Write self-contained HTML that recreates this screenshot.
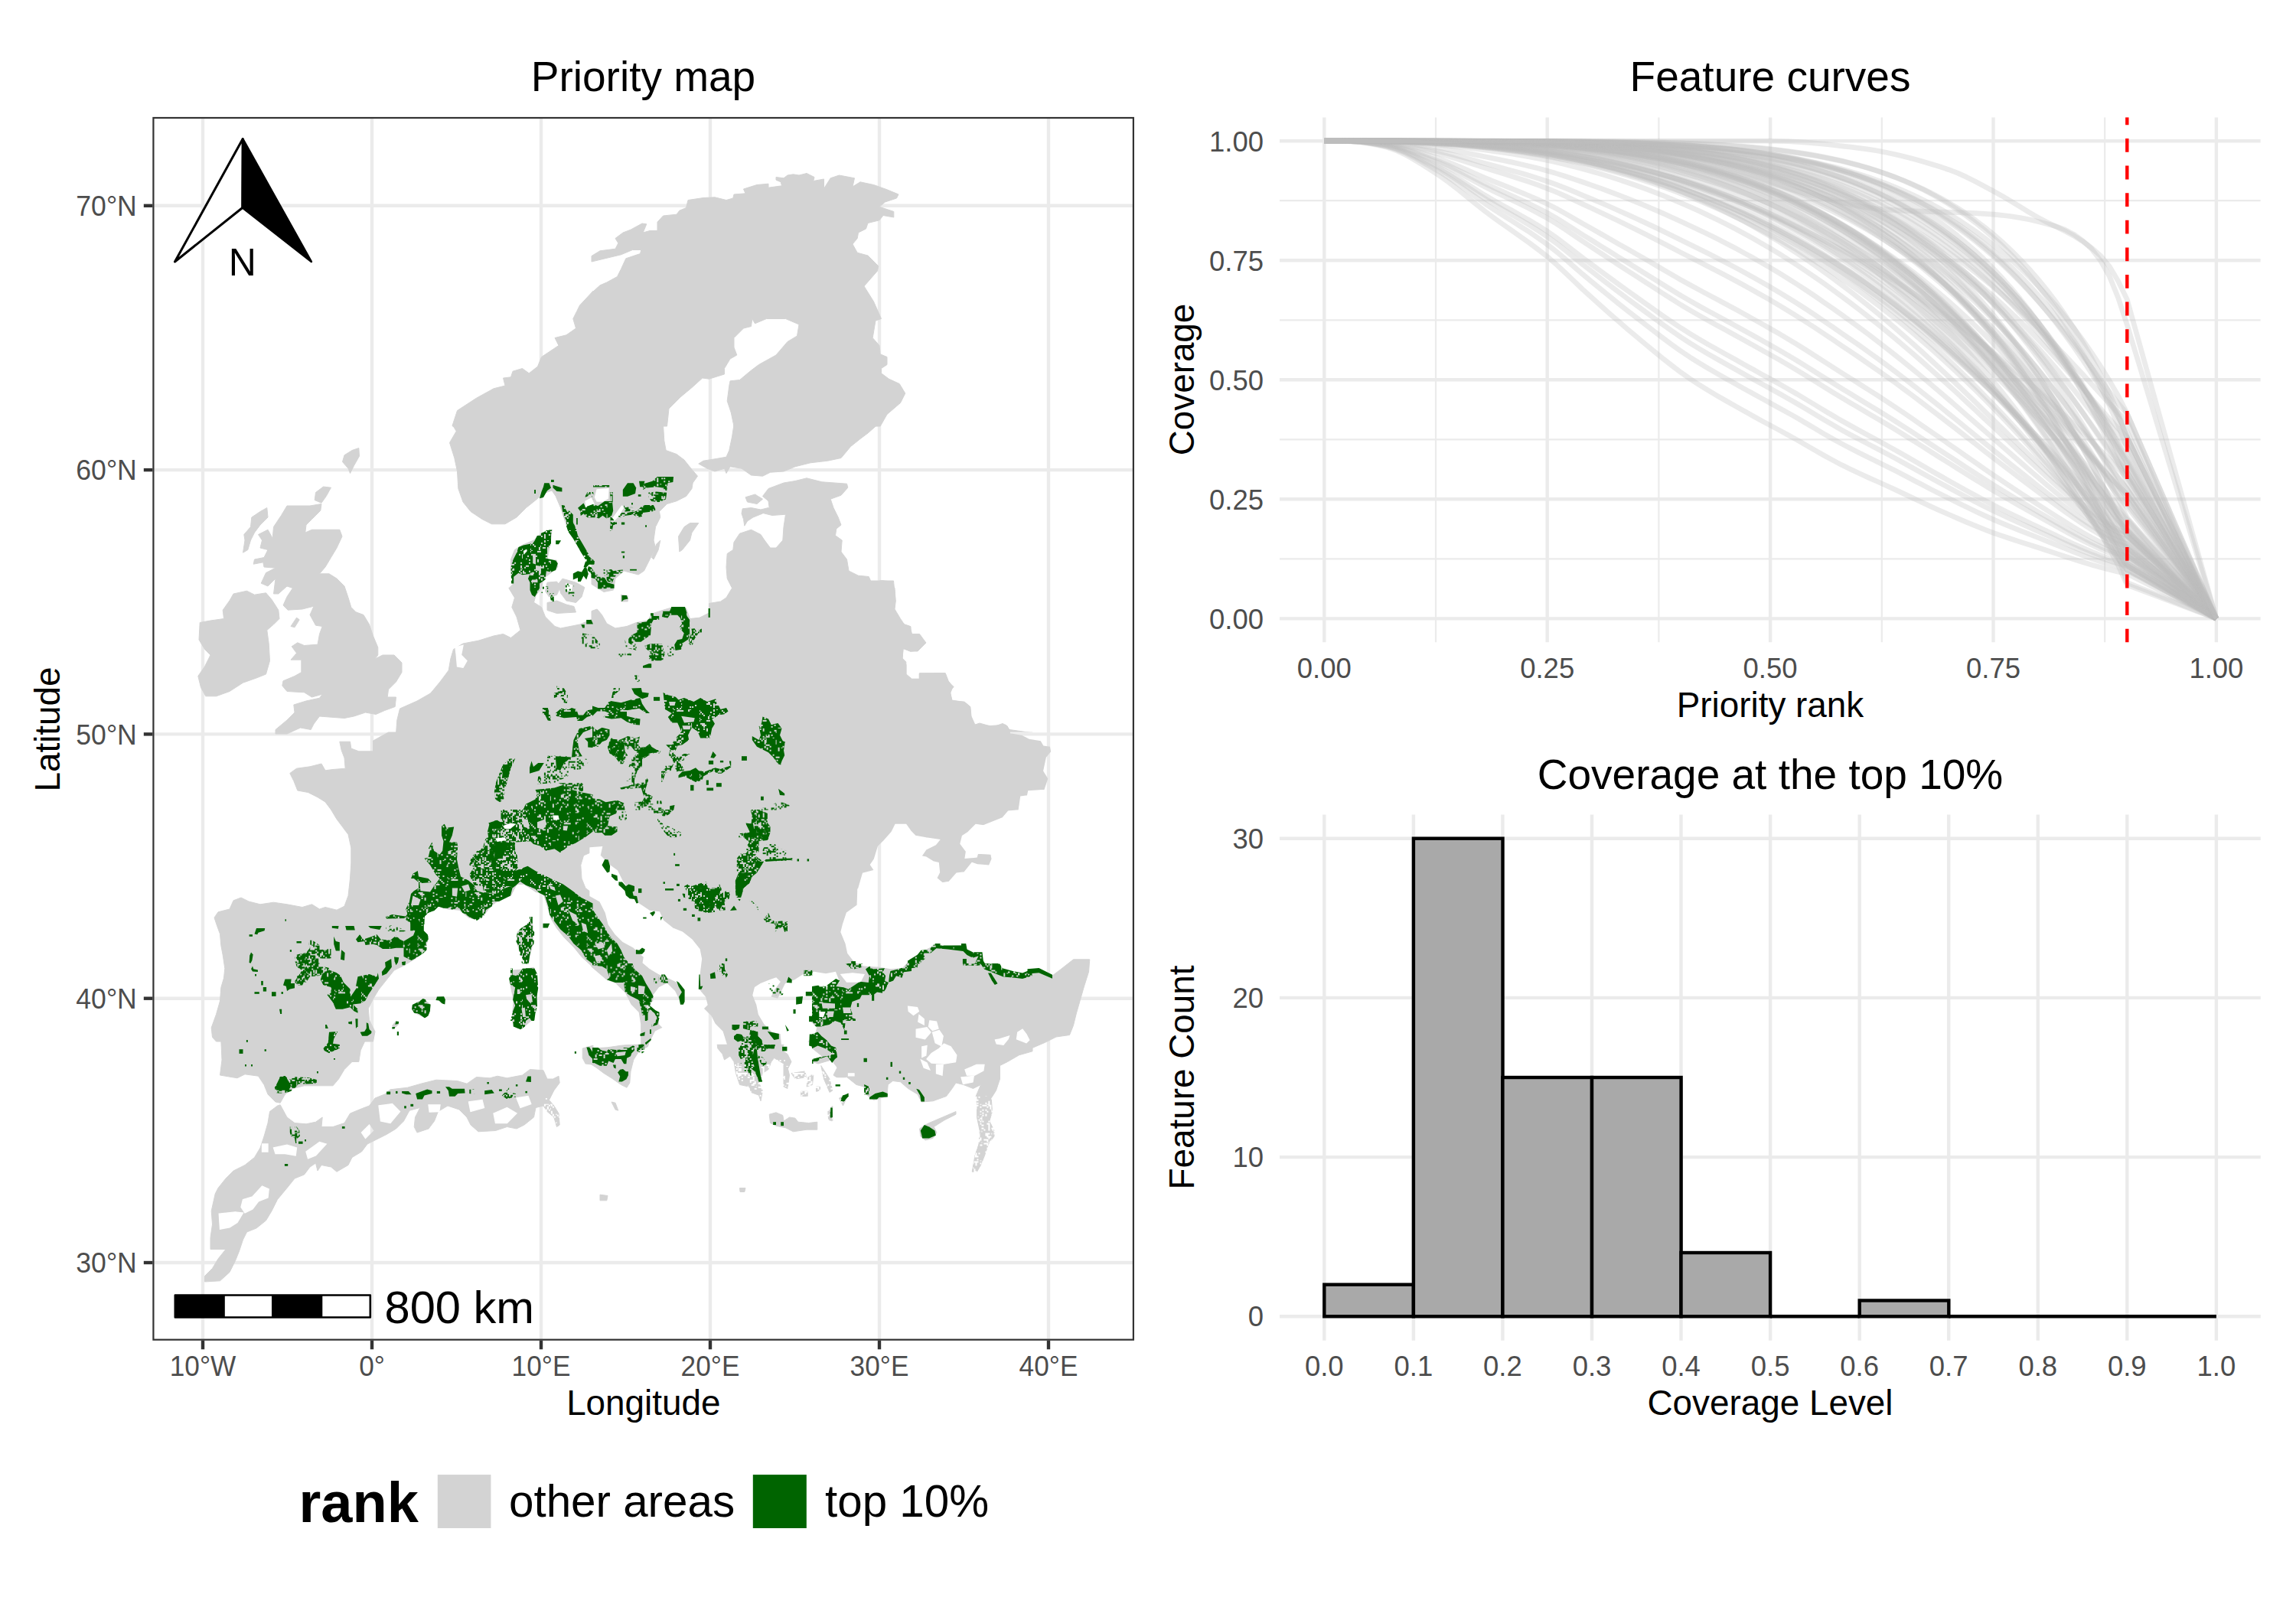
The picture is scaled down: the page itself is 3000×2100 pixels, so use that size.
<!DOCTYPE html>
<html><head><meta charset="utf-8"><title>Priority map</title>
<style>html,body{margin:0;padding:0;background:#fff}svg{display:block}</style></head>
<body>
<svg width="3000" height="2100" viewBox="0 0 3000 2100" font-family='"Liberation Sans", sans-serif'>
<rect width="3000" height="2100" fill="#fff"/>
<defs><clipPath id="mapclip"><rect x="199.3" y="152.9" width="1282.7" height="1598.8999999999999"/></clipPath>
<pattern id="sp" width="73.68" height="73.68" patternUnits="userSpaceOnUse" fill="#000" shape-rendering="crispEdges"><rect x="3.68" y="0.00" width="1.89" height="1.89"/><rect x="20.26" y="0.00" width="1.89" height="1.89"/><rect x="29.47" y="0.00" width="3.73" height="1.89"/><rect x="38.68" y="0.00" width="1.89" height="1.89"/><rect x="42.37" y="0.00" width="5.58" height="1.89"/><rect x="3.68" y="1.84" width="14.79" height="1.89"/><rect x="23.95" y="1.84" width="1.89" height="1.89"/><rect x="33.16" y="1.84" width="1.89" height="1.89"/><rect x="38.68" y="1.84" width="1.89" height="1.89"/><rect x="44.21" y="1.84" width="1.89" height="1.89"/><rect x="51.58" y="1.84" width="1.89" height="1.89"/><rect x="5.53" y="3.68" width="5.58" height="1.89"/><rect x="14.74" y="3.68" width="1.89" height="1.89"/><rect x="20.26" y="3.68" width="1.89" height="1.89"/><rect x="23.95" y="3.68" width="3.73" height="1.89"/><rect x="29.47" y="3.68" width="1.89" height="1.89"/><rect x="46.05" y="3.68" width="1.89" height="1.89"/><rect x="55.26" y="3.68" width="3.73" height="1.89"/><rect x="62.63" y="3.68" width="1.89" height="1.89"/><rect x="5.53" y="5.53" width="3.73" height="1.89"/><rect x="22.10" y="5.53" width="3.73" height="1.89"/><rect x="66.31" y="5.53" width="1.89" height="1.89"/><rect x="5.53" y="7.37" width="1.89" height="1.89"/><rect x="11.05" y="7.37" width="1.89" height="1.89"/><rect x="18.42" y="7.37" width="3.73" height="1.89"/><rect x="25.79" y="7.37" width="1.89" height="1.89"/><rect x="35.00" y="7.37" width="5.58" height="1.89"/><rect x="42.37" y="7.37" width="1.89" height="1.89"/><rect x="46.05" y="7.37" width="1.89" height="1.89"/><rect x="64.47" y="7.37" width="3.73" height="1.89"/><rect x="7.37" y="9.21" width="1.89" height="1.89"/><rect x="25.79" y="9.21" width="1.89" height="1.89"/><rect x="35.00" y="9.21" width="3.73" height="1.89"/><rect x="55.26" y="9.21" width="1.89" height="1.89"/><rect x="66.31" y="9.21" width="1.89" height="1.89"/><rect x="11.05" y="11.05" width="1.89" height="1.89"/><rect x="22.10" y="11.05" width="5.58" height="1.89"/><rect x="36.84" y="11.05" width="5.58" height="1.89"/><rect x="51.58" y="11.05" width="3.73" height="1.89"/><rect x="57.10" y="11.05" width="1.89" height="1.89"/><rect x="22.10" y="12.89" width="1.89" height="1.89"/><rect x="27.63" y="12.89" width="1.89" height="1.89"/><rect x="38.68" y="12.89" width="1.89" height="1.89"/><rect x="58.94" y="12.89" width="1.89" height="1.89"/><rect x="25.79" y="14.74" width="3.73" height="1.89"/><rect x="33.16" y="14.74" width="5.58" height="1.89"/><rect x="42.37" y="14.74" width="1.89" height="1.89"/><rect x="70.00" y="14.74" width="3.73" height="1.89"/><rect x="1.84" y="16.58" width="5.58" height="1.89"/><rect x="23.95" y="16.58" width="3.73" height="1.89"/><rect x="36.84" y="16.58" width="1.89" height="1.89"/><rect x="40.52" y="16.58" width="1.89" height="1.89"/><rect x="46.05" y="16.58" width="1.89" height="1.89"/><rect x="49.73" y="16.58" width="1.89" height="1.89"/><rect x="53.42" y="16.58" width="1.89" height="1.89"/><rect x="57.10" y="16.58" width="1.89" height="1.89"/><rect x="62.63" y="16.58" width="3.73" height="1.89"/><rect x="0.00" y="18.42" width="7.42" height="1.89"/><rect x="18.42" y="18.42" width="1.89" height="1.89"/><rect x="29.47" y="18.42" width="1.89" height="1.89"/><rect x="38.68" y="18.42" width="3.73" height="1.89"/><rect x="47.89" y="18.42" width="1.89" height="1.89"/><rect x="68.15" y="18.42" width="1.89" height="1.89"/><rect x="3.68" y="20.26" width="3.73" height="1.89"/><rect x="33.16" y="20.26" width="5.58" height="1.89"/><rect x="58.94" y="20.26" width="1.89" height="1.89"/><rect x="71.84" y="20.26" width="1.89" height="1.89"/><rect x="0.00" y="22.10" width="1.89" height="1.89"/><rect x="9.21" y="22.10" width="1.89" height="1.89"/><rect x="20.26" y="22.10" width="1.89" height="1.89"/><rect x="27.63" y="22.10" width="3.73" height="1.89"/><rect x="36.84" y="22.10" width="1.89" height="1.89"/><rect x="53.42" y="22.10" width="3.73" height="1.89"/><rect x="58.94" y="22.10" width="1.89" height="1.89"/><rect x="64.47" y="22.10" width="1.89" height="1.89"/><rect x="1.84" y="23.95" width="1.89" height="1.89"/><rect x="9.21" y="23.95" width="1.89" height="1.89"/><rect x="38.68" y="23.95" width="1.89" height="1.89"/><rect x="47.89" y="23.95" width="1.89" height="1.89"/><rect x="60.79" y="23.95" width="1.89" height="1.89"/><rect x="64.47" y="23.95" width="1.89" height="1.89"/><rect x="3.68" y="25.79" width="1.89" height="1.89"/><rect x="9.21" y="25.79" width="1.89" height="1.89"/><rect x="14.74" y="25.79" width="1.89" height="1.89"/><rect x="20.26" y="25.79" width="3.73" height="1.89"/><rect x="36.84" y="25.79" width="5.58" height="1.89"/><rect x="46.05" y="25.79" width="1.89" height="1.89"/><rect x="58.94" y="25.79" width="5.58" height="1.89"/><rect x="20.26" y="27.63" width="1.89" height="1.89"/><rect x="46.05" y="27.63" width="1.89" height="1.89"/><rect x="49.73" y="27.63" width="1.89" height="1.89"/><rect x="58.94" y="27.63" width="1.89" height="1.89"/><rect x="70.00" y="27.63" width="1.89" height="1.89"/><rect x="0.00" y="29.47" width="1.89" height="1.89"/><rect x="3.68" y="29.47" width="3.73" height="1.89"/><rect x="16.58" y="29.47" width="1.89" height="1.89"/><rect x="55.26" y="29.47" width="7.42" height="1.89"/><rect x="14.74" y="31.31" width="1.89" height="1.89"/><rect x="35.00" y="31.31" width="1.89" height="1.89"/><rect x="47.89" y="31.31" width="1.89" height="1.89"/><rect x="55.26" y="31.31" width="1.89" height="1.89"/><rect x="71.84" y="31.31" width="1.89" height="1.89"/><rect x="0.00" y="33.16" width="3.73" height="1.89"/><rect x="22.10" y="33.16" width="1.89" height="1.89"/><rect x="25.79" y="33.16" width="1.89" height="1.89"/><rect x="46.05" y="33.16" width="1.89" height="1.89"/><rect x="12.89" y="35.00" width="1.89" height="1.89"/><rect x="16.58" y="35.00" width="1.89" height="1.89"/><rect x="20.26" y="35.00" width="3.73" height="1.89"/><rect x="42.37" y="35.00" width="1.89" height="1.89"/><rect x="49.73" y="35.00" width="1.89" height="1.89"/><rect x="3.68" y="36.84" width="1.89" height="1.89"/><rect x="9.21" y="36.84" width="1.89" height="1.89"/><rect x="18.42" y="36.84" width="7.42" height="1.89"/><rect x="55.26" y="36.84" width="1.89" height="1.89"/><rect x="66.31" y="36.84" width="3.73" height="1.89"/><rect x="12.89" y="38.68" width="1.89" height="1.89"/><rect x="18.42" y="38.68" width="1.89" height="1.89"/><rect x="38.68" y="38.68" width="1.89" height="1.89"/><rect x="68.15" y="38.68" width="1.89" height="1.89"/><rect x="1.84" y="40.52" width="3.73" height="1.89"/><rect x="16.58" y="40.52" width="1.89" height="1.89"/><rect x="23.95" y="40.52" width="1.89" height="1.89"/><rect x="35.00" y="40.52" width="1.89" height="1.89"/><rect x="38.68" y="40.52" width="1.89" height="1.89"/><rect x="66.31" y="40.52" width="1.89" height="1.89"/><rect x="27.63" y="42.37" width="1.89" height="1.89"/><rect x="36.84" y="42.37" width="3.73" height="1.89"/><rect x="47.89" y="42.37" width="5.58" height="1.89"/><rect x="55.26" y="42.37" width="3.73" height="1.89"/><rect x="66.31" y="42.37" width="1.89" height="1.89"/><rect x="14.74" y="44.21" width="1.89" height="1.89"/><rect x="20.26" y="44.21" width="5.58" height="1.89"/><rect x="31.31" y="44.21" width="5.58" height="1.89"/><rect x="38.68" y="44.21" width="3.73" height="1.89"/><rect x="47.89" y="44.21" width="1.89" height="1.89"/><rect x="53.42" y="44.21" width="1.89" height="1.89"/><rect x="57.10" y="44.21" width="1.89" height="1.89"/><rect x="3.68" y="46.05" width="1.89" height="1.89"/><rect x="11.05" y="46.05" width="1.89" height="1.89"/><rect x="14.74" y="46.05" width="1.89" height="1.89"/><rect x="18.42" y="46.05" width="1.89" height="1.89"/><rect x="22.10" y="46.05" width="1.89" height="1.89"/><rect x="27.63" y="46.05" width="1.89" height="1.89"/><rect x="36.84" y="46.05" width="1.89" height="1.89"/><rect x="40.52" y="46.05" width="1.89" height="1.89"/><rect x="51.58" y="46.05" width="1.89" height="1.89"/><rect x="58.94" y="46.05" width="1.89" height="1.89"/><rect x="3.68" y="47.89" width="1.89" height="1.89"/><rect x="22.10" y="47.89" width="1.89" height="1.89"/><rect x="40.52" y="47.89" width="1.89" height="1.89"/><rect x="51.58" y="47.89" width="1.89" height="1.89"/><rect x="55.26" y="47.89" width="1.89" height="1.89"/><rect x="0.00" y="49.73" width="5.58" height="1.89"/><rect x="31.31" y="49.73" width="1.89" height="1.89"/><rect x="35.00" y="49.73" width="1.89" height="1.89"/><rect x="42.37" y="49.73" width="1.89" height="1.89"/><rect x="49.73" y="49.73" width="1.89" height="1.89"/><rect x="53.42" y="49.73" width="1.89" height="1.89"/><rect x="70.00" y="49.73" width="1.89" height="1.89"/><rect x="18.42" y="51.58" width="1.89" height="1.89"/><rect x="27.63" y="51.58" width="1.89" height="1.89"/><rect x="36.84" y="51.58" width="1.89" height="1.89"/><rect x="42.37" y="51.58" width="3.73" height="1.89"/><rect x="47.89" y="51.58" width="1.89" height="1.89"/><rect x="57.10" y="51.58" width="1.89" height="1.89"/><rect x="71.84" y="51.58" width="1.89" height="1.89"/><rect x="20.26" y="53.42" width="1.89" height="1.89"/><rect x="31.31" y="53.42" width="1.89" height="1.89"/><rect x="46.05" y="53.42" width="3.73" height="1.89"/><rect x="57.10" y="53.42" width="1.89" height="1.89"/><rect x="0.00" y="55.26" width="1.89" height="1.89"/><rect x="20.26" y="55.26" width="1.89" height="1.89"/><rect x="27.63" y="55.26" width="1.89" height="1.89"/><rect x="35.00" y="55.26" width="1.89" height="1.89"/><rect x="42.37" y="55.26" width="5.58" height="1.89"/><rect x="51.58" y="55.26" width="1.89" height="1.89"/><rect x="58.94" y="55.26" width="1.89" height="1.89"/><rect x="62.63" y="55.26" width="1.89" height="1.89"/><rect x="3.68" y="57.10" width="1.89" height="1.89"/><rect x="20.26" y="57.10" width="3.73" height="1.89"/><rect x="31.31" y="57.10" width="1.89" height="1.89"/><rect x="35.00" y="57.10" width="1.89" height="1.89"/><rect x="47.89" y="57.10" width="3.73" height="1.89"/><rect x="58.94" y="57.10" width="1.89" height="1.89"/><rect x="64.47" y="57.10" width="1.89" height="1.89"/><rect x="23.95" y="58.94" width="1.89" height="1.89"/><rect x="29.47" y="58.94" width="1.89" height="1.89"/><rect x="57.10" y="58.94" width="1.89" height="1.89"/><rect x="60.79" y="58.94" width="1.89" height="1.89"/><rect x="66.31" y="58.94" width="1.89" height="1.89"/><rect x="20.26" y="60.79" width="1.89" height="1.89"/><rect x="27.63" y="60.79" width="3.73" height="1.89"/><rect x="55.26" y="60.79" width="1.89" height="1.89"/><rect x="5.53" y="62.63" width="1.89" height="1.89"/><rect x="25.79" y="62.63" width="1.89" height="1.89"/><rect x="29.47" y="62.63" width="1.89" height="1.89"/><rect x="49.73" y="62.63" width="1.89" height="1.89"/><rect x="1.84" y="64.47" width="1.89" height="1.89"/><rect x="5.53" y="64.47" width="1.89" height="1.89"/><rect x="14.74" y="64.47" width="1.89" height="1.89"/><rect x="20.26" y="64.47" width="1.89" height="1.89"/><rect x="27.63" y="64.47" width="1.89" height="1.89"/><rect x="31.31" y="64.47" width="1.89" height="1.89"/><rect x="38.68" y="64.47" width="1.89" height="1.89"/><rect x="44.21" y="64.47" width="3.73" height="1.89"/><rect x="51.58" y="64.47" width="1.89" height="1.89"/><rect x="55.26" y="64.47" width="1.89" height="1.89"/><rect x="3.68" y="66.31" width="7.42" height="1.89"/><rect x="46.05" y="66.31" width="1.89" height="1.89"/><rect x="51.58" y="66.31" width="7.42" height="1.89"/><rect x="62.63" y="66.31" width="1.89" height="1.89"/><rect x="70.00" y="66.31" width="1.89" height="1.89"/><rect x="5.53" y="68.15" width="1.89" height="1.89"/><rect x="14.74" y="68.15" width="1.89" height="1.89"/><rect x="27.63" y="68.15" width="1.89" height="1.89"/><rect x="36.84" y="68.15" width="3.73" height="1.89"/><rect x="46.05" y="68.15" width="1.89" height="1.89"/><rect x="51.58" y="68.15" width="1.89" height="1.89"/><rect x="55.26" y="68.15" width="1.89" height="1.89"/><rect x="3.68" y="70.00" width="1.89" height="1.89"/><rect x="7.37" y="70.00" width="3.73" height="1.89"/><rect x="14.74" y="70.00" width="1.89" height="1.89"/><rect x="23.95" y="70.00" width="1.89" height="1.89"/><rect x="29.47" y="70.00" width="3.73" height="1.89"/><rect x="38.68" y="70.00" width="1.89" height="1.89"/><rect x="49.73" y="70.00" width="1.89" height="1.89"/><rect x="55.26" y="70.00" width="1.89" height="1.89"/><rect x="7.37" y="71.84" width="3.73" height="1.89"/><rect x="14.74" y="71.84" width="1.89" height="1.89"/><rect x="38.68" y="71.84" width="1.89" height="1.89"/><rect x="51.58" y="71.84" width="1.89" height="1.89"/></pattern>
<mask id="landmask" maskUnits="userSpaceOnUse" x="0" y="0" width="3000" height="2100">
<rect width="3000" height="2100" fill="#000"/>
<polygon points="591.2,555.8 597.5,536.5 622.5,520.2 645.0,507.8 660.0,504.0 657.5,494.0 667.5,492.8 670.0,485.2 682.5,481.5 691.2,487.8 702.5,479.0 707.5,466.5 715.0,461.5 730.0,451.5 725.0,441.5 740.0,437.8 752.5,429.0 748.8,416.5 753.8,406.5 757.5,399.0 775.0,380.2 775.0,557.0 591.2,557.0" fill="#fff" stroke="#fff" stroke-width="1"/>
<polygon points="773.0,557.0 773.0,382.8 784.0,372.8 792.8,369.0 806.5,361.5 811.5,351.5 817.8,337.8 836.5,331.5 837.8,326.5 826.5,326.5 811.5,332.8 773.0,342.0 773.0,334.5 784.0,327.8 804.0,325.2 807.8,317.8 804.0,311.5 814.0,304.0 824.0,300.2 839.0,292.0 844.8,292.8 840.2,304.0 849.0,301.5 859.0,301.5 859.0,290.2 866.5,282.0 884.0,280.2 887.8,275.2 896.5,271.5 899.0,261.5 919.0,258.5 934.0,257.8 949.0,261.5 957.8,259.0 959.0,254.0 974.0,252.8 971.5,247.0 989.0,241.5 1004.0,240.2 1004.0,245.2 1021.5,242.8 1020.2,237.8 1014.0,235.2 1014.0,231.5 1024.0,232.8 1029.0,229.0 1036.5,227.8 1044.0,229.0 1054.0,226.5 1064.0,231.5 1062.8,236.5 1076.5,234.0 1076.5,246.5 1085.2,232.8 1096.5,229.0 1116.5,232.8 1114.0,244.0 1124.0,237.8 1141.5,241.5 1159.0,247.8 1174.0,254.0 1171.5,259.0 1156.5,264.0 1149.0,270.2 1167.8,276.5 1167.8,284.0 1154.0,281.5 1149.0,287.8 1134.0,291.5 1131.5,299.0 1121.5,304.0 1120.2,311.5 1114.0,319.0 1120.2,330.2 1134.0,334.0 1147.8,347.8 1146.5,354.0 1129.0,374.0 1141.5,394.0 1151.5,416.5 1144.0,419.0 1140.2,441.5 1149.0,451.5 1150.2,462.8 1159.0,466.5 1159.0,476.5 1151.5,481.5 1151.5,487.8 1161.5,495.2 1175.2,501.5 1182.8,514.0 1176.5,526.5 1159.0,541.5 1150.2,557.0 959.0,557.0 955.2,539.0 950.2,524.0 952.8,504.0 954.0,497.8 966.5,496.5 981.5,484.0 991.5,476.5 1014.0,464.0 1029.0,446.5 1041.5,439.0 1044.0,424.0 1026.5,416.5 1001.5,416.5 986.5,422.8 982.8,416.5 981.5,426.5 971.5,429.0 959.0,441.5 959.0,454.0 962.8,464.0 954.0,469.0 946.5,481.5 946.5,489.0 926.5,495.2 917.8,494.0 904.0,506.5 889.0,519.0 874.0,534.0 871.5,557.0" fill="#fff" stroke="#fff" stroke-width="1"/>
<polygon points="468.8,585.5 469.5,596.0 462.5,608.5 457.5,618.5 455.0,612.2 447.5,603.5 450.0,594.8 460.0,588.5" fill="#fff" stroke="#fff" stroke-width="1"/>
<polygon points="422.5,636.0 432.5,637.2 426.2,648.5 420.0,657.2 411.2,653.5 412.5,643.5" fill="#fff" stroke="#fff" stroke-width="1"/>
<polygon points="348.8,663.5 350.0,676.0 340.0,686.0 332.5,696.0 327.5,706.0 323.8,718.5 317.5,722.2 320.0,706.0 318.8,698.5 327.5,688.5 328.8,676.0 340.0,668.5" fill="#fff" stroke="#fff" stroke-width="1"/>
<polygon points="375.0,661.0 405.0,661.0 420.0,658.5 418.8,667.2 407.5,678.5 400.0,686.0 398.8,696.0 407.5,692.2 443.8,692.2 447.0,701.0 440.0,716.0 432.5,728.5 425.0,741.0 417.5,749.8 430.0,749.8 440.0,756.0 450.0,766.0 455.0,781.0 458.8,793.5 465.0,799.8 475.0,803.5 482.5,816.0 487.5,831.0 493.8,846.0 493.8,856.0 490.0,861.0 500.0,856.0 515.0,856.0 525.0,866.0 525.0,878.5 517.5,891.0 507.5,901.0 506.2,911.0 517.5,911.0 516.2,923.5 502.5,928.5 491.2,933.5 477.5,931.0 462.5,936.0 450.0,938.5 432.5,937.2 417.5,936.0 410.0,946.0 406.2,953.5 392.5,951.0 375.0,959.0 360.0,959.0 360.0,953.5 375.0,941.0 385.0,931.0 383.8,921.0 400.0,916.0 417.5,912.2 421.2,907.2 407.5,911.0 397.5,904.8 375.0,903.5 368.8,896.0 370.0,889.8 385.0,883.5 393.8,878.5 393.8,862.2 380.0,862.2 387.5,853.5 381.2,844.8 388.8,839.8 397.5,843.5 415.0,842.2 417.5,828.5 421.2,818.5 412.5,817.2 405.0,803.5 410.0,792.2 395.0,796.0 376.2,797.2 370.0,791.0 375.0,779.8 382.5,768.5 375.0,766.0 363.8,776.0 357.5,776.0 360.0,756.0 350.0,766.0 341.2,762.2 347.5,748.5 360.0,742.2 345.0,741.0 343.8,734.8 331.2,737.2 332.5,731.0 345.0,728.5 350.0,718.5 340.0,716.0 342.5,706.0 337.5,698.5 350.0,692.2 356.2,703.5 357.5,688.5 367.5,673.5" fill="#fff" stroke="#fff" stroke-width="1"/>
<polygon points="380.0,818.5 387.5,807.2 391.2,809.8 385.0,819.8" fill="#fff" stroke="#fff" stroke-width="1"/>
<polygon points="322.5,772.2 332.5,777.2 347.5,774.8 355.0,783.5 363.8,797.2 365.0,808.5 357.5,816.0 348.8,823.5 351.2,841.0 352.5,863.5 347.5,881.0 335.0,886.0 317.5,892.2 300.0,903.5 282.5,909.8 268.8,909.8 262.5,898.5 258.8,883.5 267.5,871.0 275.0,856.0 267.5,848.5 260.0,836.0 261.2,813.5 275.0,811.0 292.5,808.5 291.2,797.2 300.0,784.8 305.0,776.0" fill="#fff" stroke="#fff" stroke-width="1"/>
<polygon points="591.2,555.0 596.2,563.5 587.5,578.5 593.8,598.5 597.5,616.0 598.8,638.5 605.0,656.0 615.0,668.5 630.0,678.5 642.5,684.8 660.0,684.8 675.0,676.0 687.5,663.5 700.0,653.5 710.0,644.8 721.2,641.0 726.2,648.5 732.5,663.5 740.0,686.0 750.0,703.5 762.5,721.0 775.0,737.2 775.0,555.0" fill="#fff" stroke="#fff" stroke-width="1"/>
<polygon points="721.2,692.2 718.8,711.0 715.0,731.0 727.5,732.2 728.8,741.0 720.0,748.5 710.0,756.0 707.5,768.5 700.0,778.5 697.5,787.2 690.0,773.5 685.0,776.0 672.5,781.0 665.0,768.5 670.0,763.5 667.5,746.0 667.5,731.0 672.5,718.5 682.5,712.2 697.5,706.0 705.0,698.5" fill="#fff" stroke="#fff" stroke-width="1"/>
<polygon points="665.0,768.5 672.5,781.0 668.8,793.5 675.0,806.0 680.0,823.5 667.5,833.5 657.5,828.5 645.0,831.0 625.0,837.2 605.0,841.0 592.5,848.5 588.8,861.0 586.2,876.0 575.0,891.0 562.5,906.0 545.0,916.0 522.5,926.0 518.8,941.0 517.5,959.0 775.0,959.0 775.0,808.5 757.5,816.0 732.5,821.0 725.0,818.5 712.5,806.0 707.5,793.5 697.5,787.2 690.0,773.5" fill="#fff" stroke="#fff" stroke-width="1"/>
<polygon points="866.5,555.0 867.8,576.0 870.2,588.5 884.0,593.5 894.0,601.0 904.0,613.5 911.5,622.2 905.2,631.0 904.0,638.5 896.5,648.5 884.0,654.8 871.5,658.5 861.5,668.5 862.8,676.0 856.5,688.5 854.0,706.0 856.5,716.0 849.0,731.0 841.5,746.0 834.0,751.0 815.2,746.0 804.0,756.0 801.5,771.0 789.0,773.5 773.0,763.5 773.0,555.0" fill="#fff" stroke="#fff" stroke-width="1"/>
<polygon points="862.8,706.0 860.2,718.5 854.0,731.0 851.5,728.5 857.8,711.0" fill="#fff" stroke="#fff" stroke-width="1"/>
<polygon points="912.8,683.5 904.0,696.0 901.5,706.0 891.5,718.5 887.8,721.0 886.5,701.0 894.0,688.5 901.5,683.5" fill="#fff" stroke="#fff" stroke-width="1"/>
<polygon points="811.5,777.2 820.2,778.5 820.2,786.0 811.5,786.0" fill="#fff" stroke="#fff" stroke-width="1"/>
<polygon points="959.0,555.0 956.5,571.0 952.8,588.5 949.0,597.2 934.0,599.8 919.0,602.2 912.8,606.0 924.0,612.2 934.0,616.0 946.5,612.2 949.0,618.5 954.0,609.8 969.0,612.2 981.5,621.0 996.5,622.2 1006.5,617.2 1024.0,616.0 1039.0,609.8 1059.0,604.8 1081.5,602.2 1099.0,598.5 1111.5,583.5 1124.0,573.5 1134.0,566.0 1146.5,555.0" fill="#fff" stroke="#fff" stroke-width="1"/>
<polygon points="1004.0,638.5 1024.0,631.0 1039.0,628.5 1054.0,624.8 1074.0,629.8 1106.5,632.2 1107.8,637.2 1099.0,647.2 1085.2,652.2 1089.0,663.5 1095.2,676.0 1099.0,686.0 1092.8,691.0 1091.5,699.8 1100.2,706.0 1099.0,721.0 1106.5,731.0 1109.0,746.0 1121.5,752.2 1135.2,753.5 1139.0,762.2 1151.5,758.5 1162.8,759.8 1169.0,768.5 1170.2,786.0 1169.0,796.0 1176.5,808.5 1181.5,816.0 1189.0,818.5 1191.5,828.5 1201.5,828.5 1209.0,841.0 1199.0,851.0 1189.0,851.0 1180.2,847.2 1179.0,861.0 1184.0,868.5 1184.0,881.0 1191.5,887.2 1201.5,887.2 1201.5,879.8 1235.2,879.8 1239.0,889.8 1245.2,897.2 1241.5,906.0 1244.0,916.0 1260.2,917.2 1267.8,923.5 1269.0,936.0 1274.0,947.2 1294.0,948.5 1314.0,947.2 1319.0,953.5 1349.0,957.8 1349.0,959.0 773.0,959.0 773.0,798.5 780.2,796.0 786.5,803.5 792.8,814.8 804.0,821.0 819.0,818.5 831.5,813.5 846.5,811.0 851.5,802.2 866.5,797.2 879.0,793.5 896.5,794.8 901.5,808.5 914.0,807.2 926.5,801.0 926.5,788.5 941.5,786.0 949.0,781.0 956.5,768.5 950.2,756.0 949.0,741.0 950.2,723.5 957.8,718.5 959.0,708.5 966.5,697.2 981.5,692.2 994.0,698.5 999.0,706.0 1006.5,716.0 1014.0,716.0 1022.8,706.0 1024.0,688.5 1026.5,672.2 1009.0,673.5 994.0,669.8 1005.2,663.5 1004.0,654.8 996.5,648.5" fill="#fff" stroke="#fff" stroke-width="1"/>
<polygon points="974.0,649.8 986.5,646.0 996.5,652.2 989.0,658.5 976.5,656.0" fill="#fff" stroke="#fff" stroke-width="1"/>
<polygon points="970.2,664.8 981.5,663.5 994.0,666.0 1004.0,663.5 996.5,671.0 984.0,676.0 976.5,681.0 972.8,687.2 971.5,678.5 969.0,671.0" fill="#fff" stroke="#fff" stroke-width="1"/>
<polygon points="507.5,957.0 487.5,968.0 487.5,981.8 468.8,981.8 458.8,978.0 457.5,969.2 443.8,969.2 446.2,980.5 450.0,990.5 451.2,1004.2 435.0,1005.5 425.0,1006.8 420.0,998.0 405.0,1001.8 387.5,1004.2 378.8,1010.5 383.8,1020.5 388.8,1033.0 402.5,1035.5 415.0,1041.8 425.0,1048.0 432.5,1058.0 440.0,1070.5 447.5,1080.5 455.0,1090.5 458.8,1108.0 458.8,1128.0 457.5,1148.0 455.0,1170.5 450.0,1184.2 440.0,1189.2 425.0,1185.5 417.5,1188.0 407.5,1181.8 395.0,1185.5 375.0,1181.8 357.5,1179.2 340.0,1181.8 325.0,1178.0 315.0,1173.0 305.0,1176.8 300.0,1188.0 285.0,1191.8 280.0,1199.2 283.8,1210.5 287.5,1220.5 288.8,1235.5 291.2,1248.0 293.8,1265.5 292.5,1278.0 288.8,1290.5 287.5,1308.0 282.5,1325.5 276.2,1343.0 277.5,1355.5 282.5,1361.0 487.5,1361.0 490.0,1348.0 482.5,1333.0 481.2,1318.0 487.5,1305.5 495.0,1293.0 505.0,1280.5 515.0,1268.0 527.5,1261.8 542.5,1253.0 555.0,1240.5 558.8,1225.5 552.5,1215.5 552.5,1198.0 560.0,1191.8 572.5,1184.2 585.0,1188.0 600.0,1189.2 612.5,1199.2 622.5,1201.8 632.5,1195.5 642.5,1183.0 657.5,1173.0 667.5,1170.5 675.0,1155.5 685.0,1155.5 700.0,1165.5 710.0,1168.0 715.0,1183.0 720.0,1200.5 727.5,1213.0 737.5,1225.5 750.0,1238.0 760.0,1250.5 775.0,1264.2 775.0,1168.0 765.0,1160.5 760.0,1148.0 758.8,1130.5 762.5,1118.0 775.0,1112.5 775.0,957.0" fill="#fff" stroke="#fff" stroke-width="1"/>
<polygon points="693.8,1198.0 696.2,1210.5 696.2,1233.0 691.2,1253.0 686.2,1258.0 680.0,1245.5 675.0,1230.5 676.2,1218.0 685.0,1210.5 691.2,1205.5" fill="#fff" stroke="#fff" stroke-width="1"/>
<polygon points="685.0,1266.8 697.5,1264.2 701.2,1278.0 701.2,1308.0 697.5,1330.5 685.0,1341.8 675.0,1343.0 668.8,1333.0 671.2,1308.0 666.2,1283.0 670.0,1268.0" fill="#fff" stroke="#fff" stroke-width="1"/>
<polygon points="553.8,1305.5 562.5,1313.0 560.0,1325.5 551.2,1328.0 541.2,1323.0 538.8,1315.5 545.0,1310.5" fill="#fff" stroke="#fff" stroke-width="1"/>
<polygon points="570.0,1303.0 580.0,1302.5 581.2,1311.8 575.0,1309.2" fill="#fff" stroke="#fff" stroke-width="1"/>
<polygon points="517.5,1334.2 521.2,1338.0 515.0,1344.2 512.5,1340.5" fill="#fff" stroke="#fff" stroke-width="1"/>
<polygon points="773.0,957.0 1349.0,957.0 1349.0,1361.0 773.0,1361.0" fill="#fff" stroke="#fff" stroke-width="1"/>
<polygon points="1059.0,759.0 1167.5,759.0 1170.0,785.0 1167.5,795.0 1175.0,810.0 1182.5,816.2 1190.0,818.8 1190.0,828.8 1202.5,830.0 1210.0,840.0 1200.0,850.0 1190.0,851.2 1180.0,847.5 1178.8,860.0 1183.8,865.0 1183.8,882.5 1190.0,887.5 1201.2,887.5 1201.2,880.0 1235.0,879.5 1240.0,892.5 1246.2,897.5 1241.2,902.5 1243.8,915.0 1260.0,917.5 1267.5,923.8 1268.8,940.0 1272.5,947.5 1280.0,945.0 1297.5,950.0 1310.0,945.5 1316.2,948.8 1320.0,957.5 1335.0,960.0 1345.0,965.0 1360.0,967.5 1363.8,973.8 1372.5,975.0 1373.8,982.5 1367.5,990.0 1363.8,1007.5 1370.0,1017.5 1365.0,1032.5 1343.8,1033.8 1342.5,1040.0 1333.8,1041.2 1331.2,1058.8 1317.5,1060.0 1310.0,1068.8 1297.5,1073.8 1285.0,1078.8 1275.0,1077.5 1265.0,1087.5 1257.5,1092.5 1255.0,1102.5 1262.5,1112.5 1261.2,1121.2 1276.2,1120.0 1277.5,1115.0 1295.0,1116.2 1296.2,1122.5 1292.5,1131.2 1277.5,1130.0 1270.0,1127.5 1260.0,1140.0 1250.0,1141.2 1240.0,1152.5 1231.2,1153.8 1223.8,1147.5 1227.5,1140.0 1226.2,1127.5 1220.0,1126.2 1210.0,1120.0 1203.8,1118.8 1210.0,1110.0 1222.5,1103.8 1227.5,1097.5 1210.0,1095.0 1196.2,1092.5 1190.0,1086.2 1183.8,1077.5 1170.0,1077.5 1165.0,1087.5 1155.0,1098.8 1147.5,1106.2 1142.5,1122.5 1137.5,1130.0 1142.5,1137.5 1127.5,1141.2 1121.2,1163.0 1059.0,1163.0" fill="#fff" stroke="#fff" stroke-width="1"/>
<polygon points="1335.0,1271.2 1342.5,1267.5 1357.5,1267.5 1375.0,1275.0 1385.0,1267.5 1402.5,1253.8 1423.8,1253.8 1422.5,1270.0 1416.2,1290.0 1411.2,1307.5 1406.2,1325.0 1402.5,1340.0 1397.5,1352.5 1380.0,1355.0 1365.0,1362.5 1347.5,1370.0 1335.0,1377.5" fill="#fff" stroke="#fff" stroke-width="1"/>
<polygon points="288.8,1359.0 290.0,1385.0 287.5,1405.0 310.0,1408.8 320.0,1403.8 337.5,1406.2 345.0,1417.5 350.0,1430.0 360.0,1440.0 366.2,1441.2 372.5,1430.0 382.5,1422.5 397.5,1418.8 420.0,1418.8 435.0,1418.8 442.5,1410.0 450.0,1397.5 460.0,1387.5 468.8,1387.5 471.2,1372.5 477.5,1359.0" fill="#fff" stroke="#fff" stroke-width="1"/>
<polygon points="366.2,1443.8 375.0,1460.0 385.0,1467.5 400.0,1468.8 412.5,1466.2 421.2,1460.0 420.0,1472.5 435.0,1472.5 450.0,1467.5 457.5,1455.0 472.5,1448.8 482.5,1445.0 490.0,1435.0 502.5,1430.0 510.0,1423.8 532.5,1421.2 550.0,1416.2 570.0,1411.2 597.5,1412.5 610.0,1416.2 622.5,1407.5 640.0,1408.8 650.0,1406.2 662.5,1408.8 682.5,1405.0 692.5,1397.5 710.0,1398.8 715.0,1410.0 722.5,1410.0 730.0,1406.2 731.2,1415.0 723.8,1425.0 717.5,1437.5 723.8,1445.0 730.0,1455.0 731.2,1470.0 727.5,1472.5 723.8,1460.0 715.0,1452.5 710.0,1445.0 700.0,1447.5 697.5,1460.0 685.0,1470.0 675.0,1475.0 662.5,1472.5 647.5,1477.5 625.0,1478.8 615.0,1470.0 610.0,1460.0 600.0,1450.0 585.0,1445.0 572.5,1452.5 567.5,1465.0 560.0,1475.0 545.0,1480.0 541.2,1472.5 542.5,1460.0 548.8,1447.5 535.0,1451.2 527.5,1465.0 517.5,1475.0 505.0,1482.5 490.0,1490.0 480.0,1495.0 472.5,1505.0 460.0,1512.5 455.0,1522.5 440.0,1531.2 432.5,1525.0 420.0,1522.5 415.0,1530.0 412.5,1520.0 405.0,1525.0 397.5,1535.0 385.0,1540.0 375.0,1552.5 362.5,1567.5 355.0,1582.5 347.5,1595.0 335.0,1605.0 322.5,1610.0 317.5,1620.0 312.5,1635.0 307.5,1647.5 300.0,1662.5 287.5,1673.8 267.5,1675.0 267.5,1667.5 277.5,1657.5 285.0,1645.0 295.0,1632.5 275.0,1632.5 275.0,1617.5 277.5,1600.0 276.2,1582.5 281.2,1560.0 285.0,1552.5 295.0,1540.0 305.0,1530.0 320.0,1522.5 332.5,1512.5 340.0,1500.0 345.0,1485.0 350.0,1467.5 352.5,1452.5 362.5,1445.0" fill="#fff" stroke="#fff" stroke-width="1"/>
<polygon points="761.2,1370.0 775.0,1366.2 775.0,1391.2 765.0,1390.0 761.2,1382.5" fill="#fff" stroke="#fff" stroke-width="1"/>
<polygon points="773.0,1370.0 794.0,1368.8 811.5,1366.2 827.8,1365.0 839.0,1361.2 849.0,1359.0 846.5,1367.5 834.0,1375.0 827.8,1385.0 824.0,1400.0 822.8,1415.0 819.0,1421.2 811.5,1417.5 799.0,1408.8 789.0,1402.5 779.0,1395.0 773.0,1391.2" fill="#fff" stroke="#fff" stroke-width="1"/>
<polygon points="936.5,1359.0 937.8,1370.0 944.0,1377.5 946.5,1385.0 954.0,1380.0 959.0,1387.5 961.5,1402.5 966.5,1417.5 979.0,1420.0 981.5,1427.5 991.5,1431.2 994.0,1438.8 996.5,1425.0 991.5,1415.0 996.5,1402.5 1004.0,1397.5 1007.8,1387.5 1011.5,1382.5 1024.0,1390.0 1029.0,1397.5 1034.0,1387.5 1029.0,1377.5 1021.5,1372.5 1024.0,1365.0 1026.5,1359.0" fill="#fff" stroke="#fff" stroke-width="1"/>
<polygon points="1005.2,1456.2 1014.0,1453.8 1022.8,1457.5 1024.0,1465.0 1031.5,1460.0 1039.0,1461.2 1042.8,1466.2 1056.5,1467.5 1067.8,1466.2 1067.8,1476.2 1054.0,1476.2 1036.5,1478.8 1026.5,1473.8 1014.0,1471.2 1006.5,1467.5" fill="#fff" stroke="#fff" stroke-width="1"/>
<polygon points="1056.5,1359.0 1061.5,1370.0 1074.0,1380.0 1061.5,1387.5 1069.0,1390.0 1086.5,1385.0 1094.0,1395.0 1089.0,1405.0 1096.5,1410.0 1106.5,1407.5 1119.0,1417.5 1129.0,1420.0 1131.5,1430.0 1141.5,1437.5 1159.0,1432.5 1160.2,1417.5 1166.5,1412.5 1176.5,1413.8 1186.5,1422.5 1199.0,1430.0 1204.0,1440.0 1219.0,1438.8 1236.5,1432.5 1244.0,1422.5 1249.0,1415.0 1259.0,1417.5 1271.5,1422.5 1281.5,1417.5 1275.2,1432.5 1276.5,1442.5 1276.5,1460.0 1280.2,1477.5 1279.0,1495.0 1274.0,1510.0 1270.2,1531.2 1276.5,1531.2 1281.5,1522.5 1286.5,1510.0 1291.5,1495.0 1299.0,1485.0 1299.0,1477.5 1292.8,1465.0 1296.5,1452.5 1295.2,1435.0 1301.5,1425.0 1306.5,1410.0 1306.5,1392.5 1316.5,1387.5 1331.5,1378.8 1349.0,1373.8 1349.0,1359.0" fill="#fff" stroke="#fff" stroke-width="1"/>
<polygon points="1201.5,1475.0 1209.0,1470.0 1214.0,1467.5 1231.5,1460.0 1249.0,1452.5 1249.0,1456.2 1234.0,1463.8 1220.2,1472.5 1224.0,1480.0 1219.0,1487.5 1209.0,1490.0 1202.8,1485.0" fill="#fff" stroke="#fff" stroke-width="1"/>
<polygon points="784.0,1561.2 794.0,1562.5 792.8,1568.8 784.0,1568.8" fill="#fff" stroke="#fff" stroke-width="1"/>
<polygon points="966.5,1552.5 974.0,1552.5 972.8,1557.5 967.0,1557.5" fill="#fff" stroke="#fff" stroke-width="1"/>
<polygon points="799.0,1440.0 804.0,1441.2 807.8,1451.2 804.0,1450.0" fill="#fff" stroke="#fff" stroke-width="1"/>
<polygon points="715.0,761.2 727.5,760.0 732.5,766.2 727.5,777.5 717.5,780.0 712.5,772.5" fill="#fff" stroke="#fff" stroke-width="1"/>
<polygon points="735.0,756.2 752.5,761.2 763.8,767.5 760.0,780.0 752.5,787.5 740.0,785.0 732.5,775.0 730.0,762.5" fill="#fff" stroke="#fff" stroke-width="1"/>
<polygon points="715.0,787.5 727.5,785.0 740.0,790.0 750.0,792.5 752.5,800.0 727.5,801.5 715.0,797.5" fill="#fff" stroke="#fff" stroke-width="1"/>
<polygon points="1024.0,1391.2 1027.8,1390.0 1031.5,1405.0 1029.0,1422.5 1024.0,1420.0" fill="#fff" stroke="#fff" stroke-width="1"/>
<polygon points="1034.0,1402.5 1051.5,1400.0 1054.0,1407.5 1039.0,1410.0" fill="#fff" stroke="#fff" stroke-width="1"/>
<polygon points="1056.5,1405.0 1062.8,1405.0 1061.5,1417.5 1054.0,1420.0" fill="#fff" stroke="#fff" stroke-width="1"/>
<polygon points="1046.5,1426.2 1055.2,1426.2 1055.2,1432.5 1046.5,1432.5" fill="#fff" stroke="#fff" stroke-width="1"/>
<polygon points="1066.5,1420.0 1071.5,1420.0 1071.5,1426.2 1066.5,1426.2" fill="#fff" stroke="#fff" stroke-width="1"/>
<polygon points="1072.8,1392.5 1084.0,1410.0 1087.8,1425.0 1084.0,1427.5 1076.5,1410.0" fill="#fff" stroke="#fff" stroke-width="1"/>
<polygon points="1096.5,1435.0 1109.0,1428.8 1101.5,1445.0" fill="#fff" stroke="#fff" stroke-width="1"/>
<polygon points="1081.5,1452.5 1087.8,1445.0 1087.8,1465.0 1082.8,1463.8" fill="#fff" stroke="#fff" stroke-width="1"/>
<polygon points="595.0,846.0 605.0,843.5 602.5,856.0 610.0,863.5 605.0,872.2 597.5,871.0 596.2,856.0" fill="#000" stroke="#000" stroke-width="1.3"/>
<polygon points="1352.0,1162.0 1121.0,1162.0 1120.2,1183.0 1106.5,1193.0 1101.5,1208.0 1099.0,1218.0 1105.2,1233.0 1107.8,1245.5 1116.5,1256.8 1129.0,1261.8 1149.0,1263.0 1164.0,1265.5 1179.0,1264.2 1189.0,1253.0 1204.0,1243.0 1221.5,1234.2 1236.5,1235.5 1259.0,1234.2 1264.0,1243.0 1281.5,1245.5 1286.5,1258.0 1301.5,1260.5 1314.0,1270.5 1331.5,1273.0 1352.0,1268.0" fill="#000" stroke="#000" stroke-width="1.3"/>
<polygon points="771.0,1108.0 786.5,1106.8 784.0,1118.0 796.5,1130.5 806.5,1138.0 814.0,1153.0 824.0,1165.5 834.0,1180.5 849.0,1190.5 861.5,1191.8 866.5,1203.0 879.0,1213.0 891.5,1218.0 904.0,1228.0 914.0,1240.5 916.5,1253.0 914.0,1273.0 912.8,1293.0 921.5,1303.0 924.0,1313.0 919.0,1318.0 929.0,1328.0 934.0,1338.0 944.0,1348.0 949.0,1364.0 849.0,1364.0 851.5,1358.0 856.5,1348.0 866.5,1343.0 861.5,1338.0 861.5,1325.5 851.5,1320.5 846.5,1315.5 854.0,1308.0 854.0,1300.5 861.5,1290.5 871.5,1285.5 881.5,1295.5 887.8,1308.0 894.0,1310.5 894.0,1293.0 884.0,1283.0 874.0,1278.0 861.5,1273.0 849.0,1265.5 840.2,1258.0 841.5,1250.5 827.8,1238.0 814.0,1230.5 804.0,1220.5 795.2,1208.0 791.5,1193.0 784.0,1178.0 771.0,1170.5" fill="#000" stroke="#000" stroke-width="1.3"/>
<polygon points="771.0,1263.0 791.5,1280.5 804.0,1285.5 816.5,1298.0 824.0,1313.0 834.0,1323.0 836.5,1338.0 836.5,1364.0 771.0,1364.0" fill="#000" stroke="#000" stroke-width="1.3"/>
<polygon points="1021.5,1364.0 1020.2,1350.5 1009.0,1348.0 999.0,1338.0 991.5,1325.5 989.0,1313.0 984.0,1300.5 986.5,1290.5 994.0,1285.5 1006.5,1280.5 1014.0,1278.0 1019.0,1283.0 1011.5,1293.0 1006.5,1303.0 1016.5,1305.5 1021.5,1295.5 1026.5,1285.5 1039.0,1280.5 1049.0,1274.2 1064.0,1270.5 1079.0,1273.0 1091.5,1270.5 1096.5,1283.0 1089.0,1288.0 1074.0,1290.5 1066.5,1300.5 1062.8,1313.0 1061.5,1325.5 1059.0,1335.5 1066.5,1343.0 1064.0,1353.0 1051.5,1364.0" fill="#000" stroke="#000" stroke-width="1.3"/>
<polygon points="1099.0,1273.5 1114.0,1271.8 1129.0,1273.5 1124.0,1283.0 1106.5,1283.0" fill="#000" stroke="#000" stroke-width="1.3"/>
<polygon points="1320.0,957.5 1335.0,960.0 1345.0,965.0 1360.0,967.5 1363.8,973.8 1372.5,975.0 1373.8,982.5 1367.5,990.0 1363.8,1007.5 1370.0,1017.5 1365.0,1032.5 1343.8,1033.8 1342.5,1040.0 1333.8,1041.2 1331.2,1058.8 1317.5,1060.0 1310.0,1068.8 1297.5,1073.8 1285.0,1078.8 1275.0,1077.5 1265.0,1087.5 1257.5,1092.5 1255.0,1102.5 1262.5,1112.5 1261.2,1121.2 1276.2,1120.0 1277.5,1115.0 1295.0,1116.2 1296.2,1122.5 1292.5,1131.2 1277.5,1130.0 1270.0,1127.5 1260.0,1140.0 1250.0,1141.2 1240.0,1152.5 1231.2,1153.8 1223.8,1147.5 1227.5,1140.0 1226.2,1127.5 1220.0,1126.2 1210.0,1120.0 1203.8,1118.8 1210.0,1110.0 1222.5,1103.8 1227.5,1097.5 1210.0,1095.0 1196.2,1092.5 1190.0,1086.2 1183.8,1077.5 1170.0,1077.5 1165.0,1087.5 1155.0,1098.8 1147.5,1106.2 1142.5,1122.5 1137.5,1130.0 1142.5,1137.5 1127.5,1141.2 1121.2,1163.0 1485.0,1163.0 1485.0,957.5" fill="#000" stroke="#000" stroke-width="1.3"/>
<polygon points="286.2,1586.2 307.5,1583.8 317.5,1585.0 310.0,1597.5 300.0,1603.8 287.5,1606.2" fill="#000" stroke="#000" stroke-width="1.3"/>
<polygon points="317.5,1567.5 330.0,1563.8 342.5,1550.0 351.2,1553.8 350.0,1565.0 337.5,1570.0 330.0,1580.0 320.0,1585.0 315.0,1577.5" fill="#000" stroke="#000" stroke-width="1.3"/>
<polygon points="357.5,1500.0 375.0,1496.2 387.5,1500.0 386.2,1510.0 372.5,1507.5 360.0,1507.5" fill="#000" stroke="#000" stroke-width="1.3"/>
<polygon points="400.0,1505.0 417.5,1492.5 426.2,1495.0 412.5,1510.0 402.5,1513.8" fill="#000" stroke="#000" stroke-width="1.3"/>
<polygon points="342.5,1495.0 350.0,1495.0 350.0,1505.0 342.5,1505.0" fill="#000" stroke="#000" stroke-width="1.3"/>
<polygon points="740.0,762.5 747.5,765.0 746.2,772.5 738.8,770.0" fill="#000" stroke="#000" stroke-width="1.3"/>
<polygon points="495.0,1445.0 512.5,1442.5 522.5,1452.5 510.0,1467.5 497.5,1465.0" fill="#000" stroke="#000" stroke-width="1.3"/>
<polygon points="560.0,1443.8 575.0,1443.8 573.8,1452.5 561.2,1453.0" fill="#000" stroke="#000" stroke-width="1.3"/>
<polygon points="612.5,1440.0 630.0,1437.5 632.5,1447.5 615.0,1452.5" fill="#000" stroke="#000" stroke-width="1.3"/>
<polygon points="645.0,1455.0 662.5,1447.5 675.0,1455.0 662.5,1467.5 647.5,1467.5" fill="#000" stroke="#000" stroke-width="1.3"/>
<polygon points="675.0,1435.0 690.0,1432.5 693.8,1442.5 680.0,1447.5" fill="#000" stroke="#000" stroke-width="1.3"/>
<polygon points="472.5,1480.0 482.5,1470.0 487.5,1477.5 477.5,1487.5" fill="#000" stroke="#000" stroke-width="1.3"/>
<polygon points="1186.6,1315.2 1198.5,1316.5 1200.4,1321.5 1193.5,1326.5 1187.2,1321.5" fill="#000" stroke="#000" stroke-width="1.3"/>
<polygon points="1201.0,1326.5 1207.2,1331.5 1207.2,1339.0 1199.8,1335.2" fill="#000" stroke="#000" stroke-width="1.3"/>
<polygon points="1214.8,1334.0 1223.5,1335.2 1226.0,1344.0 1218.5,1346.5 1213.5,1341.5" fill="#000" stroke="#000" stroke-width="1.3"/>
<polygon points="1197.2,1345.2 1211.0,1342.8 1216.0,1349.0 1208.5,1357.8 1197.2,1355.2" fill="#000" stroke="#000" stroke-width="1.3"/>
<polygon points="1218.5,1349.0 1227.2,1346.5 1232.2,1354.0 1229.8,1366.5 1222.2,1362.8" fill="#000" stroke="#000" stroke-width="1.3"/>
<polygon points="1233.5,1364.0 1242.2,1367.8 1249.8,1379.0 1248.5,1387.8 1233.5,1390.2 1217.2,1389.0 1211.0,1384.0 1217.2,1376.5 1227.2,1370.2" fill="#000" stroke="#000" stroke-width="1.3"/>
<polygon points="1204.8,1367.8 1211.0,1366.5 1209.8,1379.0 1204.8,1381.5" fill="#000" stroke="#000" stroke-width="1.3"/>
<polygon points="1203.5,1385.2 1211.0,1389.0 1214.8,1397.8 1207.2,1395.2" fill="#000" stroke="#000" stroke-width="1.3"/>
<polygon points="1223.5,1391.5 1232.2,1391.5 1231.0,1405.2 1223.5,1402.8" fill="#000" stroke="#000" stroke-width="1.3"/>
<polygon points="1300.4,1359.0 1306.0,1357.8 1318.5,1354.0 1317.2,1357.8 1311.0,1365.2 1302.2,1364.0" fill="#000" stroke="#000" stroke-width="1.3"/>
<polygon points="1329.8,1349.0 1336.0,1345.2 1341.0,1351.5 1344.8,1359.0 1341.0,1362.8 1328.5,1357.8" fill="#000" stroke="#000" stroke-width="1.3"/>
<polygon points="1261.0,1397.8 1276.0,1391.5 1286.0,1391.5 1284.8,1399.0 1273.5,1405.2 1263.5,1405.2" fill="#000" stroke="#000" stroke-width="1.3"/>
<polygon points="1256.0,1407.8 1272.2,1406.5 1271.0,1414.0 1258.5,1416.5" fill="#000" stroke="#000" stroke-width="1.3"/>
<polygon points="1108.5,1402.8 1116.0,1402.8 1116.0,1405.9 1108.5,1405.9" fill="#000" stroke="#000" stroke-width="1.3"/>
<polygon points="1092.2,1409.0 1104.8,1409.0 1103.5,1414.0 1092.2,1414.0" fill="#000" stroke="#000" stroke-width="1.3"/>
<polygon points="780.0,640.0 795.0,638.8 794.4,651.2 787.5,655.0 780.0,655.0 777.5,650.0" fill="#000" stroke="#000" stroke-width="1.3"/>
<polygon points="765.0,655.0 772.5,651.2 776.2,658.8 766.2,665.0" fill="#000" stroke="#000" stroke-width="1.3"/>
<polygon points="812.5,661.2 815.0,662.5 807.5,675.0 802.5,680.0 800.6,677.5 806.2,670.0" fill="#000" stroke="#000" stroke-width="1.3"/>
<polygon points="1274.0,1432.5 1299.0,1432.5 1301.5,1477.5 1292.8,1500.0 1281.5,1532.5 1269.0,1532.5 1274.0,1510.0 1280.2,1477.5 1275.2,1442.5" fill="url(#sp)"/>
<polygon points="959.0,1385.0 1034.0,1385.0 1034.0,1402.5 999.0,1442.5 964.0,1422.5" fill="url(#sp)"/>
<polygon points="1022.8,1385.0 1059.0,1385.0 1086.5,1410.0 1111.5,1430.0 1111.5,1467.5 1074.0,1467.5 1022.8,1425.0" fill="url(#sp)"/>
<polygon points="710.0,1435.0 732.5,1435.0 732.5,1475.0 710.0,1475.0" fill="url(#sp)"/>
</mask>
<pattern id="gp1" width="73.68" height="73.68" patternUnits="userSpaceOnUse" fill="#006400" shape-rendering="crispEdges"><rect x="1.84" y="0.00" width="1.89" height="1.89"/><rect x="9.21" y="0.00" width="64.52" height="1.89"/><rect x="0.00" y="1.84" width="16.63" height="1.89"/><rect x="18.42" y="1.84" width="5.58" height="1.89"/><rect x="27.63" y="1.84" width="14.79" height="1.89"/><rect x="44.21" y="1.84" width="1.89" height="1.89"/><rect x="47.89" y="1.84" width="1.89" height="1.89"/><rect x="51.58" y="1.84" width="22.15" height="1.89"/><rect x="0.00" y="3.68" width="3.73" height="1.89"/><rect x="5.53" y="3.68" width="11.10" height="1.89"/><rect x="18.42" y="3.68" width="3.73" height="1.89"/><rect x="23.95" y="3.68" width="14.79" height="1.89"/><rect x="40.52" y="3.68" width="1.89" height="1.89"/><rect x="47.89" y="3.68" width="25.84" height="1.89"/><rect x="1.84" y="5.53" width="5.58" height="1.89"/><rect x="9.21" y="5.53" width="9.26" height="1.89"/><rect x="20.26" y="5.53" width="20.31" height="1.89"/><rect x="42.37" y="5.53" width="9.26" height="1.89"/><rect x="53.42" y="5.53" width="18.47" height="1.89"/><rect x="0.00" y="7.37" width="5.58" height="1.89"/><rect x="9.21" y="7.37" width="7.42" height="1.89"/><rect x="18.42" y="7.37" width="16.63" height="1.89"/><rect x="36.84" y="7.37" width="1.89" height="1.89"/><rect x="40.52" y="7.37" width="1.89" height="1.89"/><rect x="44.21" y="7.37" width="25.84" height="1.89"/><rect x="0.00" y="9.21" width="1.89" height="1.89"/><rect x="5.53" y="9.21" width="9.26" height="1.89"/><rect x="16.58" y="9.21" width="3.73" height="1.89"/><rect x="22.10" y="9.21" width="5.58" height="1.89"/><rect x="29.47" y="9.21" width="7.42" height="1.89"/><rect x="38.68" y="9.21" width="1.89" height="1.89"/><rect x="44.21" y="9.21" width="11.10" height="1.89"/><rect x="57.10" y="9.21" width="12.94" height="1.89"/><rect x="3.68" y="11.05" width="1.89" height="1.89"/><rect x="7.37" y="11.05" width="9.26" height="1.89"/><rect x="18.42" y="11.05" width="1.89" height="1.89"/><rect x="23.95" y="11.05" width="7.42" height="1.89"/><rect x="35.00" y="11.05" width="5.58" height="1.89"/><rect x="44.21" y="11.05" width="11.10" height="1.89"/><rect x="57.10" y="11.05" width="3.73" height="1.89"/><rect x="62.63" y="11.05" width="11.10" height="1.89"/><rect x="0.00" y="12.89" width="3.73" height="1.89"/><rect x="5.53" y="12.89" width="35.05" height="1.89"/><rect x="42.37" y="12.89" width="12.94" height="1.89"/><rect x="57.10" y="12.89" width="11.10" height="1.89"/><rect x="70.00" y="12.89" width="3.73" height="1.89"/><rect x="0.00" y="14.74" width="18.47" height="1.89"/><rect x="20.26" y="14.74" width="22.15" height="1.89"/><rect x="47.89" y="14.74" width="25.84" height="1.89"/><rect x="0.00" y="16.58" width="40.57" height="1.89"/><rect x="42.37" y="16.58" width="5.58" height="1.89"/><rect x="49.73" y="16.58" width="14.79" height="1.89"/><rect x="66.31" y="16.58" width="5.58" height="1.89"/><rect x="1.84" y="18.42" width="1.89" height="1.89"/><rect x="5.53" y="18.42" width="9.26" height="1.89"/><rect x="16.58" y="18.42" width="24.00" height="1.89"/><rect x="42.37" y="18.42" width="1.89" height="1.89"/><rect x="46.05" y="18.42" width="12.94" height="1.89"/><rect x="60.79" y="18.42" width="1.89" height="1.89"/><rect x="64.47" y="18.42" width="9.26" height="1.89"/><rect x="0.00" y="20.26" width="3.73" height="1.89"/><rect x="5.53" y="20.26" width="7.42" height="1.89"/><rect x="14.74" y="20.26" width="1.89" height="1.89"/><rect x="18.42" y="20.26" width="5.58" height="1.89"/><rect x="25.79" y="20.26" width="11.10" height="1.89"/><rect x="38.68" y="20.26" width="5.58" height="1.89"/><rect x="46.05" y="20.26" width="12.94" height="1.89"/><rect x="60.79" y="20.26" width="12.94" height="1.89"/><rect x="0.00" y="22.10" width="1.89" height="1.89"/><rect x="3.68" y="22.10" width="16.63" height="1.89"/><rect x="22.10" y="22.10" width="9.26" height="1.89"/><rect x="33.16" y="22.10" width="14.79" height="1.89"/><rect x="49.73" y="22.10" width="9.26" height="1.89"/><rect x="60.79" y="22.10" width="9.26" height="1.89"/><rect x="71.84" y="22.10" width="1.89" height="1.89"/><rect x="0.00" y="23.95" width="14.79" height="1.89"/><rect x="16.58" y="23.95" width="14.79" height="1.89"/><rect x="33.16" y="23.95" width="35.05" height="1.89"/><rect x="70.00" y="23.95" width="3.73" height="1.89"/><rect x="0.00" y="25.79" width="14.79" height="1.89"/><rect x="18.42" y="25.79" width="16.63" height="1.89"/><rect x="36.84" y="25.79" width="31.36" height="1.89"/><rect x="70.00" y="25.79" width="3.73" height="1.89"/><rect x="0.00" y="27.63" width="16.63" height="1.89"/><rect x="20.26" y="27.63" width="31.36" height="1.89"/><rect x="53.42" y="27.63" width="20.31" height="1.89"/><rect x="0.00" y="29.47" width="7.42" height="1.89"/><rect x="9.21" y="29.47" width="5.58" height="1.89"/><rect x="18.42" y="29.47" width="16.63" height="1.89"/><rect x="36.84" y="29.47" width="36.89" height="1.89"/><rect x="0.00" y="31.31" width="3.73" height="1.89"/><rect x="5.53" y="31.31" width="44.26" height="1.89"/><rect x="51.58" y="31.31" width="3.73" height="1.89"/><rect x="60.79" y="31.31" width="12.94" height="1.89"/><rect x="0.00" y="33.16" width="40.57" height="1.89"/><rect x="44.21" y="33.16" width="29.52" height="1.89"/><rect x="0.00" y="35.00" width="5.58" height="1.89"/><rect x="7.37" y="35.00" width="31.36" height="1.89"/><rect x="44.21" y="35.00" width="3.73" height="1.89"/><rect x="49.73" y="35.00" width="3.73" height="1.89"/><rect x="55.26" y="35.00" width="1.89" height="1.89"/><rect x="58.94" y="35.00" width="14.79" height="1.89"/><rect x="0.00" y="36.84" width="24.00" height="1.89"/><rect x="25.79" y="36.84" width="18.47" height="1.89"/><rect x="46.05" y="36.84" width="1.89" height="1.89"/><rect x="49.73" y="36.84" width="24.00" height="1.89"/><rect x="0.00" y="38.68" width="5.58" height="1.89"/><rect x="7.37" y="38.68" width="9.26" height="1.89"/><rect x="18.42" y="38.68" width="1.89" height="1.89"/><rect x="22.10" y="38.68" width="25.84" height="1.89"/><rect x="49.73" y="38.68" width="7.42" height="1.89"/><rect x="58.94" y="38.68" width="3.73" height="1.89"/><rect x="64.47" y="38.68" width="9.26" height="1.89"/><rect x="1.84" y="40.52" width="1.89" height="1.89"/><rect x="5.53" y="40.52" width="62.68" height="1.89"/><rect x="70.00" y="40.52" width="3.73" height="1.89"/><rect x="0.00" y="42.37" width="1.89" height="1.89"/><rect x="3.68" y="42.37" width="11.10" height="1.89"/><rect x="18.42" y="42.37" width="29.52" height="1.89"/><rect x="49.73" y="42.37" width="1.89" height="1.89"/><rect x="53.42" y="42.37" width="16.63" height="1.89"/><rect x="71.84" y="42.37" width="1.89" height="1.89"/><rect x="9.21" y="44.21" width="5.58" height="1.89"/><rect x="16.58" y="44.21" width="12.94" height="1.89"/><rect x="31.31" y="44.21" width="16.63" height="1.89"/><rect x="49.73" y="44.21" width="9.26" height="1.89"/><rect x="60.79" y="44.21" width="12.94" height="1.89"/><rect x="0.00" y="46.05" width="31.36" height="1.89"/><rect x="33.16" y="46.05" width="11.10" height="1.89"/><rect x="46.05" y="46.05" width="14.79" height="1.89"/><rect x="62.63" y="46.05" width="5.58" height="1.89"/><rect x="70.00" y="46.05" width="3.73" height="1.89"/><rect x="0.00" y="47.89" width="29.52" height="1.89"/><rect x="31.31" y="47.89" width="1.89" height="1.89"/><rect x="35.00" y="47.89" width="12.94" height="1.89"/><rect x="49.73" y="47.89" width="5.58" height="1.89"/><rect x="57.10" y="47.89" width="5.58" height="1.89"/><rect x="64.47" y="47.89" width="9.26" height="1.89"/><rect x="0.00" y="49.73" width="35.05" height="1.89"/><rect x="36.84" y="49.73" width="5.58" height="1.89"/><rect x="44.21" y="49.73" width="9.26" height="1.89"/><rect x="58.94" y="49.73" width="9.26" height="1.89"/><rect x="70.00" y="49.73" width="3.73" height="1.89"/><rect x="0.00" y="51.58" width="40.57" height="1.89"/><rect x="42.37" y="51.58" width="3.73" height="1.89"/><rect x="49.73" y="51.58" width="1.89" height="1.89"/><rect x="53.42" y="51.58" width="12.94" height="1.89"/><rect x="68.15" y="51.58" width="5.58" height="1.89"/><rect x="0.00" y="53.42" width="18.47" height="1.89"/><rect x="20.26" y="53.42" width="9.26" height="1.89"/><rect x="31.31" y="53.42" width="9.26" height="1.89"/><rect x="42.37" y="53.42" width="9.26" height="1.89"/><rect x="53.42" y="53.42" width="20.31" height="1.89"/><rect x="0.00" y="55.26" width="11.10" height="1.89"/><rect x="12.89" y="55.26" width="3.73" height="1.89"/><rect x="18.42" y="55.26" width="12.94" height="1.89"/><rect x="33.16" y="55.26" width="18.47" height="1.89"/><rect x="53.42" y="55.26" width="20.31" height="1.89"/><rect x="0.00" y="57.10" width="11.10" height="1.89"/><rect x="12.89" y="57.10" width="16.63" height="1.89"/><rect x="31.31" y="57.10" width="7.42" height="1.89"/><rect x="44.21" y="57.10" width="29.52" height="1.89"/><rect x="0.00" y="58.94" width="66.36" height="1.89"/><rect x="68.15" y="58.94" width="5.58" height="1.89"/><rect x="0.00" y="60.79" width="14.79" height="1.89"/><rect x="16.58" y="60.79" width="1.89" height="1.89"/><rect x="20.26" y="60.79" width="11.10" height="1.89"/><rect x="36.84" y="60.79" width="12.94" height="1.89"/><rect x="51.58" y="60.79" width="22.15" height="1.89"/><rect x="0.00" y="62.63" width="18.47" height="1.89"/><rect x="20.26" y="62.63" width="5.58" height="1.89"/><rect x="27.63" y="62.63" width="5.58" height="1.89"/><rect x="38.68" y="62.63" width="14.79" height="1.89"/><rect x="55.26" y="62.63" width="18.47" height="1.89"/><rect x="0.00" y="64.47" width="18.47" height="1.89"/><rect x="20.26" y="64.47" width="14.79" height="1.89"/><rect x="36.84" y="64.47" width="12.94" height="1.89"/><rect x="51.58" y="64.47" width="12.94" height="1.89"/><rect x="66.31" y="64.47" width="7.42" height="1.89"/><rect x="0.00" y="66.31" width="24.00" height="1.89"/><rect x="25.79" y="66.31" width="33.21" height="1.89"/><rect x="62.63" y="66.31" width="11.10" height="1.89"/><rect x="1.84" y="68.15" width="3.73" height="1.89"/><rect x="7.37" y="68.15" width="20.31" height="1.89"/><rect x="29.47" y="68.15" width="5.58" height="1.89"/><rect x="36.84" y="68.15" width="1.89" height="1.89"/><rect x="40.52" y="68.15" width="33.21" height="1.89"/><rect x="0.00" y="70.00" width="5.58" height="1.89"/><rect x="7.37" y="70.00" width="31.36" height="1.89"/><rect x="40.52" y="70.00" width="12.94" height="1.89"/><rect x="57.10" y="70.00" width="16.63" height="1.89"/><rect x="0.00" y="71.84" width="9.26" height="1.89"/><rect x="11.05" y="71.84" width="5.58" height="1.89"/><rect x="18.42" y="71.84" width="9.26" height="1.89"/><rect x="29.47" y="71.84" width="18.47" height="1.89"/><rect x="49.73" y="71.84" width="5.58" height="1.89"/><rect x="57.10" y="71.84" width="16.63" height="1.89"/></pattern>
<pattern id="gp2" width="73.68" height="73.68" patternUnits="userSpaceOnUse" fill="#006400" shape-rendering="crispEdges"><rect x="0.00" y="0.00" width="3.73" height="1.89"/><rect x="5.53" y="0.00" width="5.58" height="1.89"/><rect x="20.26" y="0.00" width="9.26" height="1.89"/><rect x="31.31" y="0.00" width="1.89" height="1.89"/><rect x="38.68" y="0.00" width="3.73" height="1.89"/><rect x="44.21" y="0.00" width="3.73" height="1.89"/><rect x="51.58" y="0.00" width="11.10" height="1.89"/><rect x="66.31" y="0.00" width="3.73" height="1.89"/><rect x="0.00" y="1.84" width="3.73" height="1.89"/><rect x="7.37" y="1.84" width="5.58" height="1.89"/><rect x="22.10" y="1.84" width="1.89" height="1.89"/><rect x="25.79" y="1.84" width="11.10" height="1.89"/><rect x="38.68" y="1.84" width="1.89" height="1.89"/><rect x="42.37" y="1.84" width="5.58" height="1.89"/><rect x="51.58" y="1.84" width="1.89" height="1.89"/><rect x="55.26" y="1.84" width="9.26" height="1.89"/><rect x="1.84" y="3.68" width="1.89" height="1.89"/><rect x="5.53" y="3.68" width="7.42" height="1.89"/><rect x="14.74" y="3.68" width="5.58" height="1.89"/><rect x="22.10" y="3.68" width="12.94" height="1.89"/><rect x="38.68" y="3.68" width="9.26" height="1.89"/><rect x="51.58" y="3.68" width="5.58" height="1.89"/><rect x="64.47" y="3.68" width="3.73" height="1.89"/><rect x="70.00" y="3.68" width="1.89" height="1.89"/><rect x="1.84" y="5.53" width="5.58" height="1.89"/><rect x="9.21" y="5.53" width="3.73" height="1.89"/><rect x="20.26" y="5.53" width="5.58" height="1.89"/><rect x="29.47" y="5.53" width="5.58" height="1.89"/><rect x="36.84" y="5.53" width="5.58" height="1.89"/><rect x="44.21" y="5.53" width="5.58" height="1.89"/><rect x="51.58" y="5.53" width="1.89" height="1.89"/><rect x="58.94" y="5.53" width="1.89" height="1.89"/><rect x="62.63" y="5.53" width="7.42" height="1.89"/><rect x="0.00" y="7.37" width="7.42" height="1.89"/><rect x="9.21" y="7.37" width="3.73" height="1.89"/><rect x="16.58" y="7.37" width="3.73" height="1.89"/><rect x="23.95" y="7.37" width="3.73" height="1.89"/><rect x="29.47" y="7.37" width="1.89" height="1.89"/><rect x="33.16" y="7.37" width="7.42" height="1.89"/><rect x="42.37" y="7.37" width="5.58" height="1.89"/><rect x="51.58" y="7.37" width="1.89" height="1.89"/><rect x="55.26" y="7.37" width="1.89" height="1.89"/><rect x="58.94" y="7.37" width="5.58" height="1.89"/><rect x="66.31" y="7.37" width="1.89" height="1.89"/><rect x="70.00" y="7.37" width="3.73" height="1.89"/><rect x="3.68" y="9.21" width="1.89" height="1.89"/><rect x="9.21" y="9.21" width="1.89" height="1.89"/><rect x="12.89" y="9.21" width="7.42" height="1.89"/><rect x="22.10" y="9.21" width="3.73" height="1.89"/><rect x="36.84" y="9.21" width="1.89" height="1.89"/><rect x="40.52" y="9.21" width="7.42" height="1.89"/><rect x="55.26" y="9.21" width="1.89" height="1.89"/><rect x="60.79" y="9.21" width="7.42" height="1.89"/><rect x="71.84" y="9.21" width="1.89" height="1.89"/><rect x="0.00" y="11.05" width="3.73" height="1.89"/><rect x="5.53" y="11.05" width="1.89" height="1.89"/><rect x="11.05" y="11.05" width="1.89" height="1.89"/><rect x="16.58" y="11.05" width="12.94" height="1.89"/><rect x="31.31" y="11.05" width="1.89" height="1.89"/><rect x="35.00" y="11.05" width="11.10" height="1.89"/><rect x="47.89" y="11.05" width="5.58" height="1.89"/><rect x="57.10" y="11.05" width="14.79" height="1.89"/><rect x="1.84" y="12.89" width="7.42" height="1.89"/><rect x="11.05" y="12.89" width="7.42" height="1.89"/><rect x="20.26" y="12.89" width="1.89" height="1.89"/><rect x="23.95" y="12.89" width="1.89" height="1.89"/><rect x="29.47" y="12.89" width="9.26" height="1.89"/><rect x="40.52" y="12.89" width="11.10" height="1.89"/><rect x="55.26" y="12.89" width="1.89" height="1.89"/><rect x="58.94" y="12.89" width="5.58" height="1.89"/><rect x="0.00" y="14.74" width="18.47" height="1.89"/><rect x="20.26" y="14.74" width="3.73" height="1.89"/><rect x="27.63" y="14.74" width="1.89" height="1.89"/><rect x="31.31" y="14.74" width="9.26" height="1.89"/><rect x="42.37" y="14.74" width="1.89" height="1.89"/><rect x="46.05" y="14.74" width="7.42" height="1.89"/><rect x="58.94" y="14.74" width="9.26" height="1.89"/><rect x="71.84" y="14.74" width="1.89" height="1.89"/><rect x="0.00" y="16.58" width="3.73" height="1.89"/><rect x="5.53" y="16.58" width="1.89" height="1.89"/><rect x="9.21" y="16.58" width="1.89" height="1.89"/><rect x="12.89" y="16.58" width="5.58" height="1.89"/><rect x="20.26" y="16.58" width="1.89" height="1.89"/><rect x="23.95" y="16.58" width="7.42" height="1.89"/><rect x="33.16" y="16.58" width="3.73" height="1.89"/><rect x="38.68" y="16.58" width="1.89" height="1.89"/><rect x="42.37" y="16.58" width="1.89" height="1.89"/><rect x="46.05" y="16.58" width="7.42" height="1.89"/><rect x="55.26" y="16.58" width="5.58" height="1.89"/><rect x="71.84" y="16.58" width="1.89" height="1.89"/><rect x="0.00" y="18.42" width="7.42" height="1.89"/><rect x="11.05" y="18.42" width="11.10" height="1.89"/><rect x="23.95" y="18.42" width="5.58" height="1.89"/><rect x="31.31" y="18.42" width="1.89" height="1.89"/><rect x="35.00" y="18.42" width="1.89" height="1.89"/><rect x="38.68" y="18.42" width="3.73" height="1.89"/><rect x="46.05" y="18.42" width="5.58" height="1.89"/><rect x="55.26" y="18.42" width="7.42" height="1.89"/><rect x="64.47" y="18.42" width="1.89" height="1.89"/><rect x="68.15" y="18.42" width="5.58" height="1.89"/><rect x="0.00" y="20.26" width="1.89" height="1.89"/><rect x="3.68" y="20.26" width="7.42" height="1.89"/><rect x="12.89" y="20.26" width="5.58" height="1.89"/><rect x="22.10" y="20.26" width="1.89" height="1.89"/><rect x="25.79" y="20.26" width="3.73" height="1.89"/><rect x="31.31" y="20.26" width="3.73" height="1.89"/><rect x="38.68" y="20.26" width="1.89" height="1.89"/><rect x="42.37" y="20.26" width="3.73" height="1.89"/><rect x="49.73" y="20.26" width="1.89" height="1.89"/><rect x="53.42" y="20.26" width="5.58" height="1.89"/><rect x="60.79" y="20.26" width="11.10" height="1.89"/><rect x="0.00" y="22.10" width="1.89" height="1.89"/><rect x="5.53" y="22.10" width="3.73" height="1.89"/><rect x="16.58" y="22.10" width="11.10" height="1.89"/><rect x="29.47" y="22.10" width="3.73" height="1.89"/><rect x="35.00" y="22.10" width="1.89" height="1.89"/><rect x="38.68" y="22.10" width="5.58" height="1.89"/><rect x="46.05" y="22.10" width="3.73" height="1.89"/><rect x="53.42" y="22.10" width="1.89" height="1.89"/><rect x="57.10" y="22.10" width="3.73" height="1.89"/><rect x="62.63" y="22.10" width="3.73" height="1.89"/><rect x="3.68" y="23.95" width="9.26" height="1.89"/><rect x="14.74" y="23.95" width="1.89" height="1.89"/><rect x="20.26" y="23.95" width="5.58" height="1.89"/><rect x="29.47" y="23.95" width="9.26" height="1.89"/><rect x="42.37" y="23.95" width="5.58" height="1.89"/><rect x="51.58" y="23.95" width="1.89" height="1.89"/><rect x="55.26" y="23.95" width="1.89" height="1.89"/><rect x="58.94" y="23.95" width="5.58" height="1.89"/><rect x="70.00" y="23.95" width="3.73" height="1.89"/><rect x="3.68" y="25.79" width="1.89" height="1.89"/><rect x="7.37" y="25.79" width="5.58" height="1.89"/><rect x="14.74" y="25.79" width="1.89" height="1.89"/><rect x="18.42" y="25.79" width="1.89" height="1.89"/><rect x="23.95" y="25.79" width="1.89" height="1.89"/><rect x="27.63" y="25.79" width="1.89" height="1.89"/><rect x="31.31" y="25.79" width="3.73" height="1.89"/><rect x="42.37" y="25.79" width="1.89" height="1.89"/><rect x="49.73" y="25.79" width="3.73" height="1.89"/><rect x="55.26" y="25.79" width="1.89" height="1.89"/><rect x="58.94" y="25.79" width="5.58" height="1.89"/><rect x="68.15" y="25.79" width="1.89" height="1.89"/><rect x="7.37" y="27.63" width="7.42" height="1.89"/><rect x="16.58" y="27.63" width="3.73" height="1.89"/><rect x="22.10" y="27.63" width="1.89" height="1.89"/><rect x="25.79" y="27.63" width="3.73" height="1.89"/><rect x="33.16" y="27.63" width="5.58" height="1.89"/><rect x="42.37" y="27.63" width="7.42" height="1.89"/><rect x="53.42" y="27.63" width="1.89" height="1.89"/><rect x="57.10" y="27.63" width="1.89" height="1.89"/><rect x="62.63" y="27.63" width="3.73" height="1.89"/><rect x="68.15" y="27.63" width="5.58" height="1.89"/><rect x="0.00" y="29.47" width="1.89" height="1.89"/><rect x="11.05" y="29.47" width="1.89" height="1.89"/><rect x="14.74" y="29.47" width="1.89" height="1.89"/><rect x="20.26" y="29.47" width="11.10" height="1.89"/><rect x="33.16" y="29.47" width="9.26" height="1.89"/><rect x="44.21" y="29.47" width="11.10" height="1.89"/><rect x="57.10" y="29.47" width="7.42" height="1.89"/><rect x="66.31" y="29.47" width="3.73" height="1.89"/><rect x="71.84" y="29.47" width="1.89" height="1.89"/><rect x="0.00" y="31.31" width="1.89" height="1.89"/><rect x="3.68" y="31.31" width="3.73" height="1.89"/><rect x="11.05" y="31.31" width="3.73" height="1.89"/><rect x="16.58" y="31.31" width="1.89" height="1.89"/><rect x="20.26" y="31.31" width="7.42" height="1.89"/><rect x="31.31" y="31.31" width="7.42" height="1.89"/><rect x="40.52" y="31.31" width="5.58" height="1.89"/><rect x="47.89" y="31.31" width="1.89" height="1.89"/><rect x="55.26" y="31.31" width="12.94" height="1.89"/><rect x="70.00" y="31.31" width="1.89" height="1.89"/><rect x="0.00" y="33.16" width="5.58" height="1.89"/><rect x="9.21" y="33.16" width="5.58" height="1.89"/><rect x="16.58" y="33.16" width="3.73" height="1.89"/><rect x="23.95" y="33.16" width="5.58" height="1.89"/><rect x="31.31" y="33.16" width="1.89" height="1.89"/><rect x="35.00" y="33.16" width="3.73" height="1.89"/><rect x="40.52" y="33.16" width="18.47" height="1.89"/><rect x="60.79" y="33.16" width="12.94" height="1.89"/><rect x="1.84" y="35.00" width="1.89" height="1.89"/><rect x="7.37" y="35.00" width="3.73" height="1.89"/><rect x="14.74" y="35.00" width="3.73" height="1.89"/><rect x="20.26" y="35.00" width="12.94" height="1.89"/><rect x="35.00" y="35.00" width="3.73" height="1.89"/><rect x="40.52" y="35.00" width="5.58" height="1.89"/><rect x="47.89" y="35.00" width="5.58" height="1.89"/><rect x="62.63" y="35.00" width="11.10" height="1.89"/><rect x="0.00" y="36.84" width="1.89" height="1.89"/><rect x="3.68" y="36.84" width="1.89" height="1.89"/><rect x="7.37" y="36.84" width="5.58" height="1.89"/><rect x="22.10" y="36.84" width="1.89" height="1.89"/><rect x="25.79" y="36.84" width="3.73" height="1.89"/><rect x="31.31" y="36.84" width="14.79" height="1.89"/><rect x="47.89" y="36.84" width="1.89" height="1.89"/><rect x="51.58" y="36.84" width="1.89" height="1.89"/><rect x="55.26" y="36.84" width="1.89" height="1.89"/><rect x="58.94" y="36.84" width="1.89" height="1.89"/><rect x="62.63" y="36.84" width="5.58" height="1.89"/><rect x="70.00" y="36.84" width="1.89" height="1.89"/><rect x="0.00" y="38.68" width="5.58" height="1.89"/><rect x="7.37" y="38.68" width="3.73" height="1.89"/><rect x="14.74" y="38.68" width="3.73" height="1.89"/><rect x="23.95" y="38.68" width="7.42" height="1.89"/><rect x="33.16" y="38.68" width="3.73" height="1.89"/><rect x="40.52" y="38.68" width="3.73" height="1.89"/><rect x="46.05" y="38.68" width="1.89" height="1.89"/><rect x="49.73" y="38.68" width="5.58" height="1.89"/><rect x="66.31" y="38.68" width="1.89" height="1.89"/><rect x="0.00" y="40.52" width="5.58" height="1.89"/><rect x="9.21" y="40.52" width="11.10" height="1.89"/><rect x="23.95" y="40.52" width="5.58" height="1.89"/><rect x="31.31" y="40.52" width="9.26" height="1.89"/><rect x="42.37" y="40.52" width="11.10" height="1.89"/><rect x="57.10" y="40.52" width="1.89" height="1.89"/><rect x="68.15" y="40.52" width="1.89" height="1.89"/><rect x="0.00" y="42.37" width="1.89" height="1.89"/><rect x="3.68" y="42.37" width="1.89" height="1.89"/><rect x="7.37" y="42.37" width="5.58" height="1.89"/><rect x="14.74" y="42.37" width="1.89" height="1.89"/><rect x="22.10" y="42.37" width="5.58" height="1.89"/><rect x="31.31" y="42.37" width="3.73" height="1.89"/><rect x="36.84" y="42.37" width="5.58" height="1.89"/><rect x="47.89" y="42.37" width="5.58" height="1.89"/><rect x="55.26" y="42.37" width="1.89" height="1.89"/><rect x="58.94" y="42.37" width="1.89" height="1.89"/><rect x="62.63" y="42.37" width="5.58" height="1.89"/><rect x="71.84" y="42.37" width="1.89" height="1.89"/><rect x="0.00" y="44.21" width="12.94" height="1.89"/><rect x="16.58" y="44.21" width="1.89" height="1.89"/><rect x="22.10" y="44.21" width="3.73" height="1.89"/><rect x="27.63" y="44.21" width="1.89" height="1.89"/><rect x="31.31" y="44.21" width="1.89" height="1.89"/><rect x="36.84" y="44.21" width="1.89" height="1.89"/><rect x="40.52" y="44.21" width="1.89" height="1.89"/><rect x="44.21" y="44.21" width="1.89" height="1.89"/><rect x="49.73" y="44.21" width="11.10" height="1.89"/><rect x="64.47" y="44.21" width="5.58" height="1.89"/><rect x="0.00" y="46.05" width="3.73" height="1.89"/><rect x="5.53" y="46.05" width="1.89" height="1.89"/><rect x="9.21" y="46.05" width="1.89" height="1.89"/><rect x="12.89" y="46.05" width="1.89" height="1.89"/><rect x="18.42" y="46.05" width="5.58" height="1.89"/><rect x="36.84" y="46.05" width="16.63" height="1.89"/><rect x="55.26" y="46.05" width="11.10" height="1.89"/><rect x="68.15" y="46.05" width="5.58" height="1.89"/><rect x="0.00" y="47.89" width="11.10" height="1.89"/><rect x="12.89" y="47.89" width="1.89" height="1.89"/><rect x="18.42" y="47.89" width="7.42" height="1.89"/><rect x="27.63" y="47.89" width="5.58" height="1.89"/><rect x="38.68" y="47.89" width="7.42" height="1.89"/><rect x="47.89" y="47.89" width="5.58" height="1.89"/><rect x="58.94" y="47.89" width="1.89" height="1.89"/><rect x="64.47" y="47.89" width="5.58" height="1.89"/><rect x="0.00" y="49.73" width="1.89" height="1.89"/><rect x="3.68" y="49.73" width="11.10" height="1.89"/><rect x="20.26" y="49.73" width="5.58" height="1.89"/><rect x="27.63" y="49.73" width="7.42" height="1.89"/><rect x="36.84" y="49.73" width="1.89" height="1.89"/><rect x="40.52" y="49.73" width="18.47" height="1.89"/><rect x="66.31" y="49.73" width="7.42" height="1.89"/><rect x="1.84" y="51.58" width="14.79" height="1.89"/><rect x="18.42" y="51.58" width="12.94" height="1.89"/><rect x="33.16" y="51.58" width="1.89" height="1.89"/><rect x="36.84" y="51.58" width="1.89" height="1.89"/><rect x="40.52" y="51.58" width="3.73" height="1.89"/><rect x="46.05" y="51.58" width="7.42" height="1.89"/><rect x="55.26" y="51.58" width="1.89" height="1.89"/><rect x="58.94" y="51.58" width="7.42" height="1.89"/><rect x="70.00" y="51.58" width="1.89" height="1.89"/><rect x="1.84" y="53.42" width="1.89" height="1.89"/><rect x="5.53" y="53.42" width="5.58" height="1.89"/><rect x="12.89" y="53.42" width="1.89" height="1.89"/><rect x="18.42" y="53.42" width="1.89" height="1.89"/><rect x="22.10" y="53.42" width="9.26" height="1.89"/><rect x="33.16" y="53.42" width="1.89" height="1.89"/><rect x="36.84" y="53.42" width="1.89" height="1.89"/><rect x="40.52" y="53.42" width="1.89" height="1.89"/><rect x="46.05" y="53.42" width="9.26" height="1.89"/><rect x="57.10" y="53.42" width="3.73" height="1.89"/><rect x="62.63" y="53.42" width="1.89" height="1.89"/><rect x="68.15" y="53.42" width="1.89" height="1.89"/><rect x="0.00" y="55.26" width="3.73" height="1.89"/><rect x="9.21" y="55.26" width="3.73" height="1.89"/><rect x="14.74" y="55.26" width="14.79" height="1.89"/><rect x="31.31" y="55.26" width="3.73" height="1.89"/><rect x="38.68" y="55.26" width="3.73" height="1.89"/><rect x="49.73" y="55.26" width="11.10" height="1.89"/><rect x="71.84" y="55.26" width="1.89" height="1.89"/><rect x="5.53" y="57.10" width="1.89" height="1.89"/><rect x="9.21" y="57.10" width="3.73" height="1.89"/><rect x="14.74" y="57.10" width="1.89" height="1.89"/><rect x="18.42" y="57.10" width="3.73" height="1.89"/><rect x="23.95" y="57.10" width="7.42" height="1.89"/><rect x="40.52" y="57.10" width="1.89" height="1.89"/><rect x="44.21" y="57.10" width="20.31" height="1.89"/><rect x="66.31" y="57.10" width="1.89" height="1.89"/><rect x="71.84" y="57.10" width="1.89" height="1.89"/><rect x="0.00" y="58.94" width="5.58" height="1.89"/><rect x="11.05" y="58.94" width="1.89" height="1.89"/><rect x="14.74" y="58.94" width="3.73" height="1.89"/><rect x="20.26" y="58.94" width="5.58" height="1.89"/><rect x="27.63" y="58.94" width="3.73" height="1.89"/><rect x="35.00" y="58.94" width="1.89" height="1.89"/><rect x="46.05" y="58.94" width="7.42" height="1.89"/><rect x="55.26" y="58.94" width="1.89" height="1.89"/><rect x="58.94" y="58.94" width="1.89" height="1.89"/><rect x="62.63" y="58.94" width="1.89" height="1.89"/><rect x="70.00" y="58.94" width="1.89" height="1.89"/><rect x="1.84" y="60.79" width="3.73" height="1.89"/><rect x="7.37" y="60.79" width="1.89" height="1.89"/><rect x="14.74" y="60.79" width="9.26" height="1.89"/><rect x="25.79" y="60.79" width="1.89" height="1.89"/><rect x="29.47" y="60.79" width="1.89" height="1.89"/><rect x="33.16" y="60.79" width="3.73" height="1.89"/><rect x="42.37" y="60.79" width="11.10" height="1.89"/><rect x="58.94" y="60.79" width="1.89" height="1.89"/><rect x="62.63" y="60.79" width="5.58" height="1.89"/><rect x="71.84" y="60.79" width="1.89" height="1.89"/><rect x="1.84" y="62.63" width="9.26" height="1.89"/><rect x="14.74" y="62.63" width="5.58" height="1.89"/><rect x="22.10" y="62.63" width="5.58" height="1.89"/><rect x="33.16" y="62.63" width="11.10" height="1.89"/><rect x="46.05" y="62.63" width="9.26" height="1.89"/><rect x="57.10" y="62.63" width="3.73" height="1.89"/><rect x="62.63" y="62.63" width="3.73" height="1.89"/><rect x="68.15" y="62.63" width="3.73" height="1.89"/><rect x="0.00" y="64.47" width="1.89" height="1.89"/><rect x="5.53" y="64.47" width="5.58" height="1.89"/><rect x="16.58" y="64.47" width="3.73" height="1.89"/><rect x="22.10" y="64.47" width="1.89" height="1.89"/><rect x="27.63" y="64.47" width="3.73" height="1.89"/><rect x="33.16" y="64.47" width="1.89" height="1.89"/><rect x="38.68" y="64.47" width="7.42" height="1.89"/><rect x="47.89" y="64.47" width="3.73" height="1.89"/><rect x="53.42" y="64.47" width="7.42" height="1.89"/><rect x="62.63" y="64.47" width="11.10" height="1.89"/><rect x="1.84" y="66.31" width="9.26" height="1.89"/><rect x="12.89" y="66.31" width="1.89" height="1.89"/><rect x="16.58" y="66.31" width="1.89" height="1.89"/><rect x="20.26" y="66.31" width="5.58" height="1.89"/><rect x="27.63" y="66.31" width="1.89" height="1.89"/><rect x="31.31" y="66.31" width="5.58" height="1.89"/><rect x="38.68" y="66.31" width="5.58" height="1.89"/><rect x="46.05" y="66.31" width="3.73" height="1.89"/><rect x="53.42" y="66.31" width="3.73" height="1.89"/><rect x="58.94" y="66.31" width="1.89" height="1.89"/><rect x="62.63" y="66.31" width="7.42" height="1.89"/><rect x="71.84" y="66.31" width="1.89" height="1.89"/><rect x="1.84" y="68.15" width="1.89" height="1.89"/><rect x="11.05" y="68.15" width="7.42" height="1.89"/><rect x="20.26" y="68.15" width="3.73" height="1.89"/><rect x="25.79" y="68.15" width="11.10" height="1.89"/><rect x="46.05" y="68.15" width="3.73" height="1.89"/><rect x="53.42" y="68.15" width="11.10" height="1.89"/><rect x="66.31" y="68.15" width="5.58" height="1.89"/><rect x="0.00" y="70.00" width="12.94" height="1.89"/><rect x="20.26" y="70.00" width="1.89" height="1.89"/><rect x="23.95" y="70.00" width="11.10" height="1.89"/><rect x="36.84" y="70.00" width="7.42" height="1.89"/><rect x="47.89" y="70.00" width="1.89" height="1.89"/><rect x="51.58" y="70.00" width="1.89" height="1.89"/><rect x="55.26" y="70.00" width="7.42" height="1.89"/><rect x="68.15" y="70.00" width="1.89" height="1.89"/><rect x="71.84" y="70.00" width="1.89" height="1.89"/><rect x="0.00" y="71.84" width="5.58" height="1.89"/><rect x="9.21" y="71.84" width="1.89" height="1.89"/><rect x="12.89" y="71.84" width="3.73" height="1.89"/><rect x="18.42" y="71.84" width="12.94" height="1.89"/><rect x="33.16" y="71.84" width="1.89" height="1.89"/><rect x="36.84" y="71.84" width="1.89" height="1.89"/><rect x="40.52" y="71.84" width="3.73" height="1.89"/><rect x="49.73" y="71.84" width="7.42" height="1.89"/><rect x="58.94" y="71.84" width="7.42" height="1.89"/><rect x="71.84" y="71.84" width="1.89" height="1.89"/></pattern>
<pattern id="gp3" width="73.68" height="73.68" patternUnits="userSpaceOnUse" fill="#006400" shape-rendering="crispEdges"><rect x="1.84" y="0.00" width="1.89" height="1.89"/><rect x="5.53" y="0.00" width="1.89" height="1.89"/><rect x="9.21" y="0.00" width="3.73" height="1.89"/><rect x="20.26" y="0.00" width="1.89" height="1.89"/><rect x="25.79" y="0.00" width="1.89" height="1.89"/><rect x="33.16" y="0.00" width="1.89" height="1.89"/><rect x="36.84" y="0.00" width="1.89" height="1.89"/><rect x="49.73" y="0.00" width="3.73" height="1.89"/><rect x="58.94" y="0.00" width="3.73" height="1.89"/><rect x="68.15" y="0.00" width="5.58" height="1.89"/><rect x="1.84" y="1.84" width="5.58" height="1.89"/><rect x="11.05" y="1.84" width="1.89" height="1.89"/><rect x="14.74" y="1.84" width="1.89" height="1.89"/><rect x="18.42" y="1.84" width="3.73" height="1.89"/><rect x="29.47" y="1.84" width="1.89" height="1.89"/><rect x="33.16" y="1.84" width="1.89" height="1.89"/><rect x="38.68" y="1.84" width="7.42" height="1.89"/><rect x="53.42" y="1.84" width="1.89" height="1.89"/><rect x="62.63" y="1.84" width="1.89" height="1.89"/><rect x="71.84" y="1.84" width="1.89" height="1.89"/><rect x="0.00" y="3.68" width="1.89" height="1.89"/><rect x="3.68" y="3.68" width="1.89" height="1.89"/><rect x="11.05" y="3.68" width="3.73" height="1.89"/><rect x="18.42" y="3.68" width="1.89" height="1.89"/><rect x="23.95" y="3.68" width="1.89" height="1.89"/><rect x="36.84" y="3.68" width="3.73" height="1.89"/><rect x="46.05" y="3.68" width="1.89" height="1.89"/><rect x="51.58" y="3.68" width="3.73" height="1.89"/><rect x="57.10" y="3.68" width="1.89" height="1.89"/><rect x="68.15" y="3.68" width="5.58" height="1.89"/><rect x="0.00" y="5.53" width="1.89" height="1.89"/><rect x="3.68" y="5.53" width="3.73" height="1.89"/><rect x="16.58" y="5.53" width="1.89" height="1.89"/><rect x="22.10" y="5.53" width="1.89" height="1.89"/><rect x="31.31" y="5.53" width="1.89" height="1.89"/><rect x="38.68" y="5.53" width="1.89" height="1.89"/><rect x="42.37" y="5.53" width="1.89" height="1.89"/><rect x="46.05" y="5.53" width="3.73" height="1.89"/><rect x="51.58" y="5.53" width="1.89" height="1.89"/><rect x="55.26" y="5.53" width="1.89" height="1.89"/><rect x="71.84" y="5.53" width="1.89" height="1.89"/><rect x="0.00" y="7.37" width="1.89" height="1.89"/><rect x="7.37" y="7.37" width="3.73" height="1.89"/><rect x="16.58" y="7.37" width="5.58" height="1.89"/><rect x="44.21" y="7.37" width="11.10" height="1.89"/><rect x="64.47" y="7.37" width="1.89" height="1.89"/><rect x="11.05" y="9.21" width="3.73" height="1.89"/><rect x="18.42" y="9.21" width="3.73" height="1.89"/><rect x="29.47" y="9.21" width="3.73" height="1.89"/><rect x="38.68" y="9.21" width="3.73" height="1.89"/><rect x="44.21" y="9.21" width="1.89" height="1.89"/><rect x="47.89" y="9.21" width="1.89" height="1.89"/><rect x="57.10" y="9.21" width="1.89" height="1.89"/><rect x="60.79" y="9.21" width="1.89" height="1.89"/><rect x="68.15" y="9.21" width="1.89" height="1.89"/><rect x="16.58" y="11.05" width="1.89" height="1.89"/><rect x="22.10" y="11.05" width="7.42" height="1.89"/><rect x="44.21" y="11.05" width="1.89" height="1.89"/><rect x="53.42" y="11.05" width="1.89" height="1.89"/><rect x="66.31" y="11.05" width="1.89" height="1.89"/><rect x="11.05" y="12.89" width="1.89" height="1.89"/><rect x="23.95" y="12.89" width="1.89" height="1.89"/><rect x="27.63" y="12.89" width="1.89" height="1.89"/><rect x="33.16" y="12.89" width="1.89" height="1.89"/><rect x="57.10" y="12.89" width="1.89" height="1.89"/><rect x="1.84" y="14.74" width="1.89" height="1.89"/><rect x="7.37" y="14.74" width="3.73" height="1.89"/><rect x="14.74" y="14.74" width="1.89" height="1.89"/><rect x="18.42" y="14.74" width="9.26" height="1.89"/><rect x="35.00" y="14.74" width="1.89" height="1.89"/><rect x="47.89" y="14.74" width="1.89" height="1.89"/><rect x="51.58" y="14.74" width="3.73" height="1.89"/><rect x="64.47" y="14.74" width="1.89" height="1.89"/><rect x="68.15" y="14.74" width="1.89" height="1.89"/><rect x="0.00" y="16.58" width="1.89" height="1.89"/><rect x="23.95" y="16.58" width="5.58" height="1.89"/><rect x="31.31" y="16.58" width="1.89" height="1.89"/><rect x="35.00" y="16.58" width="1.89" height="1.89"/><rect x="47.89" y="16.58" width="1.89" height="1.89"/><rect x="51.58" y="16.58" width="3.73" height="1.89"/><rect x="62.63" y="16.58" width="7.42" height="1.89"/><rect x="71.84" y="16.58" width="1.89" height="1.89"/><rect x="1.84" y="18.42" width="1.89" height="1.89"/><rect x="5.53" y="18.42" width="3.73" height="1.89"/><rect x="18.42" y="18.42" width="1.89" height="1.89"/><rect x="23.95" y="18.42" width="1.89" height="1.89"/><rect x="38.68" y="18.42" width="3.73" height="1.89"/><rect x="55.26" y="18.42" width="1.89" height="1.89"/><rect x="62.63" y="18.42" width="1.89" height="1.89"/><rect x="68.15" y="18.42" width="1.89" height="1.89"/><rect x="3.68" y="20.26" width="1.89" height="1.89"/><rect x="9.21" y="20.26" width="3.73" height="1.89"/><rect x="18.42" y="20.26" width="1.89" height="1.89"/><rect x="25.79" y="20.26" width="1.89" height="1.89"/><rect x="55.26" y="20.26" width="1.89" height="1.89"/><rect x="64.47" y="20.26" width="1.89" height="1.89"/><rect x="68.15" y="20.26" width="5.58" height="1.89"/><rect x="11.05" y="22.10" width="1.89" height="1.89"/><rect x="14.74" y="22.10" width="1.89" height="1.89"/><rect x="22.10" y="22.10" width="3.73" height="1.89"/><rect x="27.63" y="22.10" width="1.89" height="1.89"/><rect x="36.84" y="22.10" width="3.73" height="1.89"/><rect x="58.94" y="22.10" width="1.89" height="1.89"/><rect x="62.63" y="22.10" width="1.89" height="1.89"/><rect x="66.31" y="22.10" width="3.73" height="1.89"/><rect x="12.89" y="23.95" width="1.89" height="1.89"/><rect x="23.95" y="23.95" width="1.89" height="1.89"/><rect x="40.52" y="23.95" width="1.89" height="1.89"/><rect x="49.73" y="23.95" width="3.73" height="1.89"/><rect x="55.26" y="23.95" width="1.89" height="1.89"/><rect x="60.79" y="23.95" width="1.89" height="1.89"/><rect x="3.68" y="25.79" width="1.89" height="1.89"/><rect x="14.74" y="25.79" width="1.89" height="1.89"/><rect x="20.26" y="25.79" width="1.89" height="1.89"/><rect x="23.95" y="25.79" width="1.89" height="1.89"/><rect x="36.84" y="25.79" width="1.89" height="1.89"/><rect x="40.52" y="25.79" width="5.58" height="1.89"/><rect x="49.73" y="25.79" width="1.89" height="1.89"/><rect x="53.42" y="25.79" width="3.73" height="1.89"/><rect x="1.84" y="27.63" width="1.89" height="1.89"/><rect x="5.53" y="27.63" width="1.89" height="1.89"/><rect x="12.89" y="27.63" width="1.89" height="1.89"/><rect x="23.95" y="27.63" width="1.89" height="1.89"/><rect x="36.84" y="27.63" width="1.89" height="1.89"/><rect x="40.52" y="27.63" width="3.73" height="1.89"/><rect x="49.73" y="27.63" width="3.73" height="1.89"/><rect x="60.79" y="27.63" width="1.89" height="1.89"/><rect x="1.84" y="29.47" width="1.89" height="1.89"/><rect x="23.95" y="29.47" width="1.89" height="1.89"/><rect x="29.47" y="29.47" width="1.89" height="1.89"/><rect x="36.84" y="29.47" width="1.89" height="1.89"/><rect x="42.37" y="29.47" width="1.89" height="1.89"/><rect x="46.05" y="29.47" width="1.89" height="1.89"/><rect x="53.42" y="29.47" width="1.89" height="1.89"/><rect x="57.10" y="29.47" width="1.89" height="1.89"/><rect x="68.15" y="29.47" width="1.89" height="1.89"/><rect x="18.42" y="31.31" width="1.89" height="1.89"/><rect x="27.63" y="31.31" width="1.89" height="1.89"/><rect x="46.05" y="31.31" width="1.89" height="1.89"/><rect x="51.58" y="31.31" width="3.73" height="1.89"/><rect x="66.31" y="31.31" width="1.89" height="1.89"/><rect x="1.84" y="33.16" width="1.89" height="1.89"/><rect x="7.37" y="33.16" width="1.89" height="1.89"/><rect x="16.58" y="33.16" width="1.89" height="1.89"/><rect x="27.63" y="33.16" width="1.89" height="1.89"/><rect x="33.16" y="33.16" width="3.73" height="1.89"/><rect x="42.37" y="33.16" width="1.89" height="1.89"/><rect x="60.79" y="33.16" width="1.89" height="1.89"/><rect x="1.84" y="35.00" width="1.89" height="1.89"/><rect x="20.26" y="35.00" width="1.89" height="1.89"/><rect x="35.00" y="35.00" width="5.58" height="1.89"/><rect x="51.58" y="35.00" width="1.89" height="1.89"/><rect x="66.31" y="35.00" width="3.73" height="1.89"/><rect x="71.84" y="35.00" width="1.89" height="1.89"/><rect x="5.53" y="36.84" width="9.26" height="1.89"/><rect x="16.58" y="36.84" width="3.73" height="1.89"/><rect x="22.10" y="36.84" width="1.89" height="1.89"/><rect x="44.21" y="36.84" width="1.89" height="1.89"/><rect x="64.47" y="36.84" width="1.89" height="1.89"/><rect x="70.00" y="36.84" width="3.73" height="1.89"/><rect x="0.00" y="38.68" width="1.89" height="1.89"/><rect x="5.53" y="38.68" width="1.89" height="1.89"/><rect x="18.42" y="38.68" width="7.42" height="1.89"/><rect x="31.31" y="38.68" width="1.89" height="1.89"/><rect x="36.84" y="38.68" width="1.89" height="1.89"/><rect x="47.89" y="38.68" width="1.89" height="1.89"/><rect x="57.10" y="38.68" width="3.73" height="1.89"/><rect x="5.53" y="40.52" width="1.89" height="1.89"/><rect x="11.05" y="40.52" width="1.89" height="1.89"/><rect x="16.58" y="40.52" width="1.89" height="1.89"/><rect x="23.95" y="40.52" width="1.89" height="1.89"/><rect x="35.00" y="40.52" width="1.89" height="1.89"/><rect x="38.68" y="40.52" width="1.89" height="1.89"/><rect x="42.37" y="40.52" width="3.73" height="1.89"/><rect x="49.73" y="40.52" width="1.89" height="1.89"/><rect x="57.10" y="40.52" width="1.89" height="1.89"/><rect x="64.47" y="40.52" width="1.89" height="1.89"/><rect x="16.58" y="42.37" width="5.58" height="1.89"/><rect x="25.79" y="42.37" width="1.89" height="1.89"/><rect x="35.00" y="42.37" width="3.73" height="1.89"/><rect x="42.37" y="42.37" width="1.89" height="1.89"/><rect x="57.10" y="42.37" width="1.89" height="1.89"/><rect x="60.79" y="42.37" width="1.89" height="1.89"/><rect x="1.84" y="44.21" width="1.89" height="1.89"/><rect x="5.53" y="44.21" width="1.89" height="1.89"/><rect x="9.21" y="44.21" width="5.58" height="1.89"/><rect x="20.26" y="44.21" width="1.89" height="1.89"/><rect x="51.58" y="44.21" width="3.73" height="1.89"/><rect x="60.79" y="44.21" width="1.89" height="1.89"/><rect x="68.15" y="44.21" width="1.89" height="1.89"/><rect x="71.84" y="44.21" width="1.89" height="1.89"/><rect x="0.00" y="46.05" width="1.89" height="1.89"/><rect x="12.89" y="46.05" width="1.89" height="1.89"/><rect x="16.58" y="46.05" width="1.89" height="1.89"/><rect x="20.26" y="46.05" width="5.58" height="1.89"/><rect x="35.00" y="46.05" width="1.89" height="1.89"/><rect x="38.68" y="46.05" width="1.89" height="1.89"/><rect x="62.63" y="46.05" width="3.73" height="1.89"/><rect x="23.95" y="47.89" width="5.58" height="1.89"/><rect x="31.31" y="47.89" width="1.89" height="1.89"/><rect x="40.52" y="47.89" width="1.89" height="1.89"/><rect x="55.26" y="47.89" width="1.89" height="1.89"/><rect x="60.79" y="47.89" width="3.73" height="1.89"/><rect x="3.68" y="49.73" width="1.89" height="1.89"/><rect x="29.47" y="49.73" width="1.89" height="1.89"/><rect x="40.52" y="49.73" width="1.89" height="1.89"/><rect x="51.58" y="49.73" width="3.73" height="1.89"/><rect x="58.94" y="49.73" width="1.89" height="1.89"/><rect x="68.15" y="49.73" width="1.89" height="1.89"/><rect x="16.58" y="51.58" width="1.89" height="1.89"/><rect x="20.26" y="51.58" width="1.89" height="1.89"/><rect x="25.79" y="51.58" width="1.89" height="1.89"/><rect x="29.47" y="51.58" width="3.73" height="1.89"/><rect x="36.84" y="51.58" width="1.89" height="1.89"/><rect x="47.89" y="51.58" width="1.89" height="1.89"/><rect x="70.00" y="51.58" width="1.89" height="1.89"/><rect x="1.84" y="53.42" width="1.89" height="1.89"/><rect x="20.26" y="53.42" width="1.89" height="1.89"/><rect x="23.95" y="53.42" width="1.89" height="1.89"/><rect x="29.47" y="53.42" width="1.89" height="1.89"/><rect x="33.16" y="53.42" width="7.42" height="1.89"/><rect x="47.89" y="53.42" width="1.89" height="1.89"/><rect x="51.58" y="53.42" width="1.89" height="1.89"/><rect x="57.10" y="53.42" width="1.89" height="1.89"/><rect x="62.63" y="53.42" width="1.89" height="1.89"/><rect x="0.00" y="55.26" width="1.89" height="1.89"/><rect x="3.68" y="55.26" width="1.89" height="1.89"/><rect x="20.26" y="55.26" width="1.89" height="1.89"/><rect x="35.00" y="55.26" width="1.89" height="1.89"/><rect x="49.73" y="55.26" width="3.73" height="1.89"/><rect x="55.26" y="55.26" width="7.42" height="1.89"/><rect x="64.47" y="55.26" width="1.89" height="1.89"/><rect x="70.00" y="55.26" width="1.89" height="1.89"/><rect x="22.10" y="57.10" width="1.89" height="1.89"/><rect x="29.47" y="57.10" width="1.89" height="1.89"/><rect x="35.00" y="57.10" width="7.42" height="1.89"/><rect x="47.89" y="57.10" width="1.89" height="1.89"/><rect x="51.58" y="57.10" width="3.73" height="1.89"/><rect x="58.94" y="57.10" width="3.73" height="1.89"/><rect x="64.47" y="57.10" width="3.73" height="1.89"/><rect x="3.68" y="58.94" width="1.89" height="1.89"/><rect x="29.47" y="58.94" width="3.73" height="1.89"/><rect x="35.00" y="58.94" width="1.89" height="1.89"/><rect x="38.68" y="58.94" width="5.58" height="1.89"/><rect x="49.73" y="58.94" width="1.89" height="1.89"/><rect x="53.42" y="58.94" width="1.89" height="1.89"/><rect x="58.94" y="58.94" width="5.58" height="1.89"/><rect x="68.15" y="58.94" width="5.58" height="1.89"/><rect x="3.68" y="60.79" width="1.89" height="1.89"/><rect x="18.42" y="60.79" width="1.89" height="1.89"/><rect x="22.10" y="60.79" width="1.89" height="1.89"/><rect x="27.63" y="60.79" width="1.89" height="1.89"/><rect x="35.00" y="60.79" width="5.58" height="1.89"/><rect x="42.37" y="60.79" width="1.89" height="1.89"/><rect x="47.89" y="60.79" width="1.89" height="1.89"/><rect x="64.47" y="60.79" width="1.89" height="1.89"/><rect x="71.84" y="60.79" width="1.89" height="1.89"/><rect x="12.89" y="62.63" width="1.89" height="1.89"/><rect x="27.63" y="62.63" width="1.89" height="1.89"/><rect x="40.52" y="62.63" width="1.89" height="1.89"/><rect x="49.73" y="62.63" width="1.89" height="1.89"/><rect x="53.42" y="62.63" width="1.89" height="1.89"/><rect x="60.79" y="62.63" width="1.89" height="1.89"/><rect x="66.31" y="62.63" width="1.89" height="1.89"/><rect x="70.00" y="62.63" width="1.89" height="1.89"/><rect x="0.00" y="64.47" width="1.89" height="1.89"/><rect x="14.74" y="64.47" width="1.89" height="1.89"/><rect x="22.10" y="64.47" width="1.89" height="1.89"/><rect x="31.31" y="64.47" width="1.89" height="1.89"/><rect x="42.37" y="64.47" width="1.89" height="1.89"/><rect x="46.05" y="64.47" width="5.58" height="1.89"/><rect x="55.26" y="64.47" width="1.89" height="1.89"/><rect x="68.15" y="64.47" width="1.89" height="1.89"/><rect x="71.84" y="64.47" width="1.89" height="1.89"/><rect x="5.53" y="66.31" width="1.89" height="1.89"/><rect x="12.89" y="66.31" width="3.73" height="1.89"/><rect x="25.79" y="66.31" width="3.73" height="1.89"/><rect x="38.68" y="66.31" width="11.10" height="1.89"/><rect x="64.47" y="66.31" width="5.58" height="1.89"/><rect x="3.68" y="68.15" width="1.89" height="1.89"/><rect x="7.37" y="68.15" width="3.73" height="1.89"/><rect x="12.89" y="68.15" width="3.73" height="1.89"/><rect x="23.95" y="68.15" width="1.89" height="1.89"/><rect x="31.31" y="68.15" width="7.42" height="1.89"/><rect x="40.52" y="68.15" width="1.89" height="1.89"/><rect x="47.89" y="68.15" width="3.73" height="1.89"/><rect x="0.00" y="70.00" width="1.89" height="1.89"/><rect x="9.21" y="70.00" width="1.89" height="1.89"/><rect x="14.74" y="70.00" width="1.89" height="1.89"/><rect x="23.95" y="70.00" width="7.42" height="1.89"/><rect x="33.16" y="70.00" width="1.89" height="1.89"/><rect x="36.84" y="70.00" width="7.42" height="1.89"/><rect x="47.89" y="70.00" width="3.73" height="1.89"/><rect x="71.84" y="70.00" width="1.89" height="1.89"/><rect x="0.00" y="71.84" width="1.89" height="1.89"/><rect x="5.53" y="71.84" width="1.89" height="1.89"/><rect x="11.05" y="71.84" width="11.10" height="1.89"/><rect x="23.95" y="71.84" width="1.89" height="1.89"/><rect x="31.31" y="71.84" width="1.89" height="1.89"/><rect x="35.00" y="71.84" width="5.58" height="1.89"/><rect x="47.89" y="71.84" width="1.89" height="1.89"/><rect x="53.42" y="71.84" width="1.89" height="1.89"/><rect x="58.94" y="71.84" width="1.89" height="1.89"/><rect x="62.63" y="71.84" width="3.73" height="1.89"/><rect x="70.00" y="71.84" width="1.89" height="1.89"/></pattern>
</defs>
<g clip-path="url(#mapclip)">
<line x1="265.0" x2="265.0" y1="152.9" y2="1751.8" stroke="#EBEBEB" stroke-width="4.4"/>
<line x1="486.0" x2="486.0" y1="152.9" y2="1751.8" stroke="#EBEBEB" stroke-width="4.4"/>
<line x1="707.0" x2="707.0" y1="152.9" y2="1751.8" stroke="#EBEBEB" stroke-width="4.4"/>
<line x1="928.0" x2="928.0" y1="152.9" y2="1751.8" stroke="#EBEBEB" stroke-width="4.4"/>
<line x1="1149.0" x2="1149.0" y1="152.9" y2="1751.8" stroke="#EBEBEB" stroke-width="4.4"/>
<line x1="1370.0" x2="1370.0" y1="152.9" y2="1751.8" stroke="#EBEBEB" stroke-width="4.4"/>
<line y1="1650.0" y2="1650.0" x1="199.3" x2="1482.0" stroke="#EBEBEB" stroke-width="4.4"/>
<line y1="1304.7" y2="1304.7" x1="199.3" x2="1482.0" stroke="#EBEBEB" stroke-width="4.4"/>
<line y1="959.4" y2="959.4" x1="199.3" x2="1482.0" stroke="#EBEBEB" stroke-width="4.4"/>
<line y1="614.1" y2="614.1" x1="199.3" x2="1482.0" stroke="#EBEBEB" stroke-width="4.4"/>
<line y1="268.8" y2="268.8" x1="199.3" x2="1482.0" stroke="#EBEBEB" stroke-width="4.4"/>
<rect x="199.3" y="152.9" width="1282.7" height="1598.8999999999999" fill="#D3D3D3" mask="url(#landmask)"/>
<polygon points="533.8,1180.0 643.8,1180.0 642.5,1185.0 635.0,1187.5 633.8,1195.0 628.8,1200.0 622.5,1202.5 613.8,1198.8 603.8,1191.2 600.0,1186.2 591.2,1188.8 580.0,1185.0 572.5,1185.0 567.5,1190.0 560.0,1192.5 555.0,1197.5 553.8,1207.5 553.8,1216.2 558.8,1221.2 560.0,1226.2 557.5,1233.8 557.5,1241.2 552.5,1246.2 542.5,1252.5 537.5,1255.0 527.5,1250.0 527.5,1230.0 540.0,1222.5 542.5,1216.2 536.2,1216.2 536.2,1205.0 531.2,1203.8 530.0,1200.0 505.0,1200.6 503.8,1198.1 512.5,1195.0 530.0,1197.5 533.8,1192.5 530.0,1188.8" fill="url(#gp1)"/>
<polygon points="465.0,1227.5 470.0,1221.2 475.0,1227.5 486.2,1223.8 492.5,1221.2 497.5,1227.5 510.0,1228.8 517.5,1222.5 522.5,1227.5 527.5,1230.0 527.5,1238.8 517.5,1238.8 510.0,1240.0 500.0,1240.0 492.5,1235.0 487.5,1233.8 477.5,1235.0 476.2,1230.0 467.5,1231.2" fill="url(#gp1)"/>
<polygon points="421.2,1272.5 430.0,1267.5 440.0,1271.2 445.0,1275.0 448.8,1283.8 457.5,1292.5 458.1,1302.5 467.5,1288.8 465.0,1288.8 467.5,1276.2 482.5,1273.1 492.5,1276.2 493.8,1271.2 495.0,1278.8 486.2,1292.5 481.2,1300.0 477.5,1307.5 471.2,1311.2 461.2,1312.5 467.5,1318.8 467.5,1323.8 462.5,1321.2 457.5,1316.2 447.5,1318.8 438.8,1318.8 435.0,1310.0 427.5,1300.0 432.5,1297.5 432.5,1290.0 422.5,1287.5 418.8,1280.0" fill="url(#gp1)"/>
<polygon points="436.2,1223.8 438.8,1230.0 443.8,1231.2 443.8,1242.5 438.8,1242.5 436.2,1233.8" fill="#006400"/>
<polygon points="446.2,1241.2 450.6,1245.0 450.0,1255.0 445.0,1253.8" fill="#006400"/>
<polygon points="511.2,1253.1 511.9,1263.8 505.0,1272.5 499.4,1275.0 498.8,1270.0 503.8,1263.8 503.1,1257.5" fill="#006400"/>
<polygon points="515.0,1250.6 521.2,1251.2 520.0,1257.5 517.5,1261.2 515.6,1256.2" fill="#006400"/>
<polygon points="525.0,1256.9 530.0,1256.2 529.4,1261.2 525.6,1261.2" fill="#006400"/>
<polygon points="430.0,1348.8 441.2,1348.1 436.2,1357.5 435.0,1363.8 443.8,1365.0 443.8,1370.0 435.0,1373.8 430.0,1376.2 423.8,1373.1 422.5,1370.0 428.8,1362.5 429.4,1355.0" fill="url(#gp1)"/>
<polygon points="464.4,1331.2 467.5,1331.2 467.5,1341.2 465.0,1343.8" fill="#006400"/>
<polygon points="478.8,1336.2 481.2,1337.5 482.5,1345.0 485.6,1348.1 485.0,1350.6 480.0,1353.8 473.1,1353.8 470.6,1348.8 476.2,1348.1 478.8,1343.8" fill="#006400"/>
<polygon points="552.5,1305.0 556.2,1306.2 557.5,1311.2 562.5,1312.5 561.9,1321.2 559.4,1327.5 555.0,1330.6 547.5,1325.0 541.2,1323.8 538.1,1318.8 538.8,1313.1 543.8,1310.6 548.8,1308.1" fill="url(#gp1)"/>
<polygon points="571.2,1302.5 580.0,1302.2 581.9,1306.2 581.2,1312.5 577.5,1311.2 573.8,1307.5 569.4,1306.9" fill="#006400"/>
<polygon points="517.5,1334.4 521.2,1335.0 520.6,1338.1 516.2,1338.8" fill="#006400"/>
<polygon points="512.5,1341.9 516.2,1341.9 515.6,1344.4 512.2,1344.4" fill="#006400"/>
<polygon points="518.8,1348.1 521.0,1348.1 521.0,1353.1 518.8,1353.1" fill="#006400"/>
<polygon points="433.8,1210.0 442.5,1210.0 441.9,1213.8 433.8,1212.8" fill="#006400"/>
<polygon points="451.2,1210.0 462.5,1210.0 463.8,1215.6 452.5,1215.6" fill="#006400"/>
<polygon points="481.2,1210.0 498.8,1210.0 496.2,1215.0 483.8,1212.8" fill="#006400"/>
<polygon points="455.0,1335.6 460.0,1334.4 460.0,1338.5 455.6,1338.1" fill="#006400"/>
<polygon points="425.0,1339.0 426.9,1339.0 428.8,1344.0 425.2,1344.0" fill="#006400"/>
<polygon points="577.0,1079.2 580.8,1076.8 583.2,1081.8 593.2,1080.5 590.8,1091.8 587.0,1100.5 597.0,1100.5 598.2,1105.5 597.0,1123.0 599.5,1135.5 602.0,1145.5 612.0,1150.5 619.5,1156.8 623.2,1164.2 632.0,1166.8 649.5,1168.0 657.0,1161.8 667.0,1158.0 669.5,1160.5 667.0,1170.5 659.5,1174.2 652.0,1178.0 643.2,1178.0 640.8,1185.5 634.5,1189.2 632.0,1195.5 623.2,1203.0 612.0,1195.5 604.5,1193.0 599.5,1185.5 589.5,1186.8 579.5,1186.8 572.0,1184.2 564.5,1190.5 554.5,1195.5 554.5,1208.0 537.0,1208.0 533.2,1198.0 530.8,1188.0 534.5,1180.5 537.0,1168.0 540.8,1164.2 547.0,1160.5 547.0,1153.0 540.8,1148.0 537.0,1148.0 539.5,1141.8 545.8,1138.0 547.0,1145.5 559.5,1148.0 562.0,1150.5 567.0,1158.0 574.5,1148.0 569.5,1143.0 562.0,1130.5 554.5,1121.8 559.5,1120.5 562.0,1110.5 559.5,1109.2 564.5,1100.5 567.0,1111.8 574.5,1116.8 578.2,1111.8 579.5,1099.2 577.0,1091.8" fill="url(#gp1)"/>
<polygon points="638.2,1075.5 649.5,1071.8 655.8,1075.5 654.5,1083.0 643.2,1083.0" fill="#006400"/>
<polygon points="639.5,1100.5 672.0,1100.5 673.2,1110.5 662.0,1118.0 649.5,1123.0 647.0,1138.0 659.5,1138.0 673.2,1138.0 677.0,1133.0 662.0,1145.5 647.0,1148.0 644.5,1138.0 642.0,1128.0 639.5,1115.5" fill="url(#gp1)"/>
<polygon points="692.0,1058.0 774.5,1058.0 774.5,1086.8 764.5,1094.2 752.0,1101.8 743.2,1105.5 732.0,1114.2 724.5,1109.2 713.2,1111.8 705.8,1105.5 697.0,1103.0 692.0,1098.0" fill="url(#gp1)"/>
<polygon points="673.2,1138.0 689.5,1131.8 699.5,1138.0 712.0,1144.2 724.5,1150.5 735.8,1155.5 748.2,1164.2 759.5,1173.0 774.5,1180.5 774.5,1259.5 765.8,1253.0 759.5,1241.8 749.5,1233.0 743.2,1224.2 732.0,1214.2 724.5,1204.2 718.2,1195.5 715.8,1183.0 712.0,1170.5 704.5,1166.8 699.5,1161.8 687.0,1156.8 679.5,1151.8 674.5,1156.8 669.5,1160.5 667.0,1158.0 662.0,1158.0 648.2,1158.0 644.5,1148.0 648.2,1139.2 659.5,1138.0" fill="url(#gp1)"/>
<polygon points="709.5,1206.8 718.2,1206.8 715.8,1212.4 709.5,1212.4" fill="#006400"/>
<polygon points="658.2,999.5 667.0,998.2 664.5,1015.8 655.8,1017.0" fill="#006400"/>
<polygon points="694.5,994.5 697.0,1002.0 703.2,997.0 710.8,997.0 704.5,1007.0 692.0,1010.8 692.0,1003.2" fill="#006400"/>
<polygon points="725.8,988.2 747.0,989.5 737.0,997.0 732.0,1007.0 727.0,1004.5" fill="#006400"/>
<polygon points="757.0,952.0 774.5,948.2 774.5,952.0 762.0,957.0 754.5,967.0 757.0,982.0 760.8,988.2 747.0,989.5 748.2,977.0 749.5,967.0" fill="url(#gp1)"/>
<polygon points="725.8,932.0 733.2,925.8 743.2,927.0 747.0,925.1 753.2,927.0 755.8,934.5 762.0,934.5 767.0,928.2 774.5,927.0 774.5,934.5 767.0,937.0 760.8,942.0 754.5,942.0 753.2,937.0 737.0,938.2 727.0,935.8" fill="url(#gp1)"/>
<polygon points="763.9,965.1 774.5,963.2 774.5,977.0 768.2,976.4 768.2,969.5" fill="#006400"/>
<polygon points="699.5,1032.0 712.0,1030.8 724.5,1029.5 735.8,1025.8 747.0,1032.0 762.0,1035.8 774.5,1038.2 774.5,1058.5 683.2,1058.5 687.0,1050.8 699.5,1044.5 702.0,1037.0" fill="url(#gp1)"/>
<polygon points="774.0,922.6 781.5,925.1 790.2,925.1 796.5,915.8 811.5,918.2 824.0,914.5 836.5,912.0 839.0,919.5 844.0,927.0 849.0,932.0 844.0,932.0 835.2,925.8 819.0,928.2 819.0,935.8 829.0,938.2 836.5,939.5 835.9,947.6 829.0,947.0 819.0,943.2 811.5,938.2 799.0,939.5 787.8,937.0 796.5,932.0 790.2,929.5 780.2,929.5 774.0,935.8" fill="url(#gp1)"/>
<polygon points="825.2,899.5 837.8,898.9 839.0,904.5 847.8,905.8 846.5,910.8 839.0,913.2 829.0,907.0" fill="#006400"/>
<polygon points="866.5,905.1 872.8,908.2 882.8,910.8 886.5,914.5 894.0,912.0 906.5,917.0 915.2,912.0 924.0,917.0 935.2,913.2 936.5,919.5 931.5,922.0 939.0,922.0 941.5,927.0 949.0,925.1 951.5,929.5 946.5,933.2 939.0,934.5 935.2,937.0 930.2,939.5 934.0,945.8 930.2,952.0 927.8,964.5 915.2,964.5 911.5,955.8 904.0,950.8 899.0,960.8 900.2,967.0 891.5,973.2 885.2,974.5 882.8,980.8 876.5,980.1 870.2,973.2 877.8,973.2 881.5,965.8 887.8,959.5 890.2,955.8 885.2,944.5 877.8,944.5 872.8,937.0 877.8,932.0 869.0,927.0" fill="url(#gp1)"/>
<polygon points="996.5,936.4 1004.0,939.5 1007.8,947.0 1016.5,945.1 1021.5,952.0 1019.0,960.8 1022.8,968.2 1025.9,969.5 1024.0,980.8 1025.2,987.0 1021.5,994.5 1020.2,999.5 1016.5,998.2 1010.2,989.5 1004.0,983.2 996.5,979.5 989.0,975.8 982.8,967.0 982.8,962.0 991.5,967.0 994.0,960.8 991.5,948.2 995.2,944.5" fill="url(#gp1)"/>
<polygon points="774.0,949.5 780.2,954.5 786.5,950.8 796.5,953.2 796.5,960.8 792.8,967.0 786.5,969.5 781.5,975.8 774.0,975.8" fill="url(#gp1)"/>
<polygon points="795.2,974.5 800.2,965.8 815.2,967.0 816.5,982.0 812.8,994.5 805.2,988.2 797.8,983.2" fill="url(#gp1)"/>
<polygon points="835.2,979.5 849.0,974.5 861.5,982.0 849.0,984.5 839.0,990.8 834.0,989.5" fill="#006400"/>
<polygon points="886.5,1013.2 891.5,1008.2 901.5,1007.0 909.0,1003.2 912.8,1007.0 921.5,1008.2 934.0,1003.2 941.5,1005.1 954.0,1000.8 952.8,994.5 955.2,994.5 955.2,1002.6 942.8,1010.8 936.5,1010.8 932.8,1007.0 919.0,1014.5 917.8,1019.5 909.0,1022.0 901.5,1018.2 894.0,1014.5 886.5,1016.4" fill="url(#gp1)"/>
<polygon points="922.8,1019.5 925.9,1019.5 925.9,1025.8 922.8,1025.8" fill="#006400"/>
<polygon points="935.9,1023.2 942.8,1023.2 942.8,1028.2 935.9,1028.2" fill="#006400"/>
<polygon points="923.4,1029.5 932.1,1029.5 932.1,1033.2 923.4,1033.2" fill="#006400"/>
<polygon points="902.1,1025.8 906.5,1025.8 906.5,1033.2 902.1,1033.2" fill="#006400"/>
<polygon points="925.9,993.9 932.1,993.9 932.1,998.9 925.9,998.9" fill="#006400"/>
<polygon points="940.9,993.9 945.2,993.9 945.2,996.4 940.9,996.4" fill="#006400"/>
<polygon points="969.0,988.2 975.9,988.2 975.9,993.9 969.0,993.9" fill="#006400"/>
<polygon points="994.0,1040.8 997.8,1040.8 997.8,1045.8 994.0,1045.8" fill="#006400"/>
<polygon points="854.0,910.8 862.1,910.8 862.1,915.8 854.0,915.8" fill="#006400"/>
<polygon points="931.5,982.0 935.9,987.0 932.8,990.8 928.4,990.1" fill="#006400"/>
<polygon points="774.0,1043.2 784.0,1044.5 791.5,1048.2 806.5,1045.8 815.2,1049.5 816.5,1058.5 774.0,1058.5" fill="url(#gp1)"/>
<polygon points="875.2,1053.2 881.5,1052.0 880.2,1058.5 875.2,1058.5" fill="#006400"/>
<polygon points="1017.1,1030.8 1025.2,1037.0 1025.2,1039.5 1019.0,1038.9" fill="#006400"/>
<polygon points="847.1,867.6 850.9,867.6 850.9,872.6 840.2,872.6 840.2,870.1" fill="#006400"/>
<polygon points="774.0,1058.0 806.5,1058.0 805.2,1063.0 796.5,1066.8 794.0,1079.2 806.5,1080.5 806.5,1086.8 799.0,1091.8 790.2,1091.8 786.5,1088.0 777.8,1088.6 774.0,1083.0" fill="url(#gp1)"/>
<polygon points="790.2,1123.0 794.6,1123.6 797.1,1131.8 796.5,1139.2 793.4,1140.5 789.0,1134.2 786.5,1130.5" fill="#006400"/>
<polygon points="799.0,1141.8 806.5,1144.2 807.1,1151.1 804.0,1150.5 799.0,1145.5" fill="#006400"/>
<polygon points="808.4,1152.4 812.8,1152.4 817.8,1158.0 821.5,1155.5 829.0,1158.0 829.0,1164.2 826.5,1165.5 827.8,1170.5 832.1,1171.1 834.0,1179.9 831.5,1180.5 829.0,1174.9 822.8,1174.2 817.8,1169.9 816.5,1164.2 811.5,1159.2 808.4,1156.8" fill="#006400"/>
<polygon points="834.0,1161.1 838.4,1161.1 838.4,1166.8 834.0,1166.8" fill="#006400"/>
<polygon points="915.2,1155.5 924.0,1156.8 925.2,1161.8 941.5,1161.8 940.2,1169.2 934.0,1170.5 935.2,1178.0 946.5,1178.0 940.2,1189.2 934.0,1183.0 932.8,1186.8 921.5,1186.8 916.5,1174.2 919.0,1168.0 911.5,1168.0 910.2,1163.0" fill="url(#gp1)"/>
<polygon points="959.0,1183.6 962.8,1189.2 954.0,1189.9" fill="#006400"/>
<polygon points="912.8,1183.6 919.0,1183.6 919.0,1190.5 912.8,1190.5" fill="#006400"/>
<polygon points="974.0,1075.5 984.0,1076.8 985.2,1083.0 1004.0,1083.0 1004.0,1096.8 991.5,1098.0 985.2,1094.2 971.5,1094.2 971.5,1089.2 980.2,1088.0" fill="url(#gp1)"/>
<polygon points="965.2,1140.5 984.0,1140.5 979.0,1154.2 971.5,1160.5 969.0,1170.5 961.5,1170.5 960.9,1150.5" fill="url(#gp1)"/>
<polygon points="1000.2,1123.0 1035.2,1121.4 1035.2,1123.6 1000.2,1126.1" fill="#006400"/>
<polygon points="986.5,1125.5 997.8,1126.1 992.8,1134.2 986.5,1134.2" fill="#006400"/>
<polygon points="774.0,1188.0 781.5,1199.2 787.8,1208.0 794.0,1219.2 800.2,1226.8 806.5,1233.0 811.5,1241.8 815.2,1250.5 820.2,1256.8 820.2,1259.5 774.0,1259.5" fill="url(#gp1)"/>
<polygon points="830.9,1241.1 835.2,1241.8 839.0,1238.6 842.8,1240.5 842.1,1243.6 839.0,1246.8 830.9,1246.8" fill="#006400"/>
<polygon points="840.2,1198.6 844.6,1198.6 844.6,1200.5 840.2,1200.5" fill="#006400"/>
<polygon points="849.0,1193.0 855.2,1190.5 855.9,1193.0 852.8,1197.4" fill="#006400"/>
<polygon points="862.8,1198.6 865.9,1198.0 863.4,1203.0" fill="#006400"/>
<polygon points="880.2,1114.9 882.1,1114.9 882.1,1118.0 880.2,1118.0" fill="#006400"/>
<polygon points="882.1,1129.2 887.8,1129.2 887.8,1131.8 882.1,1131.8" fill="#006400"/>
<polygon points="866.5,1152.4 869.0,1152.4 869.0,1154.9 866.5,1154.9" fill="#006400"/>
<polygon points="884.0,1154.9 887.8,1154.9 887.8,1158.0 884.0,1158.0" fill="#006400"/>
<polygon points="869.0,1161.1 880.2,1161.1 880.2,1163.6 869.0,1163.6" fill="#006400"/>
<polygon points="885.9,1174.9 889.0,1174.9 889.0,1178.0 885.9,1178.0" fill="#006400"/>
<polygon points="892.8,1186.8 897.1,1186.8 897.1,1189.9 892.8,1189.9" fill="#006400"/>
<polygon points="904.0,1194.9 907.8,1194.9 907.8,1198.0 904.0,1198.0" fill="#006400"/>
<polygon points="911.5,1199.2 915.2,1199.2 915.2,1203.6 911.5,1203.6" fill="#006400"/>
<polygon points="947.8,1252.4 950.2,1252.4 950.2,1256.1 947.8,1256.1" fill="#006400"/>
<polygon points="1041.5,1122.4 1044.0,1122.4 1044.0,1125.5 1041.5,1125.5" fill="#006400"/>
<polygon points="1054.6,1122.4 1057.1,1122.4 1057.1,1125.5 1054.6,1125.5" fill="#006400"/>
<polygon points="774.0,1259.0 826.5,1259.0 829.0,1266.5 839.0,1275.2 844.0,1285.2 850.2,1295.2 854.0,1302.8 851.5,1309.0 849.0,1314.0 839.0,1312.8 834.0,1306.5 824.0,1301.5 816.5,1296.5 815.2,1284.0 804.0,1284.0 792.8,1280.2 796.5,1277.8 792.8,1266.5 786.5,1262.8 774.0,1261.5" fill="url(#gp1)"/>
<polygon points="835.2,1309.0 841.5,1312.8 849.0,1314.0 856.5,1320.2 861.5,1322.8 861.5,1330.2 859.0,1339.0 851.5,1341.5 850.9,1339.0 856.5,1336.5 857.8,1329.0 855.2,1324.0 849.0,1319.0 846.5,1324.0 846.5,1334.0 842.8,1334.0 842.8,1326.5 839.0,1326.5 837.8,1319.0" fill="url(#gp1)"/>
<polygon points="836.5,1350.9 842.8,1348.4 842.1,1353.4 836.5,1354.0" fill="#006400"/>
<polygon points="849.0,1345.2 850.9,1345.2 850.9,1350.9 849.0,1350.9" fill="#006400"/>
<polygon points="842.8,1362.8 850.2,1357.1 850.9,1359.0 844.0,1365.2" fill="#006400"/>
<polygon points="774.0,1369.0 781.5,1369.0 786.5,1372.8 792.8,1374.0 795.2,1370.9 805.2,1372.1 811.5,1371.5 815.2,1369.0 821.5,1369.6 829.0,1365.2 829.0,1372.8 825.2,1376.5 824.0,1380.2 819.0,1382.8 818.4,1390.2 815.2,1390.2 811.5,1384.0 804.0,1384.0 801.5,1389.0 795.2,1386.5 792.8,1392.8 784.0,1392.8 776.5,1389.0 774.0,1390.2" fill="url(#gp1)"/>
<polygon points="810.2,1397.8 814.0,1397.1 817.8,1400.2 820.9,1400.2 820.9,1405.2 818.4,1410.2 812.8,1413.4 808.4,1413.4 810.2,1406.5 807.1,1401.5" fill="#006400"/>
<polygon points="800.9,1391.5 804.6,1391.5 804.6,1396.5 802.1,1395.2" fill="#006400"/>
<polygon points="884.0,1282.1 887.1,1284.0 894.6,1293.4 894.6,1309.0 892.8,1312.8 889.0,1312.8 887.1,1302.8 890.9,1296.5 886.5,1289.0" fill="#006400"/>
<polygon points="913.4,1273.4 914.6,1273.4 915.2,1289.0 918.4,1288.4 916.5,1292.8 912.8,1292.8" fill="#006400"/>
<polygon points="927.8,1272.8 934.0,1270.2 935.2,1278.4 928.4,1279.0" fill="#006400"/>
<polygon points="959.0,1354.0 962.8,1350.9 969.0,1352.1 971.5,1359.0 964.0,1361.5 959.0,1357.8" fill="#006400"/>
<polygon points="981.5,1346.5 990.2,1348.4 990.2,1354.0 995.2,1359.0 996.5,1365.2 989.0,1366.5 986.5,1359.0 980.2,1356.5" fill="#006400"/>
<polygon points="985.2,1371.5 989.0,1371.5 990.2,1384.0 994.0,1406.5 995.9,1413.4 991.5,1413.4 986.5,1396.5 982.8,1384.0" fill="#006400"/>
<polygon points="956.5,1339.0 966.5,1339.0 965.9,1344.0 960.2,1346.5 956.5,1345.2" fill="#006400"/>
<polygon points="995.9,1341.5 1004.0,1341.5 1004.0,1345.2 995.9,1345.2" fill="#006400"/>
<polygon points="1002.8,1347.8 1017.8,1350.9 1017.8,1357.8 1011.5,1359.0 1006.5,1352.8" fill="#006400"/>
<polygon points="1022.1,1367.8 1028.4,1367.8 1028.4,1373.4 1022.1,1373.4" fill="#006400"/>
<polygon points="997.8,1365.2 1012.8,1365.2 1011.5,1370.2 1000.2,1370.2" fill="#006400"/>
<polygon points="1040.2,1302.8 1049.0,1302.1 1047.8,1311.5 1040.2,1312.8" fill="#006400"/>
<polygon points="1052.8,1295.9 1061.5,1295.9 1061.5,1301.5 1052.8,1301.5" fill="#006400"/>
<polygon points="1030.2,1276.5 1034.6,1280.2 1034.6,1284.6 1027.8,1284.0" fill="#006400"/>
<polygon points="1057.1,1327.8 1061.5,1327.8 1061.5,1335.2 1057.1,1335.2" fill="#006400"/>
<polygon points="1057.8,1351.5 1061.5,1351.5 1061.5,1367.8 1057.1,1366.5" fill="#006400"/>
<polygon points="1036.5,1319.0 1039.6,1319.0 1039.6,1324.6 1036.5,1324.6" fill="#006400"/>
<polygon points="1025.9,1339.0 1030.9,1346.5 1028.4,1347.8" fill="#006400"/>
<polygon points="1061.0,1289.0 1068.5,1287.8 1078.5,1289.0 1092.2,1279.0 1097.2,1281.5 1092.2,1289.0 1102.2,1290.2 1108.5,1292.8 1123.5,1282.8 1134.8,1284.0 1136.0,1275.2 1131.0,1266.5 1136.0,1262.8 1141.0,1266.5 1156.0,1265.2 1153.5,1270.2 1157.2,1275.2 1156.0,1281.5 1161.0,1284.0 1157.2,1292.8 1153.5,1297.8 1146.0,1296.5 1141.0,1300.2 1136.0,1300.2 1126.0,1300.2 1123.5,1305.2 1113.5,1309.0 1111.0,1317.8 1113.5,1324.0 1113.5,1330.2 1117.9,1331.5 1117.9,1334.0 1104.8,1334.0 1103.5,1346.5 1098.5,1336.5 1091.0,1334.0 1083.5,1339.0 1077.2,1340.2 1073.5,1341.5 1066.0,1341.5 1061.0,1334.0" fill="url(#gp1)"/>
<polygon points="1163.5,1269.0 1173.5,1266.5 1181.0,1264.0 1186.0,1259.0 1198.5,1259.0 1200.4,1264.0 1191.0,1265.2 1191.0,1269.0 1181.0,1270.2 1178.5,1277.8 1171.0,1275.2 1167.2,1281.5 1161.0,1284.0 1162.2,1274.0" fill="url(#gp1)"/>
<polygon points="1061.0,1351.5 1068.5,1348.4 1073.5,1354.0 1079.8,1359.0 1086.0,1366.5 1092.2,1369.0 1094.1,1381.5 1091.0,1384.0 1087.2,1389.0 1081.0,1380.2 1073.5,1382.8 1068.5,1386.5 1061.0,1390.2 1061.0,1384.0 1071.0,1381.5 1086.0,1379.0 1086.0,1375.2 1078.5,1370.2 1068.5,1366.5 1061.0,1370.2" fill="url(#gp1)"/>
<polygon points="1281.0,1259.0 1306.0,1259.0 1309.8,1265.2 1323.5,1269.0 1336.0,1271.5 1348.5,1266.5 1348.5,1275.2 1336.0,1279.0 1326.0,1277.8 1311.0,1276.5 1298.5,1271.5 1286.0,1266.5" fill="url(#gp1)"/>
<polygon points="1291.0,1271.5 1294.8,1271.5 1303.5,1285.2 1299.8,1287.1 1296.0,1281.5" fill="#006400"/>
<polygon points="1197.2,1422.8 1201.0,1424.0 1207.9,1434.0 1207.9,1439.6 1203.5,1439.6 1202.2,1431.5" fill="#006400"/>
<polygon points="1143.5,1429.0 1153.5,1426.5 1159.8,1429.0 1159.8,1433.4 1148.5,1434.0 1146.0,1436.5 1136.0,1436.5 1136.0,1434.0" fill="#006400"/>
<polygon points="1101.0,1431.5 1109.1,1429.0 1103.5,1439.0 1098.5,1439.0" fill="#006400"/>
<polygon points="1102.9,1346.5 1106.6,1346.5 1106.6,1351.5 1102.9,1351.5" fill="#006400"/>
<polygon points="1099.1,1357.1 1109.1,1357.1 1109.1,1359.0 1099.1,1359.0" fill="#006400"/>
<polygon points="1128.5,1382.8 1132.9,1382.8 1132.9,1387.8 1128.5,1387.8" fill="#006400"/>
<polygon points="1163.5,1387.8 1166.0,1387.8 1166.0,1394.0 1163.5,1394.0" fill="#006400"/>
<polygon points="1091.6,1417.1 1097.9,1417.1 1097.9,1419.6 1091.6,1419.6" fill="#006400"/>
<polygon points="1119.8,1310.9 1122.2,1310.9 1122.2,1315.9 1119.8,1315.9" fill="#006400"/>
<polygon points="1139.1,1298.4 1142.2,1298.4 1142.2,1307.8 1139.1,1307.8" fill="#006400"/>
<polygon points="1174.8,1399.6 1177.2,1399.6 1177.2,1402.8 1174.8,1402.8" fill="#006400"/>
<polygon points="1179.8,1407.8 1182.2,1407.8 1182.2,1410.9 1179.8,1410.9" fill="#006400"/>
<polygon points="1187.2,1414.0 1189.8,1414.0 1189.8,1416.8 1187.2,1416.8" fill="#006400"/>
<polygon points="1157.9,1407.8 1160.4,1407.8 1160.4,1410.9 1157.9,1410.9" fill="#006400"/>
<polygon points="1084.8,1452.8 1087.2,1452.8 1087.2,1460.5 1084.8,1460.5" fill="#006400"/>
<polygon points="1186.0,1259.5 1186.0,1255.5 1198.5,1248.0 1203.5,1241.8 1214.8,1240.5 1221.0,1233.0 1228.5,1233.0 1228.5,1235.5 1256.0,1235.5 1256.0,1233.0 1262.2,1233.0 1263.5,1240.5 1271.0,1244.2 1276.0,1244.2 1283.5,1244.2 1284.8,1255.5 1287.2,1259.5 1273.5,1259.5 1278.5,1249.2 1271.0,1251.8 1263.5,1248.0 1258.5,1243.0 1238.5,1240.5 1223.5,1239.2 1216.0,1245.5 1207.2,1245.5 1208.5,1253.0 1201.0,1259.5" fill="url(#gp1)"/>
<polygon points="1257.9,1253.0 1262.9,1253.0 1262.9,1259.5 1257.9,1259.5" fill="#006400"/>
<polygon points="1112.2,1256.1 1117.9,1256.1 1117.9,1259.5 1112.2,1259.5" fill="#006400"/>
<polygon points="667.0,1265.2 670.1,1265.2 669.5,1274.0 674.5,1275.2 679.5,1270.2 683.2,1265.2 698.2,1265.2 702.0,1272.8 703.2,1291.5 701.4,1302.8 702.0,1315.2 699.5,1324.0 698.2,1334.0 694.5,1334.0 692.0,1330.2 687.0,1334.0 685.8,1341.5 680.1,1345.2 670.8,1341.5 670.1,1334.0 667.0,1334.0 670.1,1321.5 673.2,1314.0 670.1,1306.5 673.2,1290.2 667.0,1286.5 665.1,1279.0 667.0,1274.0" fill="url(#gp1)"/>
<polygon points="582.0,1420.2 587.0,1420.2 590.8,1422.8 607.0,1422.8 607.6,1428.4 598.2,1429.0 594.5,1432.8 587.0,1432.8 585.8,1425.2" fill="#006400"/>
<polygon points="543.2,1429.0 558.2,1423.4 564.5,1425.2 564.5,1429.0 554.5,1431.5 552.0,1436.5 545.1,1436.5" fill="#006400"/>
<polygon points="525.1,1425.9 533.9,1425.9 537.6,1430.2 530.8,1430.2 525.1,1428.4" fill="#006400"/>
<polygon points="633.2,1425.2 642.6,1424.0 645.8,1428.4 633.2,1430.2" fill="#006400"/>
<polygon points="689.5,1406.5 693.9,1406.5 693.9,1414.0 687.0,1413.4" fill="#006400"/>
<polygon points="766.4,1368.4 770.1,1368.4 774.5,1375.2 774.5,1384.0 769.5,1379.0" fill="#006400"/>
<polygon points="505.1,1426.5 510.1,1426.5 510.1,1430.2 505.1,1430.2" fill="#006400"/>
<polygon points="517.0,1425.9 519.5,1425.9 519.5,1429.0 517.0,1429.0" fill="#006400"/>
<polygon points="570.8,1425.9 575.1,1425.9 575.1,1429.0 570.8,1429.0" fill="#006400"/>
<polygon points="652.0,1423.4 655.8,1423.4 655.8,1425.9 652.0,1425.9" fill="#006400"/>
<polygon points="536.4,1442.8 540.1,1442.8 540.1,1445.9 536.4,1445.9" fill="#006400"/>
<polygon points="528.2,1445.2 530.8,1445.2 530.8,1448.4 528.2,1448.4" fill="#006400"/>
<polygon points="636.4,1414.0 638.9,1414.0 638.9,1416.5 636.4,1416.5" fill="#006400"/>
<polygon points="673.9,1417.1 676.4,1417.1 676.4,1419.6 673.9,1419.6" fill="#006400"/>
<polygon points="686.4,1425.9 688.9,1425.9 688.9,1428.4 686.4,1428.4" fill="#006400"/>
<polygon points="750.8,1374.0 753.0,1374.0 753.0,1376.8 750.8,1376.8" fill="#006400"/>
<polygon points="372.5,1279.4 380.6,1279.4 380.0,1285.0 385.0,1285.0 385.0,1291.2 378.8,1292.5 375.0,1295.0 373.8,1288.8 370.0,1287.5" fill="#006400"/>
<polygon points="335.0,1213.1 346.2,1213.1 345.6,1216.2 337.5,1218.8 336.2,1221.2 332.5,1220.6" fill="#006400"/>
<polygon points="328.1,1244.4 330.6,1247.5 329.4,1255.0 327.5,1258.8 325.6,1258.1 326.2,1248.8" fill="#006400"/>
<polygon points="330.0,1262.5 331.2,1266.2 336.9,1267.5 336.9,1270.0 330.0,1269.4 328.1,1266.2" fill="#006400"/>
<polygon points="365.0,1318.8 368.1,1318.8 368.1,1325.0 366.2,1325.0" fill="#006400"/>
<polygon points="325.6,1221.2 330.0,1221.2 330.0,1223.8 325.6,1223.8" fill="#006400"/>
<polygon points="387.5,1230.0 393.8,1230.0 393.8,1232.5 387.5,1232.5" fill="#006400"/>
<polygon points="343.8,1290.0 348.1,1290.0 348.1,1295.6 343.8,1295.6" fill="#006400"/>
<polygon points="341.2,1281.9 343.8,1281.9 343.8,1287.5 341.2,1287.5" fill="#006400"/>
<polygon points="355.0,1296.2 360.6,1296.2 360.6,1301.9 355.0,1301.9" fill="#006400"/>
<polygon points="312.5,1371.2 317.5,1371.2 317.5,1376.9 312.5,1376.9" fill="#006400"/>
<polygon points="332.5,1296.2 338.8,1296.2 338.8,1298.8 332.5,1298.8" fill="#006400"/>
<polygon points="333.1,1273.1 335.0,1273.1 335.0,1275.6 333.1,1275.6" fill="#006400"/>
<polygon points="372.5,1201.2 374.0,1201.2 374.0,1203.8 372.5,1203.8" fill="#006400"/>
<polygon points="321.9,1359.0 323.8,1359.0 323.8,1361.9 321.9,1361.9" fill="#006400"/>
<polygon points="345.6,1371.2 347.9,1371.2 347.9,1373.8 345.6,1373.8" fill="#006400"/>
<polygon points="367.5,1296.2 370.0,1296.2 370.0,1298.8 367.5,1298.8" fill="#006400"/>
<polygon points="378.8,1241.2 381.0,1241.2 381.0,1243.8 378.8,1243.8" fill="#006400"/>
<polygon points="361.2,1417.2 366.2,1407.2 373.8,1407.2 380.0,1418.5 377.5,1424.8 361.2,1424.8" fill="#006400"/>
<polygon points="390.0,1491.6 395.6,1491.6 395.6,1494.8 390.0,1494.8" fill="#006400"/>
<polygon points="398.1,1489.1 400.0,1489.1 400.0,1491.6 398.1,1491.6" fill="#006400"/>
<polygon points="446.9,1472.0 450.6,1472.0 450.6,1474.8 446.9,1474.8" fill="#006400"/>
<polygon points="371.9,1521.0 376.2,1521.0 376.2,1523.8 371.9,1523.8" fill="#006400"/>
<polygon points="320.0,1391.0 321.9,1391.0 321.9,1393.5 320.0,1393.5" fill="#006400"/>
<polygon points="328.1,1391.0 330.0,1391.0 330.0,1393.5 328.1,1393.5" fill="#006400"/>
<polygon points="436.0,1382.9 437.9,1382.9 437.9,1384.8 436.0,1384.8" fill="#006400"/>
<polygon points="414.0,1400.0 415.9,1400.0 415.9,1402.5 414.0,1402.5" fill="#006400"/>
<polygon points="715.0,692.5 721.2,692.5 720.0,698.8 720.0,710.0 715.0,720.0 715.0,730.0 726.2,732.5 728.8,736.2 726.2,745.0 720.0,747.5 713.8,746.2 712.5,757.5 705.0,762.5 705.0,768.8 698.8,780.0 695.0,777.5 692.5,771.2 692.5,761.2 690.0,756.2 692.5,750.0 682.5,751.2 677.5,748.8 671.2,753.8 671.2,762.5 668.1,762.5 667.5,741.2 670.0,732.5 675.0,722.5 677.5,715.0 683.8,712.5 696.2,710.0 698.8,706.2 702.5,698.8 711.2,695.0" fill="url(#gp1)"/>
<polygon points="726.2,706.2 733.1,706.2 730.0,711.2 726.2,711.2" fill="#006400"/>
<polygon points="711.2,631.2 717.5,631.2 720.0,637.5 715.0,641.2 710.0,650.0 705.0,651.2 707.5,642.5 710.0,636.2" fill="#006400"/>
<polygon points="722.5,633.8 726.2,635.0 734.4,637.5 734.4,642.5 727.5,641.9 722.5,637.5" fill="#006400"/>
<polygon points="733.8,660.0 737.5,660.6 740.0,667.5 743.8,667.5 748.8,672.5 748.8,682.5 752.5,690.0 755.0,700.0 763.8,715.0 772.5,730.0 776.9,732.5 776.2,737.5 770.0,737.5 765.0,731.2 758.8,721.2 752.5,710.0 748.8,703.8 742.5,695.0 740.0,687.5 740.0,680.0 736.2,673.8 735.0,667.5" fill="url(#gp1)"/>
<polygon points="755.0,663.8 762.5,657.5 765.0,662.5 775.0,658.8 781.2,661.2 790.0,655.0 800.0,655.0 801.2,667.5 798.8,675.0 792.5,677.5 787.5,673.8 782.5,677.5 778.8,676.2 767.5,676.2 762.5,671.2 757.5,675.0 758.8,668.8" fill="url(#gp1)"/>
<polygon points="807.5,675.0 812.5,670.0 820.0,670.0 832.5,667.5 837.5,662.5 842.5,660.0 853.8,660.0 857.5,667.5 850.0,668.8 840.0,670.0 838.8,675.0 832.5,676.2 827.5,672.5 817.5,673.8 811.2,676.2" fill="url(#gp1)"/>
<polygon points="813.8,640.0 820.0,631.2 827.5,631.2 831.2,637.5 830.0,645.0 820.0,648.8 813.8,648.8" fill="#006400"/>
<polygon points="835.0,628.8 842.5,628.8 840.0,636.2 836.2,636.2" fill="#006400"/>
<polygon points="840.0,632.5 852.5,628.8 858.8,623.1 880.0,623.1 879.4,630.0 872.5,631.2 871.2,641.2 866.2,640.0 866.2,637.5 857.5,636.2 845.0,637.5 840.0,640.0" fill="url(#gp1)"/>
<polygon points="748.8,749.4 755.0,746.2 760.0,747.5 763.8,741.2 766.2,741.2 768.8,750.0 766.2,757.5 762.5,752.5 758.8,760.0 755.0,760.0 755.0,755.0 748.8,757.5" fill="#006400"/>
<polygon points="768.8,740.0 772.5,741.2 777.5,748.8 783.8,753.8 790.0,755.0 793.8,761.2 802.5,763.8 802.5,768.8 781.2,769.4 781.2,761.2 777.5,756.2 772.5,755.0 772.5,750.0 767.5,745.0" fill="url(#gp1)"/>
<polygon points="765.0,733.8 772.5,732.5 776.9,733.1 776.2,737.5 770.0,737.5 766.2,741.2 762.5,741.2" fill="#006400"/>
<polygon points="812.5,778.1 818.8,778.1 820.6,782.5 815.0,783.8 812.5,786.2" fill="#006400"/>
<polygon points="877.5,793.1 895.0,793.1 897.5,801.5 876.2,801.5" fill="#006400"/>
<polygon points="698.1,640.0 700.0,640.0 700.0,645.0 698.1,645.0" fill="#006400"/>
<polygon points="720.0,626.9 723.8,626.9 723.8,630.0 720.0,630.0" fill="#006400"/>
<polygon points="833.8,646.2 837.5,646.2 837.5,648.8 833.8,648.8" fill="#006400"/>
<polygon points="825.0,656.9 826.9,656.9 826.9,659.4 825.0,659.4" fill="#006400"/>
<polygon points="811.9,682.5 816.2,682.5 816.2,685.6 811.9,685.6" fill="#006400"/>
<polygon points="843.1,686.2 845.0,686.2 845.0,688.8 843.1,688.8" fill="#006400"/>
<polygon points="811.9,720.6 816.2,720.6 816.2,722.5 811.9,722.5" fill="#006400"/>
<polygon points="813.8,726.2 816.0,726.2 816.0,729.4 813.8,729.4" fill="#006400"/>
<polygon points="823.1,743.8 831.9,743.8 831.9,745.6 823.1,745.6" fill="#006400"/>
<polygon points="753.1,676.9 754.8,676.9 754.8,685.6 753.1,685.6" fill="#006400"/>
<polygon points="877.5,793.1 895.0,793.1 897.5,805.0 901.2,810.0 901.2,827.5 900.0,835.0 892.5,840.0 890.0,848.8 882.5,850.0 881.2,842.5 885.0,836.2 891.2,835.0 893.8,827.5 887.5,820.0 891.2,815.0 888.8,807.5 885.0,803.8 875.0,803.8 872.5,807.5 865.0,806.2 866.2,798.8 875.0,798.8" fill="url(#gp1)"/>
<polygon points="850.0,801.2 853.8,801.2 853.8,805.0 861.2,805.0 861.2,810.0 853.8,810.0 851.2,815.0 850.0,830.0 842.5,835.0 837.5,838.8 830.0,838.8 825.0,842.5 821.2,840.0 821.2,835.0 825.0,830.0 832.5,826.2 832.5,813.8 845.0,812.5 846.2,810.0 850.0,807.5" fill="url(#gp1)"/>
<polygon points="847.5,867.5 851.2,867.5 851.2,872.5 840.0,872.5 840.0,870.0 847.5,870.0" fill="#006400"/>
<polygon points="766.2,810.0 772.5,810.0 775.0,815.6 766.2,815.6" fill="#006400"/>
<polygon points="759.4,816.2 763.8,816.2 763.8,820.6 761.2,820.6" fill="#006400"/>
<polygon points="925.6,795.0 927.8,795.0 927.8,806.9 925.6,806.9" fill="#006400"/>
<polygon points="1202.8,1477.5 1207.8,1470.0 1214.0,1472.5 1221.5,1477.5 1222.8,1483.8 1214.0,1487.5 1205.2,1487.5" fill="#006400"/>
<polygon points="1099.0,1435.0 1107.8,1428.8 1109.0,1432.5 1101.5,1440.0" fill="#006400"/>
<polygon points="1085.2,1447.5 1087.8,1447.5 1087.8,1460.0 1085.2,1460.0" fill="#006400"/>
<polygon points="1010.2,1466.2 1014.0,1466.2 1014.0,1470.0 1010.2,1470.0" fill="#006400"/>
<polygon points="1020.2,1466.2 1024.0,1466.2 1024.0,1471.2 1020.2,1471.2" fill="#006400"/>
<polygon points="1342.5,1266.2 1357.5,1265.0 1375.0,1273.8 1375.0,1278.8 1357.5,1271.2 1342.5,1272.5" fill="#006400"/>
<polygon points="405.0,1227.5 410.0,1230.0 417.5,1235.0 417.5,1241.2 432.5,1240.0 432.5,1252.5 417.5,1252.5 417.5,1261.2 430.0,1265.0 427.5,1270.0 417.5,1275.0 405.0,1276.2 400.0,1283.8 390.0,1287.5 385.0,1283.8 390.0,1275.0 395.0,1267.5 387.5,1262.5 385.0,1255.0 387.5,1247.5 400.0,1245.0 405.0,1238.8 403.1,1233.8" fill="url(#gp2)"/>
<polygon points="639.5,1076.8 647.0,1071.8 654.5,1073.0 659.5,1065.5 667.0,1063.0 672.0,1066.8 668.2,1071.8 677.0,1070.5 677.0,1095.5 673.2,1100.5 672.0,1110.5 675.8,1118.0 677.0,1133.0 673.2,1138.0 659.5,1138.0 648.2,1139.2 644.5,1148.0 648.2,1158.0 662.0,1158.0 655.8,1165.5 649.5,1169.2 643.2,1166.8 632.0,1166.8 630.8,1158.0 619.5,1156.8 613.2,1143.0 619.5,1133.0 613.2,1130.5 615.8,1120.5 622.0,1113.0 630.8,1108.0 634.5,1095.5 638.2,1094.2 637.0,1086.8" fill="url(#gp2)"/>
<polygon points="654.5,1058.0 694.5,1058.0 694.5,1099.2 674.5,1100.5 654.5,1083.0" fill="url(#gp2)"/>
<polygon points="692.0,1198.0 695.8,1198.0 695.8,1215.5 698.2,1218.0 697.6,1233.0 694.5,1238.0 692.0,1249.2 690.8,1259.5 682.0,1259.5 679.5,1248.0 677.0,1235.5 674.5,1230.5 675.8,1218.0 680.8,1213.0 687.0,1209.2 692.0,1204.2" fill="url(#gp2)"/>
<polygon points="665.8,991.4 673.2,991.4 668.2,1002.0 664.5,1014.5 662.0,1024.5 659.5,1034.5 658.2,1044.5 653.2,1048.2 647.0,1044.5 645.8,1034.5 648.2,1022.0 652.0,1012.0 657.0,999.5" fill="url(#gp2)"/>
<polygon points="727.0,896.4 737.0,899.5 742.0,908.2 740.8,918.9 737.0,918.2 732.0,909.5 723.9,912.0 723.9,905.8 729.5,904.5" fill="url(#gp2)"/>
<polygon points="708.9,925.1 715.8,925.1 719.5,937.0 719.5,942.0 715.8,941.4 712.0,933.9 708.9,933.2" fill="url(#gp2)"/>
<polygon points="729.5,1023.2 762.0,1023.2 762.0,1034.5 747.0,1032.0 735.8,1025.8" fill="url(#gp2)"/>
<polygon points="801.5,899.5 810.2,897.0 809.6,902.0 804.0,907.0 803.4,912.0 799.0,912.0" fill="url(#gp2)"/>
<polygon points="794.0,974.5 799.0,963.2 802.8,969.5 815.2,964.5 820.2,962.0 831.5,964.5 835.9,962.6 834.0,972.0 836.5,977.0 844.0,975.8 849.0,972.0 854.0,979.5 864.0,980.8 861.5,984.5 851.5,984.5 844.0,989.5 839.0,992.0 839.0,1002.0 832.8,1007.0 829.0,1019.5 829.0,1024.5 841.5,1022.0 844.0,1014.5 847.1,1019.5 844.0,1029.5 842.8,1035.8 852.8,1040.8 849.0,1050.8 844.0,1054.5 836.5,1052.0 841.5,1042.0 837.8,1029.5 811.5,1031.4 810.2,1029.5 825.2,1025.8 825.2,1020.8 818.4,1020.8 825.2,1015.8 826.5,1003.2 821.5,1002.0 825.2,992.0 829.0,988.2 832.8,982.0 829.0,980.8 824.0,974.5 820.2,979.5 815.2,972.0 816.5,982.0 820.2,987.0 814.0,998.2 810.2,998.2 804.0,989.5 796.5,984.5 794.0,977.0" fill="url(#gp2)"/>
<polygon points="875.2,980.1 880.2,983.2 884.0,989.5 894.0,985.1 902.1,985.1 894.0,989.5 894.0,993.2 886.5,995.8 891.5,1000.8 894.0,1007.0 884.0,1008.2 880.2,998.2 876.5,1007.0 869.0,1010.8 866.5,1020.8 864.0,1022.0 864.0,1008.2 870.2,1003.2 869.0,1000.8 879.0,999.5 879.0,992.0 874.0,987.0" fill="url(#gp2)"/>
<polygon points="847.8,857.0 866.5,857.0 865.2,863.2 859.0,863.2 854.0,862.0 849.0,860.8" fill="url(#gp2)"/>
<polygon points="894.0,1158.0 899.0,1155.5 904.0,1158.0 915.2,1154.2 922.8,1152.4 925.2,1160.5 936.5,1160.5 940.2,1155.5 942.8,1161.8 941.5,1168.0 949.0,1164.2 954.0,1164.2 952.8,1174.2 946.5,1178.0 947.8,1189.2 939.0,1190.5 934.0,1183.0 934.0,1191.8 924.0,1193.0 915.2,1190.5 907.8,1186.8 907.8,1178.0 900.2,1176.8 899.0,1170.5 894.0,1174.2 891.5,1168.0 897.8,1165.5" fill="url(#gp2)"/>
<polygon points="980.2,1058.0 995.2,1058.0 1002.8,1063.0 1002.8,1074.2 1006.5,1080.5 1006.5,1088.0 1002.8,1098.0 991.5,1099.2 991.5,1113.0 986.5,1118.0 991.5,1121.8 997.8,1126.1 992.8,1134.2 989.0,1140.5 982.8,1145.5 979.0,1154.2 971.5,1160.5 969.0,1170.5 966.5,1178.0 962.8,1173.0 960.9,1164.2 960.9,1150.5 965.2,1140.5 962.8,1138.0 962.8,1121.8 967.8,1115.5 974.0,1115.5 976.5,1113.0 974.0,1106.8 979.0,1100.5 971.5,1094.2 965.2,1094.2 965.2,1089.2 979.0,1088.0 979.0,1083.0 974.0,1075.5 981.5,1076.8 982.8,1065.5" fill="url(#gp2)"/>
<polygon points="997.8,1201.1 1004.0,1193.0 1007.8,1201.8 1012.8,1204.2 1021.5,1203.6 1029.0,1204.2 1029.0,1216.8 1025.2,1218.0 1022.8,1210.5 1015.2,1215.5 1012.8,1218.0 1012.8,1208.0 1006.5,1206.8 1000.2,1204.9" fill="url(#gp2)"/>
<polygon points="854.0,1058.0 880.2,1058.0 874.0,1064.2 866.5,1068.0 864.0,1063.0 854.0,1062.4" fill="url(#gp2)"/>
<polygon points="832.1,1365.2 841.5,1364.6 842.1,1374.0 839.0,1376.5 832.1,1373.4" fill="url(#gp2)"/>
<polygon points="864.0,1273.4 869.0,1273.4 872.8,1280.2 872.8,1284.6 864.0,1284.6 862.1,1279.0" fill="url(#gp2)"/>
<polygon points="937.8,1267.1 941.5,1259.0 946.5,1259.0 947.1,1267.1 950.9,1273.4 949.0,1278.4 947.1,1272.8 944.0,1275.2 942.8,1269.6 937.8,1269.6" fill="url(#gp2)"/>
<polygon points="971.5,1334.0 979.0,1335.2 985.2,1334.0 990.9,1335.2 990.2,1341.5 980.2,1342.1 980.2,1345.2 990.2,1348.4 990.2,1354.0 995.2,1359.0 996.5,1365.2 1002.8,1365.2 1012.8,1365.2 1011.5,1370.2 1002.8,1370.2 999.0,1374.0 992.8,1374.0 989.0,1371.5 989.0,1379.0 996.5,1381.5 1001.5,1387.8 1001.5,1390.2 996.5,1393.4 991.5,1385.2 989.0,1392.8 994.0,1406.5 995.9,1413.4 991.5,1413.4 986.5,1400.2 981.5,1396.5 981.5,1406.5 979.0,1402.8 972.8,1402.8 972.8,1391.5 967.1,1389.0 974.0,1387.8 974.0,1381.5 967.8,1384.0 965.2,1379.0 965.2,1369.0 969.0,1365.2 969.0,1360.2 959.0,1357.8 959.0,1354.0 962.8,1350.9 969.0,1352.1 971.5,1355.2 979.0,1354.0 980.2,1346.5 970.9,1344.0 970.9,1339.0" fill="url(#gp2)"/>
<polygon points="1050.2,1267.8 1061.5,1267.8 1061.5,1275.2 1050.2,1275.2" fill="url(#gp2)"/>
<polygon points="1104.8,1259.0 1127.2,1259.0 1126.0,1264.0 1116.0,1266.5 1111.0,1265.2" fill="url(#gp2)"/>
<polygon points="1258.5,1259.0 1281.0,1259.0 1281.0,1261.8 1258.5,1261.8" fill="url(#gp2)"/>
<polygon points="1129.1,1417.1 1136.0,1420.2 1136.0,1430.2 1129.1,1430.2" fill="url(#gp2)"/>
<polygon points="655.8,1431.5 662.0,1425.2 665.8,1420.2 667.0,1427.8 673.9,1429.0 673.9,1433.4 662.0,1435.9" fill="url(#gp2)"/>
<polygon points="385.0,1250.0 391.2,1247.5 392.5,1255.0 400.0,1256.2 400.0,1243.8 410.0,1243.8 412.5,1255.0 405.0,1261.2 400.0,1270.0 400.0,1277.5 395.0,1287.5 390.0,1287.5 385.0,1282.5 388.8,1275.0 393.8,1275.0 393.8,1267.5 390.0,1265.0 387.5,1262.5 391.2,1257.5 385.0,1255.0" fill="url(#gp2)"/>
<polygon points="366.2,1406.0 372.5,1406.0 377.5,1411.0 385.0,1407.2 402.5,1407.9 413.8,1411.0 413.8,1416.0 400.0,1416.6 390.0,1416.6 385.0,1422.2 380.0,1426.0 372.5,1428.5 361.2,1428.5 358.8,1421.0 362.5,1416.0" fill="url(#gp2)"/>
<polygon points="378.8,1472.2 381.2,1472.2 381.2,1479.8 385.0,1482.2 385.0,1472.2 387.5,1472.2 391.2,1477.2 391.9,1484.8 387.5,1488.5 387.5,1494.1 386.2,1494.1 385.0,1487.2 380.0,1484.8 378.8,1479.8" fill="url(#gp2)"/>
<polygon points="763.8,650.0 767.5,643.1 775.0,643.1 777.5,650.0 775.0,652.5 772.5,647.5 767.5,648.8" fill="url(#gp2)"/>
<polygon points="775.0,634.0 796.2,634.0 796.2,636.5 775.0,636.5" fill="url(#gp2)"/>
<polygon points="796.9,643.1 800.6,643.1 800.6,656.2 797.8,656.2" fill="url(#gp2)"/>
<polygon points="797.5,675.0 800.6,677.5 802.5,680.0 805.0,680.0 806.2,685.0 801.2,686.2 800.0,692.5 796.9,693.8 797.5,683.8" fill="url(#gp2)"/>
<polygon points="815.0,660.0 816.2,662.5 827.5,663.1 828.8,667.5 815.0,668.8" fill="url(#gp2)"/>
<polygon points="846.2,643.8 857.5,642.5 871.2,643.8 870.0,652.5 861.2,656.2 851.2,655.0 847.5,650.0" fill="url(#gp2)"/>
<polygon points="788.1,743.8 793.8,745.0 798.8,743.8 801.2,746.2 807.5,745.0 813.8,744.4 813.8,748.1 806.2,751.2 802.5,755.0 800.0,761.2 793.8,760.0 791.2,753.8 788.8,750.0" fill="url(#gp2)"/>
<polygon points="718.1,775.0 723.8,775.0 723.8,786.2 720.0,786.2" fill="url(#gp2)"/>
<polygon points="903.8,821.2 907.5,821.2 910.0,825.0 916.9,821.2 916.9,826.2 912.5,827.5 907.5,835.0 905.0,842.5 900.0,842.5 900.0,835.0 902.5,830.0" fill="url(#gp2)"/>
<polygon points="842.5,843.8 850.0,841.2 865.0,841.2 868.8,853.8 866.2,862.5 851.2,863.8 847.5,860.0 850.0,852.5 843.8,847.5" fill="url(#gp2)"/>
<polygon points="505.0,1208.8 517.5,1210.0 530.0,1216.2 527.5,1217.5 515.0,1217.5 503.8,1216.2" fill="url(#gp3)"/>
<polygon points="715.8,987.6 737.0,987.6 747.0,989.5 768.2,992.0 768.2,997.0 755.8,1007.0 737.0,1017.0 724.5,1023.2 702.0,1024.5 703.2,1014.5 713.2,1007.0 713.2,994.5" fill="url(#gp3)"/>
<polygon points="829.0,1048.2 864.0,1045.8 866.5,1058.5 829.0,1058.5" fill="url(#gp3)"/>
<polygon points="1004.0,1054.5 1017.8,1047.0 1031.5,1052.0 1032.8,1058.5 980.2,1058.5" fill="url(#gp3)"/>
<polygon points="829.0,882.6 834.0,882.0 836.5,892.6 834.0,892.6 829.6,887.0" fill="url(#gp3)"/>
<polygon points="807.8,1060.5 819.0,1060.5 819.0,1071.8 809.0,1071.8" fill="url(#gp3)"/>
<polygon points="1001.5,1103.0 1012.8,1103.0 1017.8,1108.0 1027.8,1111.8 1026.5,1120.5 1036.5,1121.8 1036.5,1124.2 1000.2,1126.1 994.0,1116.8 997.8,1108.0" fill="url(#gp3)"/>
<polygon points="979.6,1177.4 982.8,1177.4 997.8,1192.4 994.6,1193.6" fill="url(#gp3)"/>
<polygon points="859.0,1069.2 866.5,1076.8 875.2,1080.5 892.8,1089.2 886.5,1094.2 874.0,1094.2 866.5,1085.5 859.0,1074.2" fill="url(#gp3)"/>
<polygon points="854.0,1273.4 860.2,1273.4 860.2,1285.2 854.0,1285.2" fill="url(#gp3)"/>
<polygon points="1004.0,1285.2 1009.0,1285.2 1024.0,1296.5 1022.8,1300.2 1011.5,1300.2 1004.0,1292.8" fill="url(#gp3)"/>
<polygon points="612.0,1424.0 625.8,1422.8 625.8,1430.2 612.0,1429.0" fill="url(#gp3)"/>
<polygon points="737.5,757.5 750.0,765.0 750.6,780.0 740.0,775.0 736.9,766.2" fill="url(#gp3)"/>
<polygon points="707.5,766.2 716.2,766.2 716.2,775.0 707.5,775.0" fill="url(#gp3)"/>
<polygon points="816.2,836.2 832.5,840.0 831.2,850.0 817.5,846.2" fill="url(#gp3)"/>
<polygon points="872.5,843.8 881.2,843.8 881.2,857.5 872.5,857.5" fill="url(#gp3)"/>
<polygon points="761.2,827.5 775.0,830.0 783.8,841.2 783.8,847.5 772.5,848.8 757.5,843.8" fill="url(#gp3)"/>
<polygon points="806.9,853.1 825.0,853.1 825.0,856.2 808.8,861.2 806.9,861.2" fill="url(#gp3)"/>
<polygon points="548.2,1154.2 564.5,1153.0 567.0,1158.0 562.0,1165.5 549.5,1164.2" fill="#D3D3D3"/>
<polygon points="539.5,1170.5 549.5,1175.5 547.0,1183.0 537.0,1183.0" fill="#D3D3D3"/>
<polygon points="590.8,1160.5 598.2,1160.5 597.0,1171.8 590.8,1170.5" fill="#D3D3D3"/>
<polygon points="603.2,1158.0 612.0,1155.5 614.5,1163.0 607.0,1165.5" fill="#D3D3D3"/>
<polygon points="702.0,1074.2 712.0,1070.5 714.5,1076.8 709.5,1084.2 702.0,1081.8" fill="#D3D3D3"/>
<polygon points="682.0,1071.8 689.5,1070.5 692.0,1083.0 684.5,1080.5" fill="#D3D3D3"/>
<polygon points="735.8,1079.2 742.0,1079.2 740.8,1085.5 735.8,1084.9" fill="#D3D3D3"/>
<polygon points="725.8,1170.5 732.0,1169.2 735.8,1178.0 729.5,1183.0" fill="#D3D3D3"/>
<polygon points="743.2,1190.5 753.2,1195.5 755.8,1208.0 748.2,1203.0" fill="#D3D3D3"/>
<polygon points="759.5,1205.5 765.8,1208.0 768.2,1219.2 762.0,1216.8" fill="#D3D3D3"/>
<polygon points="717.0,1156.8 724.5,1159.2 725.8,1164.2 719.5,1161.8" fill="#D3D3D3"/>
<polygon points="890.2,935.8 907.8,938.2 906.5,943.2 894.0,944.5" fill="#D3D3D3"/>
<polygon points="891.5,948.2 902.8,948.2 901.5,953.2 892.8,953.2" fill="#D3D3D3"/>
<polygon points="874.0,917.0 882.8,917.0 881.5,922.0 875.2,922.0" fill="#D3D3D3"/>
<polygon points="777.8,1233.0 787.8,1231.8 790.2,1238.0 781.5,1240.5" fill="#D3D3D3"/>
<polygon points="776.5,1249.2 784.0,1248.0 787.8,1255.5 779.0,1256.8" fill="#D3D3D3"/>
<polygon points="792.8,1241.8 799.0,1233.0 800.2,1243.0 795.2,1249.2" fill="#D3D3D3"/>
<polygon points="834.0,1287.8 842.8,1289.0 841.5,1299.0 834.0,1299.0" fill="#D3D3D3"/>
<polygon points="824.0,1289.0 830.2,1290.2 829.0,1296.5 824.0,1295.2" fill="#D3D3D3"/>
<polygon points="805.2,1375.2 817.8,1374.0 816.5,1379.0 806.5,1380.2" fill="#D3D3D3"/>
<polygon points="1073.5,1310.2 1091.0,1311.5 1091.0,1317.8 1074.8,1317.8" fill="#D3D3D3"/>
<polygon points="1101.0,1316.5 1111.0,1316.5 1111.0,1324.0 1102.2,1324.0" fill="#D3D3D3"/>
<polygon points="1081.0,1321.5 1089.8,1321.5 1088.5,1329.0 1081.0,1329.0" fill="#D3D3D3"/>
<polygon points="687.0,1300.2 694.5,1299.0 695.8,1309.0 692.0,1310.2 688.2,1305.2" fill="#D3D3D3"/>
<polygon points="681.4,1317.8 685.8,1316.5 687.0,1329.0 683.2,1329.0" fill="#D3D3D3"/>
<polygon points="675.8,1292.8 679.5,1292.8 678.9,1299.0 675.8,1299.0" fill="#D3D3D3"/>
<polygon points="696.2,726.2 700.0,726.2 700.0,737.5 696.2,736.2" fill="#D3D3D3"/>
<polygon points="700.0,738.8 707.5,740.0 706.2,746.2 700.0,745.0" fill="#D3D3D3"/>
<polygon points="692.5,748.8 697.5,748.1 696.9,751.9 692.5,751.9" fill="#D3D3D3"/>
<polygon points="695.0,757.5 702.5,757.5 702.5,761.2 695.0,761.2" fill="#D3D3D3"/>
<polygon points="657.0,1079.2 667.0,1075.5 674.5,1076.8 667.0,1083.0 659.5,1083.0" fill="#fff"/>
<polygon points="647.0,1095.5 659.5,1094.2 662.0,1098.0 649.5,1099.9" fill="#fff"/>
<polygon points="722.0,1065.5 729.5,1065.5 730.8,1071.1 723.2,1071.8" fill="#fff"/>
<polygon points="1070.4,1322.1 1078.5,1322.1 1076.0,1329.0 1070.4,1329.0" fill="#fff"/>
<polygon points="683.8,720.0 688.1,717.5 688.8,720.0 684.4,725.0" fill="#fff"/>
<polygon points="317.2,181.5 228.5,342 316.8,271.5" fill="#fff" stroke="#000" stroke-width="3.0" stroke-linejoin="round"/>
<polygon points="317.2,181.5 406.8,342 316.8,271.5" fill="#000" stroke="#000" stroke-width="2.6" stroke-linejoin="round"/>
<text x="316.8" y="360" font-size="50" text-anchor="middle" fill="#000">N</text>
<rect x="228.8" y="1692.5" width="255" height="29" fill="#fff" stroke="#000" stroke-width="2.6" stroke-linejoin="round"/>
<rect x="228.8" y="1692.5" width="65" height="29" fill="#000"/>
<rect x="355" y="1692.5" width="66.3" height="29" fill="#000"/>
<text x="502.5" y="1728.9" font-size="59.6" fill="#000">800 km</text>
</g>
<rect x="200.4" y="154.0" width="1280.5" height="1596.6999999999998" fill="none" stroke="#333" stroke-width="2.2"/>
<line x1="265.0" x2="265.0" y1="1751.8" y2="1763.3" stroke="#333" stroke-width="4.4"/>
<text transform="translate(265.0,1798.2) scale(0.965,1)" font-size="36.5" text-anchor="middle" fill="#4D4D4D">10°W</text>
<line x1="486.0" x2="486.0" y1="1751.8" y2="1763.3" stroke="#333" stroke-width="4.4"/>
<text transform="translate(486.0,1798.2) scale(0.965,1)" font-size="36.5" text-anchor="middle" fill="#4D4D4D">0°</text>
<line x1="707.0" x2="707.0" y1="1751.8" y2="1763.3" stroke="#333" stroke-width="4.4"/>
<text transform="translate(707.0,1798.2) scale(0.965,1)" font-size="36.5" text-anchor="middle" fill="#4D4D4D">10°E</text>
<line x1="928.0" x2="928.0" y1="1751.8" y2="1763.3" stroke="#333" stroke-width="4.4"/>
<text transform="translate(928.0,1798.2) scale(0.965,1)" font-size="36.5" text-anchor="middle" fill="#4D4D4D">20°E</text>
<line x1="1149.0" x2="1149.0" y1="1751.8" y2="1763.3" stroke="#333" stroke-width="4.4"/>
<text transform="translate(1149.0,1798.2) scale(0.965,1)" font-size="36.5" text-anchor="middle" fill="#4D4D4D">30°E</text>
<line x1="1370.0" x2="1370.0" y1="1751.8" y2="1763.3" stroke="#333" stroke-width="4.4"/>
<text transform="translate(1370.0,1798.2) scale(0.965,1)" font-size="36.5" text-anchor="middle" fill="#4D4D4D">40°E</text>
<line y1="1650.0" y2="1650.0" x1="187.8" x2="199.3" stroke="#333" stroke-width="4.4"/>
<text transform="translate(178.8,1663.3) scale(0.975,1)" font-size="36.5" text-anchor="end" fill="#4D4D4D">30°N</text>
<line y1="1304.7" y2="1304.7" x1="187.8" x2="199.3" stroke="#333" stroke-width="4.4"/>
<text transform="translate(178.8,1318.0) scale(0.975,1)" font-size="36.5" text-anchor="end" fill="#4D4D4D">40°N</text>
<line y1="959.4" y2="959.4" x1="187.8" x2="199.3" stroke="#333" stroke-width="4.4"/>
<text transform="translate(178.8,972.7) scale(0.975,1)" font-size="36.5" text-anchor="end" fill="#4D4D4D">50°N</text>
<line y1="614.1" y2="614.1" x1="187.8" x2="199.3" stroke="#333" stroke-width="4.4"/>
<text transform="translate(178.8,627.4) scale(0.975,1)" font-size="36.5" text-anchor="end" fill="#4D4D4D">60°N</text>
<line y1="268.8" y2="268.8" x1="187.8" x2="199.3" stroke="#333" stroke-width="4.4"/>
<text transform="translate(178.8,282.1) scale(0.975,1)" font-size="36.5" text-anchor="end" fill="#4D4D4D">70°N</text>
<text x="840.5" y="119.1" font-size="55" text-anchor="middle" fill="#000">Priority map</text>
<text x="840.8" y="1848.7" font-size="45.83" text-anchor="middle" fill="#000">Longitude</text>
<text transform="translate(78.1,953) rotate(-90)" font-size="45.83" text-anchor="middle" fill="#000">Latitude</text>
<text x="390.5" y="1989" font-size="74" font-weight="bold" fill="#000">rank</text>
<rect x="571.8" y="1927.1" width="69.6" height="69.9" fill="#D3D3D3"/>
<text x="665" y="1982" font-size="58.33" fill="#000">other areas</text>
<rect x="983.8" y="1927.1" width="70" height="69.9" fill="#006400"/>
<text x="1078" y="1982" font-size="58.33" fill="#000">top 10%</text>
<defs><clipPath id="fclip"><rect x="1672.0" y="153.2" width="1281.8000000000002" height="686.4000000000001"/></clipPath></defs>
<g clip-path="url(#fclip)">
<line x1="1876.0" x2="1876.0" y1="153.2" y2="839.6" stroke="#EBEBEB" stroke-width="2.2"/>
<line y1="730.4" y2="730.4" x1="1672.0" x2="2953.8" stroke="#EBEBEB" stroke-width="2.2"/>
<line x1="2167.4" x2="2167.4" y1="153.2" y2="839.6" stroke="#EBEBEB" stroke-width="2.2"/>
<line y1="574.3" y2="574.3" x1="1672.0" x2="2953.8" stroke="#EBEBEB" stroke-width="2.2"/>
<line x1="2458.8" x2="2458.8" y1="153.2" y2="839.6" stroke="#EBEBEB" stroke-width="2.2"/>
<line y1="418.3" y2="418.3" x1="1672.0" x2="2953.8" stroke="#EBEBEB" stroke-width="2.2"/>
<line x1="2750.2" x2="2750.2" y1="153.2" y2="839.6" stroke="#EBEBEB" stroke-width="2.2"/>
<line y1="262.2" y2="262.2" x1="1672.0" x2="2953.8" stroke="#EBEBEB" stroke-width="2.2"/>
<line x1="1730.3" x2="1730.3" y1="153.2" y2="839.6" stroke="#EBEBEB" stroke-width="4.4"/>
<line y1="808.4" y2="808.4" x1="1672.0" x2="2953.8" stroke="#EBEBEB" stroke-width="4.4"/>
<line x1="2021.7" x2="2021.7" y1="153.2" y2="839.6" stroke="#EBEBEB" stroke-width="4.4"/>
<line y1="652.3" y2="652.3" x1="1672.0" x2="2953.8" stroke="#EBEBEB" stroke-width="4.4"/>
<line x1="2313.1" x2="2313.1" y1="153.2" y2="839.6" stroke="#EBEBEB" stroke-width="4.4"/>
<line y1="496.3" y2="496.3" x1="1672.0" x2="2953.8" stroke="#EBEBEB" stroke-width="4.4"/>
<line x1="2604.5" x2="2604.5" y1="153.2" y2="839.6" stroke="#EBEBEB" stroke-width="4.4"/>
<line y1="340.2" y2="340.2" x1="1672.0" x2="2953.8" stroke="#EBEBEB" stroke-width="4.4"/>
<line x1="2895.9" x2="2895.9" y1="153.2" y2="839.6" stroke="#EBEBEB" stroke-width="4.4"/>
<line y1="184.2" y2="184.2" x1="1672.0" x2="2953.8" stroke="#EBEBEB" stroke-width="4.4"/>
<path d="M1730.3,184.2 L1742.0,184.3 L1753.6,184.5 L1765.3,184.8 L1776.9,185.7 L1788.6,187.4 L1800.2,189.7 L1811.9,192.3 L1823.5,196.2 L1835.2,201.6 L1846.9,208.1 L1858.5,215.2 L1870.2,222.7 L1881.8,230.2 L1893.5,238.5 L1905.1,247.6 L1916.8,257.1 L1928.5,266.7 L1940.1,275.9 L1951.8,284.6 L1963.4,292.9 L1975.1,301.1 L1986.7,309.2 L1998.4,317.5 L2010.0,326.2 L2021.7,335.3 L2033.4,345.4 L2045.0,356.2 L2056.7,367.4 L2068.3,378.5 L2080.0,389.1 L2091.6,399.6 L2103.3,409.9 L2114.9,420.1 L2126.6,430.2 L2138.3,440.0 L2149.9,449.7 L2161.6,459.3 L2173.2,468.8 L2184.9,478.0 L2196.5,486.8 L2208.2,495.0 L2219.9,502.7 L2231.5,509.9 L2243.2,516.8 L2254.8,523.5 L2266.5,530.1 L2278.1,536.7 L2289.8,543.2 L2301.4,549.6 L2313.1,555.9 L2324.8,562.1 L2336.4,568.5 L2348.1,574.9 L2359.7,581.6 L2371.4,588.3 L2383.0,595.0 L2394.7,601.4 L2406.3,607.6 L2418.0,613.3 L2429.7,618.8 L2441.3,624.1 L2453.0,629.3 L2464.6,634.5 L2476.3,639.9 L2487.9,645.4 L2499.6,650.9 L2511.3,656.5 L2522.9,661.9 L2534.6,667.2 L2546.2,672.3 L2557.9,677.4 L2569.5,682.3 L2581.2,687.2 L2592.8,691.8 L2604.5,696.3 L2616.2,700.4 L2627.8,704.3 L2639.5,708.1 L2651.1,711.8 L2662.8,715.5 L2674.4,719.2 L2686.1,723.1 L2697.7,727.0 L2709.4,730.8 L2721.1,734.5 L2732.7,738.0 L2744.4,741.3 L2756.0,744.3 L2767.7,747.2 L2779.3,749.8 L2895.9,808.4" fill="none" stroke="#BEBEBE" stroke-opacity="0.3" stroke-width="6.7" stroke-linejoin="round"/>
<path d="M1730.3,184.2 L1742.0,184.3 L1753.6,184.5 L1765.3,184.7 L1776.9,185.5 L1788.6,187.0 L1800.2,189.0 L1811.9,191.4 L1823.5,194.9 L1835.2,199.6 L1846.9,205.4 L1858.5,211.8 L1870.2,218.4 L1881.8,225.0 L1893.5,232.5 L1905.1,240.6 L1916.8,249.1 L1928.5,257.6 L1940.1,265.9 L1951.8,273.7 L1963.4,281.2 L1975.1,288.5 L1986.7,295.8 L1998.4,303.3 L2010.0,311.2 L2021.7,319.5 L2033.4,328.6 L2045.0,338.4 L2056.7,348.6 L2068.3,358.7 L2080.0,368.4 L2091.6,377.9 L2103.3,387.4 L2114.9,396.8 L2126.6,406.1 L2138.3,415.2 L2149.9,424.2 L2161.6,433.1 L2173.2,442.0 L2184.9,450.7 L2196.5,459.0 L2208.2,466.8 L2219.9,474.2 L2231.5,481.1 L2243.2,487.9 L2254.8,494.5 L2266.5,501.0 L2278.1,507.6 L2289.8,514.0 L2301.4,520.4 L2313.1,526.8 L2324.8,533.2 L2336.4,539.6 L2348.1,546.2 L2359.7,553.0 L2371.4,559.9 L2383.0,566.8 L2394.7,573.5 L2406.3,579.9 L2418.0,586.0 L2429.7,591.9 L2441.3,597.7 L2453.0,603.4 L2464.6,609.2 L2476.3,615.1 L2487.9,621.1 L2499.6,627.2 L2511.3,633.3 L2522.9,639.4 L2534.6,645.3 L2546.2,651.1 L2557.9,656.9 L2569.5,662.6 L2581.2,668.2 L2592.8,673.6 L2604.5,678.9 L2616.2,683.9 L2627.8,688.7 L2639.5,693.3 L2651.1,697.9 L2662.8,702.5 L2674.4,707.2 L2686.1,711.8 L2697.7,716.5 L2709.4,721.1 L2721.1,725.6 L2732.7,729.8 L2744.4,733.7 L2756.0,737.4 L2767.7,740.7 L2779.3,743.5 L2895.9,808.4" fill="none" stroke="#BEBEBE" stroke-opacity="0.3" stroke-width="6.7" stroke-linejoin="round"/>
<path d="M1730.3,184.2 L1742.0,184.3 L1753.6,184.4 L1765.3,184.7 L1776.9,185.4 L1788.6,186.8 L1800.2,188.6 L1811.9,190.8 L1823.5,194.0 L1835.2,198.4 L1846.9,203.6 L1858.5,209.5 L1870.2,215.6 L1881.8,221.7 L1893.5,228.5 L1905.1,236.0 L1916.8,243.8 L1928.5,251.7 L1940.1,259.3 L1951.8,266.5 L1963.4,273.5 L1975.1,280.3 L1986.7,287.1 L1998.4,294.1 L2010.0,301.4 L2021.7,309.2 L2033.4,317.7 L2045.0,326.8 L2056.7,336.3 L2068.3,345.8 L2080.0,354.8 L2091.6,363.8 L2103.3,372.8 L2114.9,381.6 L2126.6,390.4 L2138.3,399.0 L2149.9,407.5 L2161.6,416.1 L2173.2,424.5 L2184.9,432.8 L2196.5,440.8 L2208.2,448.4 L2219.9,455.5 L2231.5,462.4 L2243.2,469.0 L2254.8,475.5 L2266.5,482.0 L2278.1,488.5 L2289.8,495.0 L2301.4,501.4 L2313.1,507.8 L2324.8,514.3 L2336.4,520.8 L2348.1,527.5 L2359.7,534.4 L2371.4,541.4 L2383.0,548.3 L2394.7,555.2 L2406.3,561.8 L2418.0,568.2 L2429.7,574.3 L2441.3,580.4 L2453.0,586.5 L2464.6,592.6 L2476.3,598.9 L2487.9,605.3 L2499.6,611.8 L2511.3,618.2 L2522.9,624.7 L2534.6,631.0 L2546.2,637.3 L2557.9,643.5 L2569.5,649.7 L2581.2,655.8 L2592.8,661.8 L2604.5,667.5 L2616.2,673.1 L2627.8,678.5 L2639.5,683.7 L2651.1,688.9 L2662.8,694.1 L2674.4,699.3 L2686.1,704.5 L2697.7,709.7 L2709.4,714.9 L2721.1,719.8 L2732.7,724.5 L2744.4,728.8 L2756.0,732.8 L2767.7,736.5 L2779.3,739.4 L2895.9,808.4" fill="none" stroke="#BEBEBE" stroke-opacity="0.3" stroke-width="6.7" stroke-linejoin="round"/>
<path d="M1730.3,184.2 L1742.0,184.3 L1753.6,184.4 L1765.3,184.7 L1776.9,185.3 L1788.6,186.6 L1800.2,188.4 L1811.9,190.4 L1823.5,193.4 L1835.2,197.5 L1846.9,202.5 L1858.5,208.0 L1870.2,213.7 L1881.8,219.5 L1893.5,225.9 L1905.1,232.9 L1916.8,240.3 L1928.5,247.8 L1940.1,255.0 L1951.8,261.8 L1963.4,268.4 L1975.1,274.8 L1986.7,281.3 L1998.4,288.0 L2010.0,294.9 L2021.7,302.3 L2033.4,310.4 L2045.0,319.1 L2056.7,328.1 L2068.3,337.1 L2080.0,345.8 L2091.6,354.4 L2103.3,363.0 L2114.9,371.5 L2126.6,379.9 L2138.3,388.2 L2149.9,396.4 L2161.6,404.7 L2173.2,412.9 L2184.9,420.9 L2196.5,428.7 L2208.2,436.1 L2219.9,443.1 L2231.5,449.9 L2243.2,456.4 L2254.8,462.9 L2266.5,469.3 L2278.1,475.9 L2289.8,482.3 L2301.4,488.8 L2313.1,495.2 L2324.8,501.7 L2336.4,508.3 L2348.1,515.0 L2359.7,522.0 L2371.4,529.0 L2383.0,536.1 L2394.7,543.0 L2406.3,549.8 L2418.0,556.3 L2429.7,562.7 L2441.3,569.0 L2453.0,575.2 L2464.6,581.6 L2476.3,588.1 L2487.9,594.7 L2499.6,601.4 L2511.3,608.2 L2522.9,614.9 L2534.6,621.5 L2546.2,628.1 L2557.9,634.6 L2569.5,641.1 L2581.2,647.5 L2592.8,653.8 L2604.5,660.0 L2616.2,665.9 L2627.8,671.7 L2639.5,677.3 L2651.1,682.9 L2662.8,688.5 L2674.4,694.0 L2686.1,699.6 L2697.7,705.2 L2709.4,710.7 L2721.1,715.9 L2732.7,720.9 L2744.4,725.6 L2756.0,729.8 L2767.7,733.6 L2779.3,736.7 L2895.9,808.4" fill="none" stroke="#BEBEBE" stroke-opacity="0.3" stroke-width="6.7" stroke-linejoin="round"/>
<path d="M1730.3,184.2 L1742.0,184.2 L1753.6,184.4 L1765.3,184.6 L1776.9,185.1 L1788.6,186.2 L1800.2,187.7 L1811.9,189.4 L1823.5,191.9 L1835.2,195.4 L1846.9,199.6 L1858.5,204.2 L1870.2,209.0 L1881.8,213.9 L1893.5,219.3 L1905.1,225.3 L1916.8,231.6 L1928.5,237.9 L1940.1,244.1 L1951.8,249.9 L1963.4,255.6 L1975.1,261.1 L1986.7,266.8 L1998.4,272.6 L2010.0,278.7 L2021.7,285.1 L2033.4,292.2 L2045.0,299.8 L2056.7,307.7 L2068.3,315.6 L2080.0,323.3 L2091.6,330.9 L2103.3,338.5 L2114.9,346.1 L2126.6,353.7 L2138.3,361.2 L2149.9,368.7 L2161.6,376.2 L2173.2,383.8 L2184.9,391.2 L2196.5,398.5 L2208.2,405.4 L2219.9,412.1 L2231.5,418.6 L2243.2,425.0 L2254.8,431.3 L2266.5,437.7 L2278.1,444.2 L2289.8,450.6 L2301.4,457.1 L2313.1,463.6 L2324.8,470.2 L2336.4,476.9 L2348.1,483.8 L2359.7,490.9 L2371.4,498.1 L2383.0,505.4 L2394.7,512.6 L2406.3,519.7 L2418.0,526.6 L2429.7,533.4 L2441.3,540.3 L2453.0,547.1 L2464.6,554.0 L2476.3,561.1 L2487.9,568.3 L2499.6,575.7 L2511.3,583.0 L2522.9,590.4 L2534.6,597.8 L2546.2,605.0 L2557.9,612.4 L2569.5,619.6 L2581.2,626.9 L2592.8,634.0 L2604.5,641.1 L2616.2,647.9 L2627.8,654.7 L2639.5,661.3 L2651.1,667.9 L2662.8,674.4 L2674.4,680.9 L2686.1,687.4 L2697.7,693.9 L2709.4,700.2 L2721.1,706.2 L2732.7,712.0 L2744.4,717.4 L2756.0,722.3 L2767.7,726.6 L2779.3,729.8 L2895.9,808.4" fill="none" stroke="#BEBEBE" stroke-opacity="0.3" stroke-width="6.7" stroke-linejoin="round"/>
<path d="M1730.3,184.2 L1742.0,184.2 L1753.6,184.4 L1765.3,184.6 L1776.9,185.1 L1788.6,186.1 L1800.2,187.4 L1811.9,189.0 L1823.5,191.3 L1835.2,194.5 L1846.9,198.4 L1858.5,202.7 L1870.2,207.2 L1881.8,211.7 L1893.5,216.7 L1905.1,222.2 L1916.8,228.1 L1928.5,233.9 L1940.1,239.7 L1951.8,245.1 L1963.4,250.4 L1975.1,255.7 L1986.7,261.0 L1998.4,266.4 L2010.0,272.2 L2021.7,278.2 L2033.4,284.9 L2045.0,292.1 L2056.7,299.5 L2068.3,307.0 L2080.0,314.2 L2091.6,321.5 L2103.3,328.7 L2114.9,336.0 L2126.6,343.2 L2138.3,350.4 L2149.9,357.6 L2161.6,364.9 L2173.2,372.1 L2184.9,379.3 L2196.5,386.4 L2208.2,393.2 L2219.9,399.7 L2231.5,406.1 L2243.2,412.4 L2254.8,418.7 L2266.5,425.1 L2278.1,431.5 L2289.8,438.0 L2301.4,444.4 L2313.1,451.0 L2324.8,457.6 L2336.4,464.4 L2348.1,471.3 L2359.7,478.5 L2371.4,485.8 L2383.0,493.1 L2394.7,500.4 L2406.3,507.6 L2418.0,514.7 L2429.7,521.8 L2441.3,528.8 L2453.0,535.8 L2464.6,543.0 L2476.3,550.3 L2487.9,557.8 L2499.6,565.3 L2511.3,573.0 L2522.9,580.6 L2534.6,588.2 L2546.2,595.8 L2557.9,603.4 L2569.5,611.1 L2581.2,618.6 L2592.8,626.1 L2604.5,633.5 L2616.2,640.8 L2627.8,647.9 L2639.5,654.9 L2651.1,661.8 L2662.8,668.8 L2674.4,675.7 L2686.1,682.5 L2697.7,689.3 L2709.4,696.0 L2721.1,702.4 L2732.7,708.5 L2744.4,714.1 L2756.0,719.3 L2767.7,723.8 L2779.3,727.1 L2895.9,808.4" fill="none" stroke="#BEBEBE" stroke-opacity="0.3" stroke-width="6.7" stroke-linejoin="round"/>
<path d="M1730.3,184.2 L1742.0,184.2 L1753.6,184.3 L1765.3,184.5 L1776.9,184.9 L1788.6,185.8 L1800.2,187.0 L1811.9,188.4 L1823.5,190.3 L1835.2,193.1 L1846.9,196.4 L1858.5,200.1 L1870.2,204.0 L1881.8,207.9 L1893.5,212.3 L1905.1,217.1 L1916.8,222.1 L1928.5,227.2 L1940.1,232.3 L1951.8,237.1 L1963.4,241.7 L1975.1,246.4 L1986.7,251.1 L1998.4,256.0 L2010.0,261.1 L2021.7,266.5 L2033.4,272.5 L2045.0,278.9 L2056.7,285.6 L2068.3,292.3 L2080.0,298.9 L2091.6,305.5 L2103.3,312.1 L2114.9,318.8 L2126.6,325.4 L2138.3,332.1 L2149.9,338.7 L2161.6,345.5 L2173.2,352.3 L2184.9,359.1 L2196.5,365.8 L2208.2,372.3 L2219.9,378.6 L2231.5,384.9 L2243.2,391.0 L2254.8,397.3 L2266.5,403.5 L2278.1,409.9 L2289.8,416.4 L2301.4,422.9 L2313.1,429.5 L2324.8,436.2 L2336.4,443.1 L2348.1,450.1 L2359.7,457.4 L2371.4,464.8 L2383.0,472.2 L2394.7,479.7 L2406.3,487.2 L2418.0,494.5 L2429.7,501.9 L2441.3,509.3 L2453.0,516.7 L2464.6,524.3 L2476.3,532.0 L2487.9,539.8 L2499.6,547.8 L2511.3,555.9 L2522.9,564.0 L2534.6,572.1 L2546.2,580.2 L2557.9,588.3 L2569.5,596.5 L2581.2,604.6 L2592.8,612.7 L2604.5,620.7 L2616.2,628.5 L2627.8,636.3 L2639.5,644.0 L2651.1,651.6 L2662.8,659.2 L2674.4,666.7 L2686.1,674.2 L2697.7,681.6 L2709.4,688.8 L2721.1,695.8 L2732.7,702.4 L2744.4,708.5 L2756.0,714.1 L2767.7,719.0 L2779.3,722.5 L2895.9,808.4" fill="none" stroke="#BEBEBE" stroke-opacity="0.3" stroke-width="6.7" stroke-linejoin="round"/>
<path d="M1730.3,184.2 L1742.0,184.2 L1753.6,184.3 L1765.3,184.4 L1776.9,184.7 L1788.6,185.4 L1800.2,186.2 L1811.9,187.2 L1823.5,188.6 L1835.2,190.6 L1846.9,193.0 L1858.5,195.6 L1870.2,198.4 L1881.8,201.3 L1893.5,204.5 L1905.1,208.0 L1916.8,211.8 L1928.5,215.6 L1940.1,219.4 L1951.8,223.0 L1963.4,226.6 L1975.1,230.3 L1986.7,234.0 L1998.4,237.8 L2010.0,241.9 L2021.7,246.3 L2033.4,251.0 L2045.0,256.1 L2056.7,261.5 L2068.3,266.9 L2080.0,272.3 L2091.6,277.7 L2103.3,283.2 L2114.9,288.8 L2126.6,294.5 L2138.3,300.2 L2149.9,306.0 L2161.6,312.0 L2173.2,318.0 L2184.9,324.0 L2196.5,330.1 L2208.2,336.1 L2219.9,342.0 L2231.5,348.0 L2243.2,354.0 L2254.8,360.0 L2266.5,366.2 L2278.1,372.5 L2289.8,379.0 L2301.4,385.5 L2313.1,392.2 L2324.8,399.1 L2336.4,406.1 L2348.1,413.3 L2359.7,420.7 L2371.4,428.3 L2383.0,436.0 L2394.7,443.8 L2406.3,451.7 L2418.0,459.5 L2429.7,467.4 L2441.3,475.4 L2453.0,483.5 L2464.6,491.7 L2476.3,500.1 L2487.9,508.7 L2499.6,517.4 L2511.3,526.2 L2522.9,535.1 L2534.6,544.0 L2546.2,553.0 L2557.9,562.0 L2569.5,571.1 L2581.2,580.2 L2592.8,589.3 L2604.5,598.4 L2616.2,607.3 L2627.8,616.2 L2639.5,625.1 L2651.1,633.9 L2662.8,642.6 L2674.4,651.2 L2686.1,659.8 L2697.7,668.3 L2709.4,676.5 L2721.1,684.4 L2732.7,691.9 L2744.4,698.9 L2756.0,705.2 L2767.7,710.7 L2779.3,714.4 L2895.9,808.4" fill="none" stroke="#BEBEBE" stroke-opacity="0.3" stroke-width="6.7" stroke-linejoin="round"/>
<path d="M1730.3,184.2 L1742.0,184.2 L1753.6,184.3 L1765.3,184.4 L1776.9,184.6 L1788.6,185.1 L1800.2,185.8 L1811.9,186.7 L1823.5,187.8 L1835.2,189.4 L1846.9,191.4 L1858.5,193.6 L1870.2,195.9 L1881.8,198.3 L1893.5,201.0 L1905.1,203.9 L1916.8,207.0 L1928.5,210.3 L1940.1,213.5 L1951.8,216.6 L1963.4,219.7 L1975.1,222.9 L1986.7,226.1 L1998.4,229.5 L2010.0,233.1 L2021.7,237.0 L2033.4,241.2 L2045.0,245.7 L2056.7,250.4 L2068.3,255.3 L2080.0,260.1 L2091.6,265.0 L2103.3,270.0 L2114.9,275.2 L2126.6,280.4 L2138.3,285.7 L2149.9,291.1 L2161.6,296.6 L2173.2,302.2 L2184.9,308.0 L2196.5,313.7 L2208.2,319.5 L2219.9,325.3 L2231.5,331.1 L2243.2,337.0 L2254.8,343.0 L2266.5,349.1 L2278.1,355.4 L2289.8,361.9 L2301.4,368.4 L2313.1,375.2 L2324.8,382.1 L2336.4,389.1 L2348.1,396.4 L2359.7,403.9 L2371.4,411.6 L2383.0,419.5 L2394.7,427.4 L2406.3,435.4 L2418.0,443.5 L2429.7,451.6 L2441.3,459.9 L2453.0,468.3 L2464.6,476.8 L2476.3,485.5 L2487.9,494.4 L2499.6,503.5 L2511.3,512.6 L2522.9,521.9 L2534.6,531.2 L2546.2,540.6 L2557.9,550.0 L2569.5,559.5 L2581.2,569.1 L2592.8,578.6 L2604.5,588.2 L2616.2,597.6 L2627.8,607.1 L2639.5,616.4 L2651.1,625.7 L2662.8,635.0 L2674.4,644.2 L2686.1,653.2 L2697.7,662.1 L2709.4,670.8 L2721.1,679.2 L2732.7,687.1 L2744.4,694.5 L2756.0,701.2 L2767.7,706.9 L2779.3,710.7 L2895.9,808.4" fill="none" stroke="#BEBEBE" stroke-opacity="0.3" stroke-width="6.7" stroke-linejoin="round"/>
<path d="M1730.3,184.2 L1742.0,184.2 L1753.6,184.3 L1765.3,184.3 L1776.9,184.5 L1788.6,184.8 L1800.2,185.3 L1811.9,185.9 L1823.5,186.6 L1835.2,187.7 L1846.9,189.1 L1858.5,190.6 L1870.2,192.2 L1881.8,193.8 L1893.5,195.7 L1905.1,197.8 L1916.8,200.0 L1928.5,202.4 L1940.1,204.7 L1951.8,207.1 L1963.4,209.5 L1975.1,211.9 L1986.7,214.5 L1998.4,217.2 L2010.0,220.1 L2021.7,223.2 L2033.4,226.6 L2045.0,230.2 L2056.7,234.1 L2068.3,238.0 L2080.0,242.1 L2091.6,246.2 L2103.3,250.5 L2114.9,254.9 L2126.6,259.4 L2138.3,264.1 L2149.9,268.9 L2161.6,273.8 L2173.2,278.9 L2184.9,284.2 L2196.5,289.5 L2208.2,295.0 L2219.9,300.5 L2231.5,306.1 L2243.2,311.8 L2254.8,317.7 L2266.5,323.8 L2278.1,330.1 L2289.8,336.5 L2301.4,343.1 L2313.1,349.9 L2324.8,356.9 L2336.4,364.1 L2348.1,371.5 L2359.7,379.1 L2371.4,386.9 L2383.0,394.9 L2394.7,403.0 L2406.3,411.3 L2418.0,419.7 L2429.7,428.3 L2441.3,436.9 L2453.0,445.8 L2464.6,454.8 L2476.3,464.0 L2487.9,473.3 L2499.6,482.8 L2511.3,492.5 L2522.9,502.3 L2534.6,512.2 L2546.2,522.1 L2557.9,532.2 L2569.5,542.4 L2581.2,552.6 L2592.8,562.8 L2604.5,573.0 L2616.2,583.3 L2627.8,593.4 L2639.5,603.6 L2651.1,613.7 L2662.8,623.7 L2674.4,633.7 L2686.1,643.5 L2697.7,653.1 L2709.4,662.4 L2721.1,671.4 L2732.7,680.0 L2744.4,687.9 L2756.0,695.1 L2767.7,701.2 L2779.3,705.3 L2895.9,808.4" fill="none" stroke="#BEBEBE" stroke-opacity="0.3" stroke-width="6.7" stroke-linejoin="round"/>
<path d="M1730.3,184.2 L1742.0,184.2 L1753.6,184.2 L1765.3,184.3 L1776.9,184.4 L1788.6,184.5 L1800.2,184.8 L1811.9,185.1 L1823.5,185.5 L1835.2,186.0 L1846.9,186.7 L1858.5,187.5 L1870.2,188.4 L1881.8,189.4 L1893.5,190.5 L1905.1,191.7 L1916.8,193.0 L1928.5,194.5 L1940.1,196.0 L1951.8,197.6 L1963.4,199.2 L1975.1,201.0 L1986.7,202.9 L1998.4,204.9 L2010.0,207.1 L2021.7,209.5 L2033.4,212.0 L2045.0,214.8 L2056.7,217.7 L2068.3,220.8 L2080.0,224.0 L2091.6,227.4 L2103.3,230.9 L2114.9,234.6 L2126.6,238.5 L2138.3,242.5 L2149.9,246.7 L2161.6,251.1 L2173.2,255.7 L2184.9,260.4 L2196.5,265.3 L2208.2,270.4 L2219.9,275.6 L2231.5,281.1 L2243.2,286.7 L2254.8,292.5 L2266.5,298.5 L2278.1,304.7 L2289.8,311.1 L2301.4,317.8 L2313.1,324.6 L2324.8,331.7 L2336.4,339.0 L2348.1,346.5 L2359.7,354.2 L2371.4,362.2 L2383.0,370.3 L2394.7,378.7 L2406.3,387.2 L2418.0,396.0 L2429.7,404.9 L2441.3,414.0 L2453.0,423.2 L2464.6,432.7 L2476.3,442.4 L2487.9,452.2 L2499.6,462.2 L2511.3,472.4 L2522.9,482.7 L2534.6,493.2 L2546.2,503.7 L2557.9,514.4 L2569.5,525.2 L2581.2,536.0 L2592.8,547.0 L2604.5,557.9 L2616.2,568.9 L2627.8,579.8 L2639.5,590.8 L2651.1,601.7 L2662.8,612.5 L2674.4,623.2 L2686.1,633.7 L2697.7,644.0 L2709.4,654.0 L2721.1,663.7 L2732.7,672.8 L2744.4,681.4 L2756.0,689.1 L2767.7,695.6 L2779.3,699.8 L2895.9,808.4" fill="none" stroke="#BEBEBE" stroke-opacity="0.3" stroke-width="6.7" stroke-linejoin="round"/>
<path d="M1730.3,184.2 L1742.0,184.2 L1753.6,184.2 L1765.3,184.2 L1776.9,184.3 L1788.6,184.3 L1800.2,184.4 L1811.9,184.6 L1823.5,184.7 L1835.2,185.0 L1846.9,185.3 L1858.5,185.7 L1870.2,186.1 L1881.8,186.6 L1893.5,187.2 L1905.1,187.9 L1916.8,188.7 L1928.5,189.5 L1940.1,190.5 L1951.8,191.6 L1963.4,192.8 L1975.1,194.2 L1986.7,195.6 L1998.4,197.2 L2010.0,199.0 L2021.7,200.9 L2033.4,202.9 L2045.0,205.1 L2056.7,207.5 L2068.3,210.0 L2080.0,212.7 L2091.6,215.6 L2103.3,218.7 L2114.9,221.9 L2126.6,225.4 L2138.3,229.0 L2149.9,232.8 L2161.6,236.9 L2173.2,241.1 L2184.9,245.5 L2196.5,250.2 L2208.2,255.1 L2219.9,260.1 L2231.5,265.4 L2243.2,271.0 L2254.8,276.7 L2266.5,282.7 L2278.1,288.9 L2289.8,295.3 L2301.4,302.0 L2313.1,308.8 L2324.8,316.0 L2336.4,323.3 L2348.1,330.9 L2359.7,338.7 L2371.4,346.7 L2383.0,355.0 L2394.7,363.5 L2406.3,372.2 L2418.0,381.1 L2429.7,390.3 L2441.3,399.6 L2453.0,409.2 L2464.6,418.9 L2476.3,428.9 L2487.9,439.0 L2499.6,449.3 L2511.3,459.8 L2522.9,470.5 L2534.6,481.3 L2546.2,492.2 L2557.9,503.3 L2569.5,514.4 L2581.2,525.7 L2592.8,537.1 L2604.5,548.5 L2616.2,559.9 L2627.8,571.3 L2639.5,582.8 L2651.1,594.1 L2662.8,605.4 L2674.4,616.6 L2686.1,627.6 L2697.7,638.3 L2709.4,648.8 L2721.1,658.8 L2732.7,668.4 L2744.4,677.3 L2756.0,685.3 L2767.7,692.1 L2779.3,696.4 L2895.9,808.4" fill="none" stroke="#BEBEBE" stroke-opacity="0.3" stroke-width="6.7" stroke-linejoin="round"/>
<path d="M1730.3,184.2 L1742.0,184.2 L1753.6,184.2 L1765.3,184.2 L1776.9,184.2 L1788.6,184.2 L1800.2,184.2 L1811.9,184.2 L1823.5,184.2 L1835.2,184.2 L1846.9,184.3 L1858.5,184.3 L1870.2,184.3 L1881.8,184.4 L1893.5,184.4 L1905.1,184.5 L1916.8,184.6 L1928.5,184.7 L1940.1,184.8 L1951.8,185.0 L1963.4,185.2 L1975.1,185.4 L1986.7,185.7 L1998.4,185.9 L2010.0,186.3 L2021.7,186.7 L2033.4,187.1 L2045.0,187.6 L2056.7,188.2 L2068.3,188.8 L2080.0,189.5 L2091.6,190.2 L2103.3,191.1 L2114.9,192.0 L2126.6,193.1 L2138.3,194.2 L2149.9,195.5 L2161.6,196.8 L2173.2,198.3 L2184.9,199.9 L2196.5,201.7 L2208.2,203.6 L2219.9,205.7 L2231.5,207.9 L2243.2,210.3 L2254.8,212.8 L2266.5,215.6 L2278.1,218.6 L2289.8,221.8 L2301.4,225.1 L2313.1,228.8 L2324.8,232.6 L2336.4,236.8 L2348.1,241.2 L2359.7,245.8 L2371.4,250.8 L2383.0,256.1 L2394.7,261.6 L2406.3,267.5 L2418.0,273.8 L2429.7,280.4 L2441.3,287.4 L2453.0,294.8 L2464.6,302.5 L2476.3,310.8 L2487.9,319.4 L2499.6,328.5 L2511.3,338.1 L2522.9,348.1 L2534.6,358.7 L2546.2,369.8 L2557.9,381.5 L2569.5,393.8 L2581.2,406.7 L2592.8,420.2 L2604.5,434.3 L2616.2,449.1 L2627.8,464.7 L2639.5,481.0 L2651.1,498.1 L2662.8,516.0 L2674.4,534.8 L2686.1,554.6 L2697.7,575.3 L2709.4,597.0 L2721.1,620.0 L2732.7,644.2 L2744.4,669.8 L2756.0,697.1 L2767.7,726.7 L2779.3,761.3 L2895.9,808.4" fill="none" stroke="#BEBEBE" stroke-opacity="0.3" stroke-width="6.7" stroke-linejoin="round"/>
<path d="M1730.3,184.2 L1742.0,184.2 L1753.6,184.2 L1765.3,184.2 L1776.9,184.3 L1788.6,184.3 L1800.2,184.4 L1811.9,184.6 L1823.5,184.7 L1835.2,185.0 L1846.9,185.2 L1858.5,185.5 L1870.2,185.9 L1881.8,186.3 L1893.5,186.8 L1905.1,187.4 L1916.8,188.0 L1928.5,188.8 L1940.1,189.6 L1951.8,190.4 L1963.4,191.4 L1975.1,192.5 L1986.7,193.7 L1998.4,194.9 L2010.0,196.3 L2021.7,197.8 L2033.4,199.4 L2045.0,201.1 L2056.7,202.9 L2068.3,204.9 L2080.0,207.0 L2091.6,209.2 L2103.3,211.6 L2114.9,214.1 L2126.6,216.8 L2138.3,219.6 L2149.9,222.5 L2161.6,225.7 L2173.2,228.9 L2184.9,232.4 L2196.5,236.0 L2208.2,239.8 L2219.9,243.8 L2231.5,247.9 L2243.2,252.2 L2254.8,256.8 L2266.5,261.5 L2278.1,266.4 L2289.8,271.6 L2301.4,276.9 L2313.1,282.5 L2324.8,288.2 L2336.4,294.2 L2348.1,300.5 L2359.7,306.9 L2371.4,313.6 L2383.0,320.6 L2394.7,327.8 L2406.3,335.2 L2418.0,342.9 L2429.7,350.9 L2441.3,359.1 L2453.0,367.6 L2464.6,376.4 L2476.3,385.5 L2487.9,394.9 L2499.6,404.5 L2511.3,414.5 L2522.9,424.8 L2534.6,435.5 L2546.2,446.4 L2557.9,457.7 L2569.5,469.4 L2581.2,481.4 L2592.8,493.8 L2604.5,506.5 L2616.2,519.7 L2627.8,533.3 L2639.5,547.2 L2651.1,561.7 L2662.8,576.6 L2674.4,592.0 L2686.1,607.9 L2697.7,624.3 L2709.4,641.3 L2721.1,659.0 L2732.7,677.5 L2744.4,696.7 L2756.0,717.0 L2767.7,738.8 L2779.3,764.3 L2895.9,808.4" fill="none" stroke="#BEBEBE" stroke-opacity="0.3" stroke-width="6.7" stroke-linejoin="round"/>
<path d="M1730.3,184.2 L1742.0,184.2 L1753.6,184.2 L1765.3,184.2 L1776.9,184.3 L1788.6,184.3 L1800.2,184.4 L1811.9,184.5 L1823.5,184.6 L1835.2,184.8 L1846.9,185.0 L1858.5,185.3 L1870.2,185.6 L1881.8,186.0 L1893.5,186.4 L1905.1,187.0 L1916.8,187.5 L1928.5,188.2 L1940.1,189.0 L1951.8,189.8 L1963.4,190.7 L1975.1,191.7 L1986.7,192.9 L1998.4,194.1 L2010.0,195.5 L2021.7,196.9 L2033.4,198.5 L2045.0,200.2 L2056.7,202.0 L2068.3,204.0 L2080.0,206.1 L2091.6,208.4 L2103.3,210.7 L2114.9,213.3 L2126.6,216.0 L2138.3,218.9 L2149.9,221.9 L2161.6,225.1 L2173.2,228.5 L2184.9,232.0 L2196.5,235.8 L2208.2,239.7 L2219.9,243.8 L2231.5,248.1 L2243.2,252.6 L2254.8,257.3 L2266.5,262.2 L2278.1,267.3 L2289.8,272.7 L2301.4,278.2 L2313.1,284.0 L2324.8,290.0 L2336.4,296.2 L2348.1,302.7 L2359.7,309.4 L2371.4,316.3 L2383.0,323.5 L2394.7,330.9 L2406.3,338.6 L2418.0,346.5 L2429.7,354.7 L2441.3,363.2 L2453.0,371.9 L2464.6,380.8 L2476.3,390.0 L2487.9,399.5 L2499.6,409.3 L2511.3,419.3 L2522.9,429.6 L2534.6,440.2 L2546.2,451.0 L2557.9,462.2 L2569.5,473.6 L2581.2,485.2 L2592.8,497.2 L2604.5,509.4 L2616.2,521.8 L2627.8,534.6 L2639.5,547.6 L2651.1,560.9 L2662.8,574.4 L2674.4,588.1 L2686.1,602.1 L2697.7,616.3 L2709.4,630.6 L2721.1,645.2 L2732.7,659.9 L2744.4,674.6 L2756.0,689.3 L2767.7,703.7 L2779.3,717.1 L2895.9,808.4" fill="none" stroke="#BEBEBE" stroke-opacity="0.3" stroke-width="6.7" stroke-linejoin="round"/>
<path d="M1730.3,184.2 L1742.0,184.2 L1753.6,184.2 L1765.3,184.2 L1776.9,184.2 L1788.6,184.2 L1800.2,184.2 L1811.9,184.2 L1823.5,184.2 L1835.2,184.2 L1846.9,184.2 L1858.5,184.3 L1870.2,184.3 L1881.8,184.3 L1893.5,184.4 L1905.1,184.5 L1916.8,184.6 L1928.5,184.7 L1940.1,184.8 L1951.8,184.9 L1963.4,185.1 L1975.1,185.3 L1986.7,185.6 L1998.4,185.9 L2010.0,186.2 L2021.7,186.6 L2033.4,187.1 L2045.0,187.6 L2056.7,188.1 L2068.3,188.8 L2080.0,189.5 L2091.6,190.3 L2103.3,191.2 L2114.9,192.1 L2126.6,193.2 L2138.3,194.4 L2149.9,195.7 L2161.6,197.1 L2173.2,198.7 L2184.9,200.4 L2196.5,202.2 L2208.2,204.2 L2219.9,206.4 L2231.5,208.7 L2243.2,211.3 L2254.8,214.0 L2266.5,216.9 L2278.1,220.0 L2289.8,223.3 L2301.4,226.9 L2313.1,230.7 L2324.8,234.8 L2336.4,239.1 L2348.1,243.7 L2359.7,248.6 L2371.4,253.8 L2383.0,259.3 L2394.7,265.1 L2406.3,271.3 L2418.0,277.8 L2429.7,284.6 L2441.3,291.8 L2453.0,299.4 L2464.6,307.4 L2476.3,315.8 L2487.9,324.6 L2499.6,333.8 L2511.3,343.5 L2522.9,353.7 L2534.6,364.2 L2546.2,375.3 L2557.9,386.9 L2569.5,398.9 L2581.2,411.5 L2592.8,424.6 L2604.5,438.2 L2616.2,452.3 L2627.8,467.0 L2639.5,482.2 L2651.1,498.0 L2662.8,514.3 L2674.4,531.2 L2686.1,548.6 L2697.7,566.5 L2709.4,584.9 L2721.1,603.8 L2732.7,623.2 L2744.4,642.8 L2756.0,662.7 L2767.7,682.4 L2779.3,700.7 L2895.9,808.4" fill="none" stroke="#BEBEBE" stroke-opacity="0.3" stroke-width="6.7" stroke-linejoin="round"/>
<path d="M1730.3,184.2 L1742.0,184.2 L1753.6,184.2 L1765.3,184.2 L1776.9,184.2 L1788.6,184.2 L1800.2,184.3 L1811.9,184.3 L1823.5,184.4 L1835.2,184.4 L1846.9,184.6 L1858.5,184.7 L1870.2,184.8 L1881.8,185.0 L1893.5,185.3 L1905.1,185.6 L1916.8,185.9 L1928.5,186.3 L1940.1,186.7 L1951.8,187.2 L1963.4,187.7 L1975.1,188.4 L1986.7,189.1 L1998.4,189.8 L2010.0,190.7 L2021.7,191.6 L2033.4,192.7 L2045.0,193.8 L2056.7,195.1 L2068.3,196.4 L2080.0,197.9 L2091.6,199.4 L2103.3,201.1 L2114.9,203.0 L2126.6,204.9 L2138.3,207.0 L2149.9,209.3 L2161.6,211.7 L2173.2,214.2 L2184.9,216.9 L2196.5,219.8 L2208.2,222.8 L2219.9,226.1 L2231.5,229.5 L2243.2,233.1 L2254.8,236.9 L2266.5,240.9 L2278.1,245.1 L2289.8,249.5 L2301.4,254.2 L2313.1,259.0 L2324.8,264.1 L2336.4,269.5 L2348.1,275.1 L2359.7,280.9 L2371.4,287.0 L2383.0,293.4 L2394.7,300.0 L2406.3,306.9 L2418.0,314.1 L2429.7,321.6 L2441.3,329.4 L2453.0,337.5 L2464.6,345.9 L2476.3,354.7 L2487.9,363.7 L2499.6,373.1 L2511.3,382.9 L2522.9,392.9 L2534.6,403.4 L2546.2,414.2 L2557.9,425.3 L2569.5,436.9 L2581.2,448.8 L2592.8,461.1 L2604.5,473.9 L2616.2,487.0 L2627.8,500.6 L2639.5,514.5 L2651.1,528.9 L2662.8,543.8 L2674.4,559.1 L2686.1,574.9 L2697.7,591.2 L2709.4,607.9 L2721.1,625.1 L2732.7,642.9 L2744.4,661.2 L2756.0,680.0 L2767.7,699.5 L2779.3,719.8 L2895.9,808.4" fill="none" stroke="#BEBEBE" stroke-opacity="0.3" stroke-width="6.7" stroke-linejoin="round"/>
<path d="M1730.3,184.2 L1742.0,184.2 L1753.6,184.2 L1765.3,184.2 L1776.9,184.2 L1788.6,184.2 L1800.2,184.2 L1811.9,184.2 L1823.5,184.3 L1835.2,184.3 L1846.9,184.3 L1858.5,184.4 L1870.2,184.5 L1881.8,184.5 L1893.5,184.7 L1905.1,184.8 L1916.8,185.0 L1928.5,185.2 L1940.1,185.4 L1951.8,185.7 L1963.4,186.0 L1975.1,186.4 L1986.7,186.8 L1998.4,187.3 L2010.0,187.9 L2021.7,188.5 L2033.4,189.2 L2045.0,190.0 L2056.7,190.9 L2068.3,191.9 L2080.0,192.9 L2091.6,194.1 L2103.3,195.4 L2114.9,196.8 L2126.6,198.3 L2138.3,200.0 L2149.9,201.8 L2161.6,203.8 L2173.2,205.9 L2184.9,208.2 L2196.5,210.6 L2208.2,213.2 L2219.9,216.0 L2231.5,219.0 L2243.2,222.2 L2254.8,225.7 L2266.5,229.3 L2278.1,233.2 L2289.8,237.3 L2301.4,241.6 L2313.1,246.2 L2324.8,251.1 L2336.4,256.2 L2348.1,261.6 L2359.7,267.3 L2371.4,273.3 L2383.0,279.6 L2394.7,286.2 L2406.3,293.2 L2418.0,300.4 L2429.7,308.0 L2441.3,316.0 L2453.0,324.3 L2464.6,333.0 L2476.3,342.1 L2487.9,351.5 L2499.6,361.4 L2511.3,371.6 L2522.9,382.2 L2534.6,393.3 L2546.2,404.7 L2557.9,416.6 L2569.5,428.9 L2581.2,441.7 L2592.8,454.9 L2604.5,468.5 L2616.2,482.6 L2627.8,497.1 L2639.5,512.0 L2651.1,527.4 L2662.8,543.2 L2674.4,559.5 L2686.1,576.1 L2697.7,593.1 L2709.4,610.5 L2721.1,628.1 L2732.7,646.0 L2744.4,664.1 L2756.0,682.1 L2767.7,699.8 L2779.3,715.7 L2895.9,808.4" fill="none" stroke="#BEBEBE" stroke-opacity="0.3" stroke-width="6.7" stroke-linejoin="round"/>
<path d="M1730.3,184.2 L1742.0,184.2 L1753.6,184.2 L1765.3,184.2 L1776.9,184.2 L1788.6,184.2 L1800.2,184.2 L1811.9,184.3 L1823.5,184.3 L1835.2,184.4 L1846.9,184.4 L1858.5,184.5 L1870.2,184.6 L1881.8,184.8 L1893.5,185.0 L1905.1,185.2 L1916.8,185.5 L1928.5,185.8 L1940.1,186.1 L1951.8,186.6 L1963.4,187.0 L1975.1,187.6 L1986.7,188.2 L1998.4,188.9 L2010.0,189.7 L2021.7,190.6 L2033.4,191.5 L2045.0,192.6 L2056.7,193.8 L2068.3,195.0 L2080.0,196.4 L2091.6,198.0 L2103.3,199.6 L2114.9,201.4 L2126.6,203.4 L2138.3,205.5 L2149.9,207.8 L2161.6,210.2 L2173.2,212.8 L2184.9,215.6 L2196.5,218.6 L2208.2,221.7 L2219.9,225.1 L2231.5,228.7 L2243.2,232.5 L2254.8,236.5 L2266.5,240.8 L2278.1,245.3 L2289.8,250.0 L2301.4,255.1 L2313.1,260.3 L2324.8,265.9 L2336.4,271.7 L2348.1,277.8 L2359.7,284.2 L2371.4,290.9 L2383.0,297.9 L2394.7,305.2 L2406.3,312.9 L2418.0,320.8 L2429.7,329.1 L2441.3,337.8 L2453.0,346.8 L2464.6,356.2 L2476.3,365.9 L2487.9,376.0 L2499.6,386.4 L2511.3,397.3 L2522.9,408.5 L2534.6,420.1 L2546.2,432.1 L2557.9,444.5 L2569.5,457.3 L2581.2,470.6 L2592.8,484.2 L2604.5,498.2 L2616.2,512.6 L2627.8,527.4 L2639.5,542.6 L2651.1,558.2 L2662.8,574.2 L2674.4,590.5 L2686.1,607.2 L2697.7,624.2 L2709.4,641.5 L2721.1,659.1 L2732.7,676.8 L2744.4,694.6 L2756.0,712.3 L2767.7,729.7 L2779.3,745.2 L2895.9,808.4" fill="none" stroke="#BEBEBE" stroke-opacity="0.3" stroke-width="6.7" stroke-linejoin="round"/>
<path d="M1730.3,184.2 L1742.0,184.2 L1753.6,184.2 L1765.3,184.2 L1776.9,184.2 L1788.6,184.2 L1800.2,184.2 L1811.9,184.2 L1823.5,184.2 L1835.2,184.2 L1846.9,184.2 L1858.5,184.3 L1870.2,184.3 L1881.8,184.3 L1893.5,184.4 L1905.1,184.5 L1916.8,184.6 L1928.5,184.7 L1940.1,184.8 L1951.8,184.9 L1963.4,185.1 L1975.1,185.3 L1986.7,185.6 L1998.4,185.9 L2010.0,186.2 L2021.7,186.6 L2033.4,187.0 L2045.0,187.5 L2056.7,188.1 L2068.3,188.7 L2080.0,189.5 L2091.6,190.2 L2103.3,191.1 L2114.9,192.1 L2126.6,193.2 L2138.3,194.4 L2149.9,195.7 L2161.6,197.1 L2173.2,198.6 L2184.9,200.3 L2196.5,202.2 L2208.2,204.2 L2219.9,206.3 L2231.5,208.6 L2243.2,211.2 L2254.8,213.9 L2266.5,216.8 L2278.1,219.9 L2289.8,223.2 L2301.4,226.8 L2313.1,230.6 L2324.8,234.7 L2336.4,239.1 L2348.1,243.7 L2359.7,248.6 L2371.4,253.8 L2383.0,259.3 L2394.7,265.2 L2406.3,271.3 L2418.0,277.9 L2429.7,284.8 L2441.3,292.0 L2453.0,299.7 L2464.6,307.8 L2476.3,316.2 L2487.9,325.1 L2499.6,334.5 L2511.3,344.3 L2522.9,354.5 L2534.6,365.3 L2546.2,376.5 L2557.9,388.2 L2569.5,400.5 L2581.2,413.3 L2592.8,426.6 L2604.5,440.5 L2616.2,455.0 L2627.8,470.0 L2639.5,485.7 L2651.1,501.9 L2662.8,518.7 L2674.4,536.1 L2686.1,554.1 L2697.7,572.8 L2709.4,592.0 L2721.1,611.7 L2732.7,632.0 L2744.4,652.8 L2756.0,674.0 L2767.7,695.2 L2779.3,715.6 L2895.9,808.4" fill="none" stroke="#BEBEBE" stroke-opacity="0.3" stroke-width="6.7" stroke-linejoin="round"/>
<path d="M1730.3,184.2 L1742.0,184.2 L1753.6,184.2 L1765.3,184.2 L1776.9,184.2 L1788.6,184.2 L1800.2,184.2 L1811.9,184.3 L1823.5,184.3 L1835.2,184.3 L1846.9,184.4 L1858.5,184.5 L1870.2,184.6 L1881.8,184.7 L1893.5,184.9 L1905.1,185.1 L1916.8,185.3 L1928.5,185.6 L1940.1,185.9 L1951.8,186.2 L1963.4,186.6 L1975.1,187.1 L1986.7,187.6 L1998.4,188.2 L2010.0,188.9 L2021.7,189.7 L2033.4,190.5 L2045.0,191.4 L2056.7,192.4 L2068.3,193.6 L2080.0,194.8 L2091.6,196.1 L2103.3,197.6 L2114.9,199.1 L2126.6,200.8 L2138.3,202.7 L2149.9,204.6 L2161.6,206.7 L2173.2,209.0 L2184.9,211.4 L2196.5,214.0 L2208.2,216.8 L2219.9,219.7 L2231.5,222.9 L2243.2,226.2 L2254.8,229.7 L2266.5,233.5 L2278.1,237.4 L2289.8,241.6 L2301.4,246.0 L2313.1,250.6 L2324.8,255.4 L2336.4,260.6 L2348.1,265.9 L2359.7,271.5 L2371.4,277.4 L2383.0,283.6 L2394.7,290.1 L2406.3,296.8 L2418.0,303.8 L2429.7,311.2 L2441.3,318.8 L2453.0,326.8 L2464.6,335.1 L2476.3,343.7 L2487.9,352.6 L2499.6,361.9 L2511.3,371.5 L2522.9,381.5 L2534.6,391.8 L2546.2,402.5 L2557.9,413.6 L2569.5,425.0 L2581.2,436.8 L2592.8,449.0 L2604.5,461.5 L2616.2,474.5 L2627.8,487.8 L2639.5,501.4 L2651.1,515.5 L2662.8,529.9 L2674.4,544.7 L2686.1,559.8 L2697.7,575.2 L2709.4,591.0 L2721.1,607.0 L2732.7,623.3 L2744.4,639.7 L2756.0,656.1 L2767.7,672.3 L2779.3,687.2 L2895.9,808.4" fill="none" stroke="#BEBEBE" stroke-opacity="0.3" stroke-width="6.7" stroke-linejoin="round"/>
<path d="M1730.3,184.2 L1742.0,184.2 L1753.6,184.2 L1765.3,184.2 L1776.9,184.2 L1788.6,184.2 L1800.2,184.2 L1811.9,184.2 L1823.5,184.3 L1835.2,184.3 L1846.9,184.3 L1858.5,184.4 L1870.2,184.5 L1881.8,184.6 L1893.5,184.7 L1905.1,184.8 L1916.8,185.0 L1928.5,185.2 L1940.1,185.5 L1951.8,185.8 L1963.4,186.1 L1975.1,186.5 L1986.7,187.0 L1998.4,187.5 L2010.0,188.1 L2021.7,188.7 L2033.4,189.5 L2045.0,190.3 L2056.7,191.2 L2068.3,192.2 L2080.0,193.3 L2091.6,194.5 L2103.3,195.8 L2114.9,197.3 L2126.6,198.8 L2138.3,200.6 L2149.9,202.4 L2161.6,204.4 L2173.2,206.6 L2184.9,208.9 L2196.5,211.4 L2208.2,214.0 L2219.9,216.9 L2231.5,219.9 L2243.2,223.2 L2254.8,226.6 L2266.5,230.3 L2278.1,234.2 L2289.8,238.3 L2301.4,242.7 L2313.1,247.3 L2324.8,252.2 L2336.4,257.3 L2348.1,262.7 L2359.7,268.4 L2371.4,274.4 L2383.0,280.7 L2394.7,287.2 L2406.3,294.1 L2418.0,301.3 L2429.7,308.8 L2441.3,316.7 L2453.0,324.9 L2464.6,333.5 L2476.3,342.4 L2487.9,351.6 L2499.6,361.2 L2511.3,371.2 L2522.9,381.6 L2534.6,392.4 L2546.2,403.5 L2557.9,415.0 L2569.5,426.9 L2581.2,439.2 L2592.8,451.9 L2604.5,465.0 L2616.2,478.4 L2627.8,492.3 L2639.5,506.5 L2651.1,521.1 L2662.8,536.0 L2674.4,551.3 L2686.1,566.9 L2697.7,582.8 L2709.4,598.9 L2721.1,615.1 L2732.7,631.5 L2744.4,647.9 L2756.0,664.0 L2767.7,679.5 L2779.3,692.9 L2895.9,808.4" fill="none" stroke="#BEBEBE" stroke-opacity="0.3" stroke-width="6.7" stroke-linejoin="round"/>
<path d="M1730.3,184.2 L1742.0,184.2 L1753.6,184.2 L1765.3,184.2 L1776.9,184.2 L1788.6,184.2 L1800.2,184.2 L1811.9,184.2 L1823.5,184.2 L1835.2,184.2 L1846.9,184.2 L1858.5,184.3 L1870.2,184.3 L1881.8,184.3 L1893.5,184.4 L1905.1,184.4 L1916.8,184.5 L1928.5,184.6 L1940.1,184.7 L1951.8,184.8 L1963.4,184.9 L1975.1,185.1 L1986.7,185.3 L1998.4,185.5 L2010.0,185.8 L2021.7,186.1 L2033.4,186.5 L2045.0,186.9 L2056.7,187.3 L2068.3,187.9 L2080.0,188.4 L2091.6,189.1 L2103.3,189.8 L2114.9,190.6 L2126.6,191.5 L2138.3,192.5 L2149.9,193.6 L2161.6,194.8 L2173.2,196.1 L2184.9,197.5 L2196.5,199.1 L2208.2,200.8 L2219.9,202.6 L2231.5,204.6 L2243.2,206.8 L2254.8,209.1 L2266.5,211.6 L2278.1,214.3 L2289.8,217.2 L2301.4,220.3 L2313.1,223.6 L2324.8,227.1 L2336.4,230.9 L2348.1,235.0 L2359.7,239.3 L2371.4,243.9 L2383.0,248.8 L2394.7,254.0 L2406.3,259.5 L2418.0,265.3 L2429.7,271.5 L2441.3,278.0 L2453.0,284.9 L2464.6,292.2 L2476.3,299.9 L2487.9,308.0 L2499.6,316.5 L2511.3,325.5 L2522.9,335.0 L2534.6,344.9 L2546.2,355.3 L2557.9,366.3 L2569.5,377.8 L2581.2,389.8 L2592.8,402.4 L2604.5,415.6 L2616.2,429.5 L2627.8,443.9 L2639.5,459.0 L2651.1,474.8 L2662.8,491.3 L2674.4,508.4 L2686.1,526.4 L2697.7,545.1 L2709.4,564.6 L2721.1,584.9 L2732.7,606.1 L2744.4,628.2 L2756.0,651.2 L2767.7,675.2 L2779.3,700.4 L2895.9,808.4" fill="none" stroke="#BEBEBE" stroke-opacity="0.3" stroke-width="6.7" stroke-linejoin="round"/>
<path d="M1730.3,184.2 L1742.0,184.2 L1753.6,184.2 L1765.3,184.3 L1776.9,184.4 L1788.6,184.5 L1800.2,184.7 L1811.9,184.9 L1823.5,185.3 L1835.2,185.6 L1846.9,186.1 L1858.5,186.6 L1870.2,187.2 L1881.8,187.9 L1893.5,188.7 L1905.1,189.6 L1916.8,190.6 L1928.5,191.7 L1940.1,192.9 L1951.8,194.2 L1963.4,195.6 L1975.1,197.1 L1986.7,198.8 L1998.4,200.6 L2010.0,202.5 L2021.7,204.5 L2033.4,206.7 L2045.0,209.0 L2056.7,211.5 L2068.3,214.1 L2080.0,216.8 L2091.6,219.7 L2103.3,222.7 L2114.9,226.0 L2126.6,229.3 L2138.3,232.8 L2149.9,236.5 L2161.6,240.4 L2173.2,244.4 L2184.9,248.6 L2196.5,253.0 L2208.2,257.5 L2219.9,262.2 L2231.5,267.1 L2243.2,272.2 L2254.8,277.5 L2266.5,283.0 L2278.1,288.6 L2289.8,294.5 L2301.4,300.5 L2313.1,306.8 L2324.8,313.2 L2336.4,319.9 L2348.1,326.7 L2359.7,333.8 L2371.4,341.1 L2383.0,348.5 L2394.7,356.2 L2406.3,364.2 L2418.0,372.3 L2429.7,380.6 L2441.3,389.2 L2453.0,398.0 L2464.6,407.0 L2476.3,416.3 L2487.9,425.7 L2499.6,435.4 L2511.3,445.4 L2522.9,455.5 L2534.6,465.9 L2546.2,476.6 L2557.9,487.5 L2569.5,498.6 L2581.2,509.9 L2592.8,521.5 L2604.5,533.4 L2616.2,545.4 L2627.8,557.8 L2639.5,570.3 L2651.1,583.1 L2662.8,596.2 L2674.4,609.5 L2686.1,623.0 L2697.7,636.8 L2709.4,650.9 L2721.1,665.1 L2732.7,679.6 L2744.4,694.3 L2756.0,709.2 L2767.7,724.2 L2779.3,739.2 L2895.9,808.4" fill="none" stroke="#BEBEBE" stroke-opacity="0.3" stroke-width="6.7" stroke-linejoin="round"/>
<path d="M1730.3,184.2 L1742.0,184.2 L1753.6,184.2 L1765.3,184.2 L1776.9,184.2 L1788.6,184.2 L1800.2,184.2 L1811.9,184.3 L1823.5,184.3 L1835.2,184.4 L1846.9,184.5 L1858.5,184.6 L1870.2,184.7 L1881.8,184.8 L1893.5,185.0 L1905.1,185.3 L1916.8,185.5 L1928.5,185.8 L1940.1,186.2 L1951.8,186.6 L1963.4,187.1 L1975.1,187.6 L1986.7,188.2 L1998.4,188.9 L2010.0,189.6 L2021.7,190.5 L2033.4,191.4 L2045.0,192.4 L2056.7,193.5 L2068.3,194.7 L2080.0,196.0 L2091.6,197.5 L2103.3,199.0 L2114.9,200.7 L2126.6,202.5 L2138.3,204.4 L2149.9,206.5 L2161.6,208.7 L2173.2,211.1 L2184.9,213.6 L2196.5,216.3 L2208.2,219.2 L2219.9,222.3 L2231.5,225.5 L2243.2,228.9 L2254.8,232.6 L2266.5,236.4 L2278.1,240.4 L2289.8,244.7 L2301.4,249.1 L2313.1,253.8 L2324.8,258.8 L2336.4,264.0 L2348.1,269.4 L2359.7,275.0 L2371.4,281.0 L2383.0,287.2 L2394.7,293.7 L2406.3,300.4 L2418.0,307.4 L2429.7,314.8 L2441.3,322.4 L2453.0,330.3 L2464.6,338.6 L2476.3,347.1 L2487.9,356.0 L2499.6,365.2 L2511.3,374.8 L2522.9,384.6 L2534.6,394.9 L2546.2,405.4 L2557.9,416.4 L2569.5,427.6 L2581.2,439.3 L2592.8,451.3 L2604.5,463.7 L2616.2,476.5 L2627.8,489.6 L2639.5,503.1 L2651.1,517.0 L2662.8,531.2 L2674.4,545.9 L2686.1,560.9 L2697.7,576.2 L2709.4,591.9 L2721.1,607.9 L2732.7,624.3 L2744.4,640.8 L2756.0,657.5 L2767.7,674.3 L2779.3,690.2 L2895.9,808.4" fill="none" stroke="#BEBEBE" stroke-opacity="0.3" stroke-width="6.7" stroke-linejoin="round"/>
<path d="M1730.3,184.2 L1742.0,184.2 L1753.6,184.2 L1765.3,184.2 L1776.9,184.2 L1788.6,184.2 L1800.2,184.2 L1811.9,184.2 L1823.5,184.2 L1835.2,184.2 L1846.9,184.2 L1858.5,184.2 L1870.2,184.2 L1881.8,184.2 L1893.5,184.3 L1905.1,184.3 L1916.8,184.3 L1928.5,184.4 L1940.1,184.4 L1951.8,184.5 L1963.4,184.6 L1975.1,184.7 L1986.7,184.8 L1998.4,185.0 L2010.0,185.2 L2021.7,185.4 L2033.4,185.6 L2045.0,185.9 L2056.7,186.2 L2068.3,186.6 L2080.0,187.0 L2091.6,187.5 L2103.3,188.1 L2114.9,188.7 L2126.6,189.4 L2138.3,190.2 L2149.9,191.1 L2161.6,192.0 L2173.2,193.1 L2184.9,194.3 L2196.5,195.6 L2208.2,197.0 L2219.9,198.6 L2231.5,200.3 L2243.2,202.2 L2254.8,204.3 L2266.5,206.5 L2278.1,208.9 L2289.8,211.6 L2301.4,214.4 L2313.1,217.5 L2324.8,220.8 L2336.4,224.4 L2348.1,228.2 L2359.7,232.3 L2371.4,236.7 L2383.0,241.4 L2394.7,246.5 L2406.3,251.8 L2418.0,257.6 L2429.7,263.7 L2441.3,270.2 L2453.0,277.1 L2464.6,284.4 L2476.3,292.1 L2487.9,300.3 L2499.6,309.0 L2511.3,318.2 L2522.9,327.9 L2534.6,338.1 L2546.2,348.9 L2557.9,360.2 L2569.5,372.1 L2581.2,384.6 L2592.8,397.7 L2604.5,411.4 L2616.2,425.8 L2627.8,440.8 L2639.5,456.6 L2651.1,472.9 L2662.8,490.0 L2674.4,507.8 L2686.1,526.3 L2697.7,545.4 L2709.4,565.3 L2721.1,585.7 L2732.7,606.8 L2744.4,628.3 L2756.0,650.2 L2767.7,672.1 L2779.3,692.5 L2895.9,808.4" fill="none" stroke="#BEBEBE" stroke-opacity="0.3" stroke-width="6.7" stroke-linejoin="round"/>
<path d="M1730.3,184.2 L1742.0,184.2 L1753.6,184.2 L1765.3,184.3 L1776.9,184.4 L1788.6,184.5 L1800.2,184.6 L1811.9,184.9 L1823.5,185.1 L1835.2,185.5 L1846.9,185.9 L1858.5,186.3 L1870.2,186.9 L1881.8,187.5 L1893.5,188.2 L1905.1,189.0 L1916.8,189.8 L1928.5,190.8 L1940.1,191.9 L1951.8,193.0 L1963.4,194.3 L1975.1,195.7 L1986.7,197.1 L1998.4,198.7 L2010.0,200.4 L2021.7,202.3 L2033.4,204.2 L2045.0,206.3 L2056.7,208.5 L2068.3,210.8 L2080.0,213.3 L2091.6,215.9 L2103.3,218.7 L2114.9,221.6 L2126.6,224.6 L2138.3,227.8 L2149.9,231.2 L2161.6,234.7 L2173.2,238.3 L2184.9,242.1 L2196.5,246.1 L2208.2,250.3 L2219.9,254.6 L2231.5,259.1 L2243.2,263.8 L2254.8,268.6 L2266.5,273.7 L2278.1,278.9 L2289.8,284.3 L2301.4,289.9 L2313.1,295.7 L2324.8,301.7 L2336.4,307.9 L2348.1,314.3 L2359.7,320.9 L2371.4,327.7 L2383.0,334.7 L2394.7,341.9 L2406.3,349.4 L2418.0,357.1 L2429.7,365.0 L2441.3,373.1 L2453.0,381.5 L2464.6,390.1 L2476.3,398.9 L2487.9,408.0 L2499.6,417.3 L2511.3,426.9 L2522.9,436.8 L2534.6,446.9 L2546.2,457.2 L2557.9,467.9 L2569.5,478.8 L2581.2,490.0 L2592.8,501.5 L2604.5,513.3 L2616.2,525.3 L2627.8,537.7 L2639.5,550.4 L2651.1,563.5 L2662.8,576.8 L2674.4,590.5 L2686.1,604.6 L2697.7,619.1 L2709.4,633.9 L2721.1,649.2 L2732.7,665.0 L2744.4,681.3 L2756.0,698.3 L2767.7,716.0 L2779.3,735.7 L2895.9,808.4" fill="none" stroke="#BEBEBE" stroke-opacity="0.3" stroke-width="6.7" stroke-linejoin="round"/>
<path d="M1730.3,184.2 L1742.0,184.2 L1753.6,184.2 L1765.3,184.2 L1776.9,184.3 L1788.6,184.3 L1800.2,184.5 L1811.9,184.6 L1823.5,184.8 L1835.2,185.0 L1846.9,185.3 L1858.5,185.6 L1870.2,186.0 L1881.8,186.5 L1893.5,187.1 L1905.1,187.7 L1916.8,188.4 L1928.5,189.2 L1940.1,190.1 L1951.8,191.1 L1963.4,192.2 L1975.1,193.3 L1986.7,194.6 L1998.4,196.1 L2010.0,197.6 L2021.7,199.3 L2033.4,201.0 L2045.0,203.0 L2056.7,205.0 L2068.3,207.2 L2080.0,209.5 L2091.6,212.0 L2103.3,214.7 L2114.9,217.4 L2126.6,220.4 L2138.3,223.5 L2149.9,226.8 L2161.6,230.2 L2173.2,233.8 L2184.9,237.6 L2196.5,241.6 L2208.2,245.8 L2219.9,250.1 L2231.5,254.7 L2243.2,259.4 L2254.8,264.3 L2266.5,269.4 L2278.1,274.8 L2289.8,280.3 L2301.4,286.0 L2313.1,292.0 L2324.8,298.2 L2336.4,304.5 L2348.1,311.1 L2359.7,318.0 L2371.4,325.0 L2383.0,332.3 L2394.7,339.8 L2406.3,347.5 L2418.0,355.4 L2429.7,363.6 L2441.3,372.1 L2453.0,380.7 L2464.6,389.6 L2476.3,398.7 L2487.9,408.1 L2499.6,417.7 L2511.3,427.5 L2522.9,437.6 L2534.6,447.9 L2546.2,458.5 L2557.9,469.2 L2569.5,480.3 L2581.2,491.5 L2592.8,503.0 L2604.5,514.7 L2616.2,526.6 L2627.8,538.7 L2639.5,551.1 L2651.1,563.6 L2662.8,576.3 L2674.4,589.2 L2686.1,602.3 L2697.7,615.5 L2709.4,628.8 L2721.1,642.2 L2732.7,655.6 L2744.4,669.0 L2756.0,682.2 L2767.7,695.0 L2779.3,706.5 L2895.9,808.4" fill="none" stroke="#BEBEBE" stroke-opacity="0.3" stroke-width="6.7" stroke-linejoin="round"/>
<path d="M1730.3,184.2 L1742.0,184.2 L1753.6,184.2 L1765.3,184.2 L1776.9,184.2 L1788.6,184.2 L1800.2,184.3 L1811.9,184.3 L1823.5,184.3 L1835.2,184.4 L1846.9,184.5 L1858.5,184.6 L1870.2,184.8 L1881.8,185.0 L1893.5,185.2 L1905.1,185.5 L1916.8,185.8 L1928.5,186.1 L1940.1,186.6 L1951.8,187.1 L1963.4,187.6 L1975.1,188.3 L1986.7,189.0 L1998.4,189.8 L2010.0,190.7 L2021.7,191.7 L2033.4,192.8 L2045.0,194.0 L2056.7,195.3 L2068.3,196.8 L2080.0,198.3 L2091.6,200.0 L2103.3,201.9 L2114.9,203.9 L2126.6,206.0 L2138.3,208.4 L2149.9,210.8 L2161.6,213.5 L2173.2,216.3 L2184.9,219.3 L2196.5,222.6 L2208.2,226.0 L2219.9,229.6 L2231.5,233.4 L2243.2,237.5 L2254.8,241.8 L2266.5,246.3 L2278.1,251.1 L2289.8,256.1 L2301.4,261.4 L2313.1,266.9 L2324.8,272.7 L2336.4,278.8 L2348.1,285.1 L2359.7,291.8 L2371.4,298.7 L2383.0,306.0 L2394.7,313.5 L2406.3,321.4 L2418.0,329.6 L2429.7,338.1 L2441.3,346.9 L2453.0,356.1 L2464.6,365.6 L2476.3,375.4 L2487.9,385.6 L2499.6,396.2 L2511.3,407.1 L2522.9,418.4 L2534.6,430.0 L2546.2,442.0 L2557.9,454.4 L2569.5,467.2 L2581.2,480.3 L2592.8,493.7 L2604.5,507.6 L2616.2,521.8 L2627.8,536.3 L2639.5,551.2 L2651.1,566.5 L2662.8,582.0 L2674.4,597.9 L2686.1,614.0 L2697.7,630.5 L2709.4,647.1 L2721.1,663.9 L2732.7,680.8 L2744.4,697.7 L2756.0,714.4 L2767.7,730.5 L2779.3,744.7 L2895.9,808.4" fill="none" stroke="#BEBEBE" stroke-opacity="0.3" stroke-width="6.7" stroke-linejoin="round"/>
<path d="M1730.3,184.2 L1742.0,184.2 L1753.6,184.2 L1765.3,184.2 L1776.9,184.2 L1788.6,184.2 L1800.2,184.2 L1811.9,184.2 L1823.5,184.3 L1835.2,184.3 L1846.9,184.4 L1858.5,184.5 L1870.2,184.5 L1881.8,184.7 L1893.5,184.8 L1905.1,185.0 L1916.8,185.2 L1928.5,185.5 L1940.1,185.8 L1951.8,186.1 L1963.4,186.5 L1975.1,187.0 L1986.7,187.5 L1998.4,188.1 L2010.0,188.7 L2021.7,189.5 L2033.4,190.3 L2045.0,191.2 L2056.7,192.2 L2068.3,193.3 L2080.0,194.5 L2091.6,195.8 L2103.3,197.3 L2114.9,198.9 L2126.6,200.6 L2138.3,202.4 L2149.9,204.4 L2161.6,206.6 L2173.2,208.9 L2184.9,211.4 L2196.5,214.1 L2208.2,216.9 L2219.9,219.9 L2231.5,223.2 L2243.2,226.6 L2254.8,230.3 L2266.5,234.1 L2278.1,238.3 L2289.8,242.6 L2301.4,247.2 L2313.1,252.0 L2324.8,257.2 L2336.4,262.5 L2348.1,268.2 L2359.7,274.2 L2371.4,280.4 L2383.0,287.0 L2394.7,293.8 L2406.3,301.0 L2418.0,308.5 L2429.7,316.4 L2441.3,324.6 L2453.0,333.2 L2464.6,342.1 L2476.3,351.4 L2487.9,361.1 L2499.6,371.2 L2511.3,381.6 L2522.9,392.5 L2534.6,403.8 L2546.2,415.5 L2557.9,427.6 L2569.5,440.2 L2581.2,453.2 L2592.8,466.6 L2604.5,480.5 L2616.2,494.9 L2627.8,509.7 L2639.5,524.9 L2651.1,540.6 L2662.8,556.8 L2674.4,573.5 L2686.1,590.6 L2697.7,608.1 L2709.4,626.0 L2721.1,644.4 L2732.7,663.1 L2744.4,682.1 L2756.0,701.3 L2767.7,720.5 L2779.3,738.7 L2895.9,808.4" fill="none" stroke="#BEBEBE" stroke-opacity="0.3" stroke-width="6.7" stroke-linejoin="round"/>
<path d="M1730.3,184.2 L1742.0,184.2 L1753.6,184.2 L1765.3,184.2 L1776.9,184.3 L1788.6,184.4 L1800.2,184.5 L1811.9,184.7 L1823.5,184.9 L1835.2,185.1 L1846.9,185.4 L1858.5,185.8 L1870.2,186.3 L1881.8,186.8 L1893.5,187.4 L1905.1,188.1 L1916.8,188.9 L1928.5,189.8 L1940.1,190.7 L1951.8,191.8 L1963.4,193.0 L1975.1,194.3 L1986.7,195.7 L1998.4,197.2 L2010.0,198.9 L2021.7,200.7 L2033.4,202.6 L2045.0,204.7 L2056.7,206.9 L2068.3,209.2 L2080.0,211.7 L2091.6,214.4 L2103.3,217.2 L2114.9,220.1 L2126.6,223.3 L2138.3,226.5 L2149.9,230.0 L2161.6,233.7 L2173.2,237.5 L2184.9,241.5 L2196.5,245.7 L2208.2,250.1 L2219.9,254.6 L2231.5,259.4 L2243.2,264.4 L2254.8,269.5 L2266.5,274.9 L2278.1,280.5 L2289.8,286.2 L2301.4,292.2 L2313.1,298.4 L2324.8,304.9 L2336.4,311.5 L2348.1,318.4 L2359.7,325.5 L2371.4,332.8 L2383.0,340.3 L2394.7,348.1 L2406.3,356.1 L2418.0,364.4 L2429.7,372.8 L2441.3,381.6 L2453.0,390.5 L2464.6,399.7 L2476.3,409.1 L2487.9,418.8 L2499.6,428.7 L2511.3,438.9 L2522.9,449.3 L2534.6,459.9 L2546.2,470.7 L2557.9,481.9 L2569.5,493.2 L2581.2,504.8 L2592.8,516.6 L2604.5,528.6 L2616.2,540.9 L2627.8,553.3 L2639.5,566.0 L2651.1,578.9 L2662.8,592.0 L2674.4,605.2 L2686.1,618.6 L2697.7,632.2 L2709.4,645.9 L2721.1,659.7 L2732.7,673.5 L2744.4,687.3 L2756.0,701.0 L2767.7,714.2 L2779.3,726.2 L2895.9,808.4" fill="none" stroke="#BEBEBE" stroke-opacity="0.3" stroke-width="6.7" stroke-linejoin="round"/>
<path d="M1730.3,184.2 L1742.0,184.2 L1753.6,184.2 L1765.3,184.2 L1776.9,184.2 L1788.6,184.2 L1800.2,184.2 L1811.9,184.2 L1823.5,184.3 L1835.2,184.3 L1846.9,184.4 L1858.5,184.4 L1870.2,184.5 L1881.8,184.7 L1893.5,184.8 L1905.1,185.0 L1916.8,185.2 L1928.5,185.4 L1940.1,185.7 L1951.8,186.0 L1963.4,186.4 L1975.1,186.8 L1986.7,187.3 L1998.4,187.9 L2010.0,188.5 L2021.7,189.2 L2033.4,189.9 L2045.0,190.8 L2056.7,191.7 L2068.3,192.7 L2080.0,193.9 L2091.6,195.1 L2103.3,196.5 L2114.9,197.9 L2126.6,199.5 L2138.3,201.2 L2149.9,203.1 L2161.6,205.1 L2173.2,207.2 L2184.9,209.5 L2196.5,212.0 L2208.2,214.6 L2219.9,217.4 L2231.5,220.4 L2243.2,223.6 L2254.8,226.9 L2266.5,230.5 L2278.1,234.3 L2289.8,238.4 L2301.4,242.6 L2313.1,247.1 L2324.8,251.8 L2336.4,256.8 L2348.1,262.1 L2359.7,267.6 L2371.4,273.4 L2383.0,279.5 L2394.7,285.9 L2406.3,292.7 L2418.0,299.7 L2429.7,307.0 L2441.3,314.7 L2453.0,322.8 L2464.6,331.2 L2476.3,339.9 L2487.9,349.1 L2499.6,358.6 L2511.3,368.5 L2522.9,378.9 L2534.6,389.6 L2546.2,400.8 L2557.9,412.4 L2569.5,424.5 L2581.2,437.1 L2592.8,450.1 L2604.5,463.6 L2616.2,477.6 L2627.8,492.2 L2639.5,507.2 L2651.1,522.8 L2662.8,539.0 L2674.4,555.7 L2686.1,573.0 L2697.7,591.0 L2709.4,609.5 L2721.1,628.7 L2732.7,648.6 L2744.4,669.2 L2756.0,690.5 L2767.7,712.7 L2779.3,736.1 L2895.9,808.4" fill="none" stroke="#BEBEBE" stroke-opacity="0.3" stroke-width="6.7" stroke-linejoin="round"/>
<path d="M1730.3,184.2 L1742.0,184.2 L1753.6,184.2 L1765.3,184.3 L1776.9,184.4 L1788.6,184.5 L1800.2,184.7 L1811.9,184.9 L1823.5,185.2 L1835.2,185.6 L1846.9,186.0 L1858.5,186.5 L1870.2,187.1 L1881.8,187.8 L1893.5,188.6 L1905.1,189.4 L1916.8,190.4 L1928.5,191.4 L1940.1,192.6 L1951.8,193.8 L1963.4,195.2 L1975.1,196.7 L1986.7,198.3 L1998.4,200.0 L2010.0,201.8 L2021.7,203.8 L2033.4,205.9 L2045.0,208.1 L2056.7,210.4 L2068.3,212.9 L2080.0,215.6 L2091.6,218.3 L2103.3,221.3 L2114.9,224.3 L2126.6,227.6 L2138.3,230.9 L2149.9,234.4 L2161.6,238.1 L2173.2,242.0 L2184.9,246.0 L2196.5,250.1 L2208.2,254.5 L2219.9,259.0 L2231.5,263.7 L2243.2,268.5 L2254.8,273.5 L2266.5,278.7 L2278.1,284.1 L2289.8,289.7 L2301.4,295.4 L2313.1,301.3 L2324.8,307.5 L2336.4,313.8 L2348.1,320.2 L2359.7,326.9 L2371.4,333.8 L2383.0,340.9 L2394.7,348.1 L2406.3,355.6 L2418.0,363.3 L2429.7,371.1 L2441.3,379.2 L2453.0,387.5 L2464.6,395.9 L2476.3,404.6 L2487.9,413.5 L2499.6,422.6 L2511.3,431.8 L2522.9,441.3 L2534.6,451.0 L2546.2,461.0 L2557.9,471.1 L2569.5,481.4 L2581.2,491.9 L2592.8,502.7 L2604.5,513.6 L2616.2,524.8 L2627.8,536.1 L2639.5,547.7 L2651.1,559.5 L2662.8,571.4 L2674.4,583.6 L2686.1,595.9 L2697.7,608.4 L2709.4,621.0 L2721.1,633.9 L2732.7,646.8 L2744.4,659.9 L2756.0,673.0 L2767.7,686.1 L2779.3,698.6 L2895.9,808.4" fill="none" stroke="#BEBEBE" stroke-opacity="0.3" stroke-width="6.7" stroke-linejoin="round"/>
<path d="M1730.3,184.2 L1742.0,184.2 L1753.6,184.2 L1765.3,184.2 L1776.9,184.2 L1788.6,184.2 L1800.2,184.3 L1811.9,184.3 L1823.5,184.4 L1835.2,184.5 L1846.9,184.7 L1858.5,184.8 L1870.2,185.0 L1881.8,185.3 L1893.5,185.6 L1905.1,185.9 L1916.8,186.3 L1928.5,186.7 L1940.1,187.3 L1951.8,187.8 L1963.4,188.5 L1975.1,189.2 L1986.7,190.0 L1998.4,190.9 L2010.0,191.9 L2021.7,193.0 L2033.4,194.2 L2045.0,195.5 L2056.7,196.9 L2068.3,198.5 L2080.0,200.1 L2091.6,201.9 L2103.3,203.8 L2114.9,205.8 L2126.6,208.0 L2138.3,210.4 L2149.9,212.8 L2161.6,215.5 L2173.2,218.3 L2184.9,221.3 L2196.5,224.4 L2208.2,227.7 L2219.9,231.2 L2231.5,234.9 L2243.2,238.8 L2254.8,242.9 L2266.5,247.2 L2278.1,251.7 L2289.8,256.4 L2301.4,261.3 L2313.1,266.4 L2324.8,271.8 L2336.4,277.4 L2348.1,283.3 L2359.7,289.3 L2371.4,295.7 L2383.0,302.3 L2394.7,309.1 L2406.3,316.2 L2418.0,323.6 L2429.7,331.2 L2441.3,339.2 L2453.0,347.4 L2464.6,355.8 L2476.3,364.6 L2487.9,373.7 L2499.6,383.0 L2511.3,392.7 L2522.9,402.6 L2534.6,412.9 L2546.2,423.4 L2557.9,434.3 L2569.5,445.5 L2581.2,457.0 L2592.8,468.8 L2604.5,481.0 L2616.2,493.4 L2627.8,506.2 L2639.5,519.2 L2651.1,532.6 L2662.8,546.3 L2674.4,560.3 L2686.1,574.6 L2697.7,589.1 L2709.4,603.9 L2721.1,619.0 L2732.7,634.3 L2744.4,649.7 L2756.0,665.1 L2767.7,680.5 L2779.3,694.9 L2895.9,808.4" fill="none" stroke="#BEBEBE" stroke-opacity="0.3" stroke-width="6.7" stroke-linejoin="round"/>
<path d="M1730.3,184.2 L1742.0,184.2 L1753.6,184.2 L1765.3,184.3 L1776.9,184.4 L1788.6,184.5 L1800.2,184.6 L1811.9,184.9 L1823.5,185.1 L1835.2,185.5 L1846.9,185.9 L1858.5,186.3 L1870.2,186.9 L1881.8,187.5 L1893.5,188.2 L1905.1,189.0 L1916.8,189.8 L1928.5,190.8 L1940.1,191.9 L1951.8,193.0 L1963.4,194.3 L1975.1,195.6 L1986.7,197.1 L1998.4,198.7 L2010.0,200.4 L2021.7,202.2 L2033.4,204.2 L2045.0,206.3 L2056.7,208.5 L2068.3,210.8 L2080.0,213.3 L2091.6,215.9 L2103.3,218.6 L2114.9,221.5 L2126.6,224.5 L2138.3,227.7 L2149.9,231.0 L2161.6,234.5 L2173.2,238.1 L2184.9,241.9 L2196.5,245.9 L2208.2,250.0 L2219.9,254.3 L2231.5,258.8 L2243.2,263.4 L2254.8,268.3 L2266.5,273.3 L2278.1,278.4 L2289.8,283.8 L2301.4,289.4 L2313.1,295.1 L2324.8,301.0 L2336.4,307.2 L2348.1,313.5 L2359.7,320.0 L2371.4,326.8 L2383.0,333.7 L2394.7,340.9 L2406.3,348.3 L2418.0,355.9 L2429.7,363.7 L2441.3,371.7 L2453.0,380.0 L2464.6,388.5 L2476.3,397.2 L2487.9,406.1 L2499.6,415.3 L2511.3,424.8 L2522.9,434.5 L2534.6,444.4 L2546.2,454.6 L2557.9,465.1 L2569.5,475.8 L2581.2,486.8 L2592.8,498.0 L2604.5,509.6 L2616.2,521.4 L2627.8,533.5 L2639.5,546.0 L2651.1,558.7 L2662.8,571.7 L2674.4,585.1 L2686.1,598.8 L2697.7,612.8 L2709.4,627.2 L2721.1,642.0 L2732.7,657.3 L2744.4,672.9 L2756.0,689.2 L2767.7,706.1 L2779.3,724.5 L2895.9,808.4" fill="none" stroke="#BEBEBE" stroke-opacity="0.3" stroke-width="6.7" stroke-linejoin="round"/>
<path d="M1730.3,184.2 L1742.0,184.2 L1753.6,184.2 L1765.3,184.2 L1776.9,184.2 L1788.6,184.2 L1800.2,184.2 L1811.9,184.2 L1823.5,184.3 L1835.2,184.3 L1846.9,184.3 L1858.5,184.4 L1870.2,184.5 L1881.8,184.6 L1893.5,184.7 L1905.1,184.9 L1916.8,185.1 L1928.5,185.3 L1940.1,185.6 L1951.8,185.9 L1963.4,186.2 L1975.1,186.7 L1986.7,187.1 L1998.4,187.7 L2010.0,188.3 L2021.7,189.0 L2033.4,189.8 L2045.0,190.6 L2056.7,191.6 L2068.3,192.6 L2080.0,193.8 L2091.6,195.0 L2103.3,196.4 L2114.9,197.9 L2126.6,199.6 L2138.3,201.4 L2149.9,203.3 L2161.6,205.4 L2173.2,207.7 L2184.9,210.1 L2196.5,212.7 L2208.2,215.5 L2219.9,218.5 L2231.5,221.6 L2243.2,225.0 L2254.8,228.6 L2266.5,232.5 L2278.1,236.5 L2289.8,240.8 L2301.4,245.4 L2313.1,250.2 L2324.8,255.3 L2336.4,260.7 L2348.1,266.3 L2359.7,272.3 L2371.4,278.5 L2383.0,285.1 L2394.7,291.9 L2406.3,299.1 L2418.0,306.7 L2429.7,314.6 L2441.3,322.8 L2453.0,331.4 L2464.6,340.3 L2476.3,349.7 L2487.9,359.4 L2499.6,369.5 L2511.3,380.0 L2522.9,390.9 L2534.6,402.2 L2546.2,413.9 L2557.9,426.1 L2569.5,438.6 L2581.2,451.6 L2592.8,465.0 L2604.5,478.9 L2616.2,493.2 L2627.8,507.9 L2639.5,523.0 L2651.1,538.5 L2662.8,554.5 L2674.4,570.8 L2686.1,587.5 L2697.7,604.6 L2709.4,622.0 L2721.1,639.6 L2732.7,657.5 L2744.4,675.4 L2756.0,693.2 L2767.7,710.6 L2779.3,726.1 L2895.9,808.4" fill="none" stroke="#BEBEBE" stroke-opacity="0.3" stroke-width="6.7" stroke-linejoin="round"/>
<path d="M1730.3,184.2 L1742.0,184.2 L1753.6,184.2 L1765.3,184.2 L1776.9,184.2 L1788.6,184.2 L1800.2,184.2 L1811.9,184.3 L1823.5,184.3 L1835.2,184.3 L1846.9,184.4 L1858.5,184.5 L1870.2,184.6 L1881.8,184.7 L1893.5,184.9 L1905.1,185.1 L1916.8,185.3 L1928.5,185.6 L1940.1,185.9 L1951.8,186.2 L1963.4,186.6 L1975.1,187.0 L1986.7,187.5 L1998.4,188.1 L2010.0,188.7 L2021.7,189.4 L2033.4,190.1 L2045.0,190.9 L2056.7,191.9 L2068.3,192.8 L2080.0,193.9 L2091.6,195.1 L2103.3,196.4 L2114.9,197.8 L2126.6,199.2 L2138.3,200.8 L2149.9,202.6 L2161.6,204.4 L2173.2,206.4 L2184.9,208.5 L2196.5,210.7 L2208.2,213.1 L2219.9,215.7 L2231.5,218.4 L2243.2,221.2 L2254.8,224.3 L2266.5,227.5 L2278.1,230.8 L2289.8,234.4 L2301.4,238.2 L2313.1,242.2 L2324.8,246.3 L2336.4,250.7 L2348.1,255.4 L2359.7,260.2 L2371.4,265.3 L2383.0,270.6 L2394.7,276.2 L2406.3,282.0 L2418.0,288.1 L2429.7,294.5 L2441.3,301.1 L2453.0,308.1 L2464.6,315.3 L2476.3,322.9 L2487.9,330.8 L2499.6,339.0 L2511.3,347.5 L2522.9,356.4 L2534.6,365.7 L2546.2,375.3 L2557.9,385.3 L2569.5,395.7 L2581.2,406.5 L2592.8,417.7 L2604.5,429.3 L2616.2,441.4 L2627.8,454.0 L2639.5,467.1 L2651.1,480.6 L2662.8,494.7 L2674.4,509.3 L2686.1,524.5 L2697.7,540.4 L2709.4,556.9 L2721.1,574.1 L2732.7,592.0 L2744.4,610.9 L2756.0,630.8 L2767.7,652.1 L2779.3,676.6 L2895.9,808.4" fill="none" stroke="#BEBEBE" stroke-opacity="0.3" stroke-width="6.7" stroke-linejoin="round"/>
<path d="M1730.3,184.2 L1742.0,184.2 L1753.6,184.2 L1765.3,184.2 L1776.9,184.3 L1788.6,184.4 L1800.2,184.5 L1811.9,184.6 L1823.5,184.8 L1835.2,185.0 L1846.9,185.3 L1858.5,185.7 L1870.2,186.0 L1881.8,186.5 L1893.5,187.0 L1905.1,187.6 L1916.8,188.3 L1928.5,189.0 L1940.1,189.9 L1951.8,190.8 L1963.4,191.8 L1975.1,192.8 L1986.7,194.0 L1998.4,195.3 L2010.0,196.7 L2021.7,198.2 L2033.4,199.8 L2045.0,201.5 L2056.7,203.3 L2068.3,205.3 L2080.0,207.3 L2091.6,209.5 L2103.3,211.8 L2114.9,214.3 L2126.6,216.9 L2138.3,219.6 L2149.9,222.5 L2161.6,225.5 L2173.2,228.7 L2184.9,232.0 L2196.5,235.4 L2208.2,239.0 L2219.9,242.8 L2231.5,246.8 L2243.2,250.9 L2254.8,255.2 L2266.5,259.6 L2278.1,264.2 L2289.8,269.0 L2301.4,274.0 L2313.1,279.2 L2324.8,284.6 L2336.4,290.1 L2348.1,295.9 L2359.7,301.8 L2371.4,308.0 L2383.0,314.3 L2394.7,320.9 L2406.3,327.6 L2418.0,334.6 L2429.7,341.8 L2441.3,349.2 L2453.0,356.8 L2464.6,364.7 L2476.3,372.8 L2487.9,381.1 L2499.6,389.7 L2511.3,398.5 L2522.9,407.5 L2534.6,416.8 L2546.2,426.3 L2557.9,436.1 L2569.5,446.2 L2581.2,456.5 L2592.8,467.0 L2604.5,477.9 L2616.2,489.0 L2627.8,500.4 L2639.5,512.1 L2651.1,524.1 L2662.8,536.4 L2674.4,548.9 L2686.1,561.8 L2697.7,575.0 L2709.4,588.6 L2721.1,602.4 L2732.7,616.7 L2744.4,631.3 L2756.0,646.3 L2767.7,661.9 L2779.3,678.3 L2895.9,808.4" fill="none" stroke="#BEBEBE" stroke-opacity="0.3" stroke-width="6.7" stroke-linejoin="round"/>
<path d="M1730.3,184.2 L1742.0,184.2 L1753.6,184.2 L1765.3,184.2 L1776.9,184.2 L1788.6,184.2 L1800.2,184.2 L1811.9,184.2 L1823.5,184.2 L1835.2,184.3 L1846.9,184.3 L1858.5,184.3 L1870.2,184.4 L1881.8,184.4 L1893.5,184.5 L1905.1,184.6 L1916.8,184.7 L1928.5,184.8 L1940.1,185.0 L1951.8,185.2 L1963.4,185.4 L1975.1,185.7 L1986.7,186.0 L1998.4,186.4 L2010.0,186.8 L2021.7,187.2 L2033.4,187.7 L2045.0,188.3 L2056.7,189.0 L2068.3,189.7 L2080.0,190.5 L2091.6,191.3 L2103.3,192.3 L2114.9,193.4 L2126.6,194.5 L2138.3,195.8 L2149.9,197.2 L2161.6,198.7 L2173.2,200.3 L2184.9,202.0 L2196.5,203.9 L2208.2,206.0 L2219.9,208.2 L2231.5,210.5 L2243.2,213.0 L2254.8,215.7 L2266.5,218.6 L2278.1,221.6 L2289.8,224.9 L2301.4,228.4 L2313.1,232.0 L2324.8,235.9 L2336.4,240.0 L2348.1,244.4 L2359.7,249.0 L2371.4,253.9 L2383.0,259.0 L2394.7,264.4 L2406.3,270.1 L2418.0,276.1 L2429.7,282.3 L2441.3,288.9 L2453.0,295.8 L2464.6,303.0 L2476.3,310.5 L2487.9,318.4 L2499.6,326.7 L2511.3,335.3 L2522.9,344.2 L2534.6,353.6 L2546.2,363.3 L2557.9,373.4 L2569.5,383.9 L2581.2,394.8 L2592.8,406.1 L2604.5,417.8 L2616.2,430.0 L2627.8,442.6 L2639.5,455.6 L2651.1,469.0 L2662.8,482.8 L2674.4,497.1 L2686.1,511.8 L2697.7,526.9 L2709.4,542.3 L2721.1,558.2 L2732.7,574.3 L2744.4,590.8 L2756.0,607.3 L2767.7,623.8 L2779.3,639.1 L2895.9,808.4" fill="none" stroke="#BEBEBE" stroke-opacity="0.3" stroke-width="6.7" stroke-linejoin="round"/>
<path d="M1730.3,184.2 L1742.0,184.2 L1753.6,184.2 L1765.3,184.2 L1776.9,184.2 L1788.6,184.2 L1800.2,184.2 L1811.9,184.3 L1823.5,184.3 L1835.2,184.3 L1846.9,184.4 L1858.5,184.5 L1870.2,184.6 L1881.8,184.7 L1893.5,184.8 L1905.1,185.0 L1916.8,185.3 L1928.5,185.5 L1940.1,185.8 L1951.8,186.2 L1963.4,186.6 L1975.1,187.0 L1986.7,187.5 L1998.4,188.1 L2010.0,188.8 L2021.7,189.5 L2033.4,190.3 L2045.0,191.2 L2056.7,192.2 L2068.3,193.3 L2080.0,194.5 L2091.6,195.8 L2103.3,197.2 L2114.9,198.8 L2126.6,200.4 L2138.3,202.2 L2149.9,204.1 L2161.6,206.2 L2173.2,208.4 L2184.9,210.8 L2196.5,213.3 L2208.2,216.0 L2219.9,218.9 L2231.5,221.9 L2243.2,225.2 L2254.8,228.6 L2266.5,232.2 L2278.1,236.1 L2289.8,240.1 L2301.4,244.4 L2313.1,248.8 L2324.8,253.5 L2336.4,258.5 L2348.1,263.7 L2359.7,269.1 L2371.4,274.8 L2383.0,280.7 L2394.7,286.9 L2406.3,293.4 L2418.0,300.2 L2429.7,307.2 L2441.3,314.5 L2453.0,322.1 L2464.6,330.0 L2476.3,338.2 L2487.9,346.7 L2499.6,355.5 L2511.3,364.6 L2522.9,374.0 L2534.6,383.8 L2546.2,393.8 L2557.9,404.2 L2569.5,414.9 L2581.2,425.9 L2592.8,437.2 L2604.5,448.9 L2616.2,460.8 L2627.8,473.0 L2639.5,485.5 L2651.1,498.4 L2662.8,511.4 L2674.4,524.8 L2686.1,538.3 L2697.7,552.1 L2709.4,566.0 L2721.1,580.0 L2732.7,594.1 L2744.4,608.1 L2756.0,621.8 L2767.7,634.9 L2779.3,646.1 L2895.9,808.4" fill="none" stroke="#BEBEBE" stroke-opacity="0.3" stroke-width="6.7" stroke-linejoin="round"/>
<path d="M1730.3,184.2 L1742.0,184.2 L1753.6,184.2 L1765.3,184.2 L1776.9,184.3 L1788.6,184.3 L1800.2,184.4 L1811.9,184.5 L1823.5,184.7 L1835.2,184.8 L1846.9,185.1 L1858.5,185.4 L1870.2,185.7 L1881.8,186.1 L1893.5,186.5 L1905.1,187.1 L1916.8,187.7 L1928.5,188.3 L1940.1,189.1 L1951.8,189.9 L1963.4,190.8 L1975.1,191.9 L1986.7,193.0 L1998.4,194.2 L2010.0,195.5 L2021.7,197.0 L2033.4,198.5 L2045.0,200.2 L2056.7,201.9 L2068.3,203.9 L2080.0,205.9 L2091.6,208.1 L2103.3,210.4 L2114.9,212.8 L2126.6,215.4 L2138.3,218.2 L2149.9,221.1 L2161.6,224.1 L2173.2,227.4 L2184.9,230.7 L2196.5,234.3 L2208.2,238.0 L2219.9,241.9 L2231.5,246.0 L2243.2,250.2 L2254.8,254.7 L2266.5,259.3 L2278.1,264.1 L2289.8,269.1 L2301.4,274.3 L2313.1,279.8 L2324.8,285.4 L2336.4,291.2 L2348.1,297.2 L2359.7,303.5 L2371.4,310.0 L2383.0,316.6 L2394.7,323.5 L2406.3,330.7 L2418.0,338.0 L2429.7,345.6 L2441.3,353.5 L2453.0,361.5 L2464.6,369.8 L2476.3,378.3 L2487.9,387.1 L2499.6,396.1 L2511.3,405.4 L2522.9,414.9 L2534.6,424.6 L2546.2,434.6 L2557.9,444.9 L2569.5,455.3 L2581.2,466.1 L2592.8,477.1 L2604.5,488.3 L2616.2,499.8 L2627.8,511.5 L2639.5,523.4 L2651.1,535.6 L2662.8,548.0 L2674.4,560.7 L2686.1,573.5 L2697.7,586.6 L2709.4,599.8 L2721.1,613.2 L2732.7,626.8 L2744.4,640.4 L2756.0,654.0 L2767.7,667.5 L2779.3,680.1 L2895.9,808.4" fill="none" stroke="#BEBEBE" stroke-opacity="0.3" stroke-width="6.7" stroke-linejoin="round"/>
<path d="M1730.3,184.2 L1742.0,184.2 L1753.6,184.2 L1765.3,184.2 L1776.9,184.2 L1788.6,184.2 L1800.2,184.2 L1811.9,184.2 L1823.5,184.2 L1835.2,184.2 L1846.9,184.2 L1858.5,184.2 L1870.2,184.2 L1881.8,184.3 L1893.5,184.3 L1905.1,184.3 L1916.8,184.4 L1928.5,184.4 L1940.1,184.5 L1951.8,184.6 L1963.4,184.7 L1975.1,184.8 L1986.7,185.0 L1998.4,185.1 L2010.0,185.3 L2021.7,185.6 L2033.4,185.8 L2045.0,186.1 L2056.7,186.5 L2068.3,186.9 L2080.0,187.4 L2091.6,187.9 L2103.3,188.5 L2114.9,189.1 L2126.6,189.8 L2138.3,190.6 L2149.9,191.5 L2161.6,192.5 L2173.2,193.6 L2184.9,194.8 L2196.5,196.1 L2208.2,197.6 L2219.9,199.2 L2231.5,200.9 L2243.2,202.7 L2254.8,204.8 L2266.5,206.9 L2278.1,209.3 L2289.8,211.9 L2301.4,214.6 L2313.1,217.6 L2324.8,220.8 L2336.4,224.2 L2348.1,227.8 L2359.7,231.7 L2371.4,235.9 L2383.0,240.4 L2394.7,245.1 L2406.3,250.2 L2418.0,255.5 L2429.7,261.2 L2441.3,267.3 L2453.0,273.7 L2464.6,280.5 L2476.3,287.6 L2487.9,295.2 L2499.6,303.2 L2511.3,311.6 L2522.9,320.5 L2534.6,329.9 L2546.2,339.7 L2557.9,350.0 L2569.5,360.8 L2581.2,372.2 L2592.8,384.1 L2604.5,396.6 L2616.2,409.6 L2627.8,423.2 L2639.5,437.4 L2651.1,452.2 L2662.8,467.7 L2674.4,483.8 L2686.1,500.5 L2697.7,517.8 L2709.4,535.8 L2721.1,554.4 L2732.7,573.6 L2744.4,593.3 L2756.0,613.5 L2767.7,633.9 L2779.3,653.6 L2895.9,808.4" fill="none" stroke="#BEBEBE" stroke-opacity="0.3" stroke-width="6.7" stroke-linejoin="round"/>
<path d="M1730.3,184.2 L1742.0,184.2 L1753.6,184.2 L1765.3,184.2 L1776.9,184.2 L1788.6,184.2 L1800.2,184.2 L1811.9,184.2 L1823.5,184.2 L1835.2,184.2 L1846.9,184.3 L1858.5,184.3 L1870.2,184.4 L1881.8,184.4 L1893.5,184.5 L1905.1,184.6 L1916.8,184.7 L1928.5,184.9 L1940.1,185.0 L1951.8,185.2 L1963.4,185.5 L1975.1,185.7 L1986.7,186.1 L1998.4,186.4 L2010.0,186.8 L2021.7,187.3 L2033.4,187.9 L2045.0,188.5 L2056.7,189.2 L2068.3,189.9 L2080.0,190.7 L2091.6,191.7 L2103.3,192.7 L2114.9,193.8 L2126.6,195.1 L2138.3,196.4 L2149.9,197.9 L2161.6,199.5 L2173.2,201.2 L2184.9,203.1 L2196.5,205.1 L2208.2,207.3 L2219.9,209.7 L2231.5,212.2 L2243.2,214.9 L2254.8,217.8 L2266.5,220.9 L2278.1,224.2 L2289.8,227.7 L2301.4,231.4 L2313.1,235.4 L2324.8,239.6 L2336.4,244.0 L2348.1,248.7 L2359.7,253.7 L2371.4,258.9 L2383.0,264.5 L2394.7,270.3 L2406.3,276.4 L2418.0,282.9 L2429.7,289.6 L2441.3,296.7 L2453.0,304.1 L2464.6,311.9 L2476.3,320.0 L2487.9,328.5 L2499.6,337.3 L2511.3,346.6 L2522.9,356.2 L2534.6,366.2 L2546.2,376.5 L2557.9,387.3 L2569.5,398.5 L2581.2,410.1 L2592.8,422.2 L2604.5,434.6 L2616.2,447.4 L2627.8,460.7 L2639.5,474.3 L2651.1,488.4 L2662.8,502.9 L2674.4,517.7 L2686.1,532.9 L2697.7,548.5 L2709.4,564.3 L2721.1,580.4 L2732.7,596.6 L2744.4,612.9 L2756.0,629.1 L2767.7,644.8 L2779.3,658.5 L2895.9,808.4" fill="none" stroke="#BEBEBE" stroke-opacity="0.3" stroke-width="6.7" stroke-linejoin="round"/>
<path d="M1730.3,184.2 L1742.0,184.2 L1753.6,184.2 L1765.3,184.2 L1776.9,184.2 L1788.6,184.2 L1800.2,184.2 L1811.9,184.2 L1823.5,184.2 L1835.2,184.2 L1846.9,184.2 L1858.5,184.2 L1870.2,184.2 L1881.8,184.2 L1893.5,184.2 L1905.1,184.2 L1916.8,184.2 L1928.5,184.3 L1940.1,184.3 L1951.8,184.3 L1963.4,184.3 L1975.1,184.4 L1986.7,184.4 L1998.4,184.5 L2010.0,184.5 L2021.7,184.6 L2033.4,184.7 L2045.0,184.9 L2056.7,185.0 L2068.3,185.2 L2080.0,185.4 L2091.6,185.6 L2103.3,185.9 L2114.9,186.2 L2126.6,186.5 L2138.3,186.9 L2149.9,187.3 L2161.6,187.8 L2173.2,188.4 L2184.9,189.0 L2196.5,189.7 L2208.2,190.5 L2219.9,191.4 L2231.5,192.4 L2243.2,193.5 L2254.8,194.7 L2266.5,196.0 L2278.1,197.5 L2289.8,199.1 L2301.4,200.8 L2313.1,202.8 L2324.8,204.9 L2336.4,207.2 L2348.1,209.6 L2359.7,212.4 L2371.4,215.3 L2383.0,218.5 L2394.7,221.9 L2406.3,225.7 L2418.0,229.7 L2429.7,234.0 L2441.3,238.7 L2453.0,243.7 L2464.6,249.1 L2476.3,254.9 L2487.9,261.1 L2499.6,267.7 L2511.3,274.8 L2522.9,282.4 L2534.6,290.4 L2546.2,299.0 L2557.9,308.2 L2569.5,318.0 L2581.2,328.3 L2592.8,339.3 L2604.5,351.0 L2616.2,363.4 L2627.8,376.5 L2639.5,390.5 L2651.1,405.2 L2662.8,420.7 L2674.4,437.1 L2686.1,454.5 L2697.7,472.8 L2709.4,492.1 L2721.1,512.4 L2732.7,533.8 L2744.4,556.3 L2756.0,579.9 L2767.7,604.7 L2779.3,630.6 L2895.9,808.4" fill="none" stroke="#BEBEBE" stroke-opacity="0.3" stroke-width="6.7" stroke-linejoin="round"/>
<path d="M1730.3,184.2 L1742.0,184.2 L1753.6,184.2 L1765.3,184.2 L1776.9,184.2 L1788.6,184.2 L1800.2,184.2 L1811.9,184.2 L1823.5,184.2 L1835.2,184.2 L1846.9,184.2 L1858.5,184.3 L1870.2,184.3 L1881.8,184.3 L1893.5,184.4 L1905.1,184.4 L1916.8,184.5 L1928.5,184.6 L1940.1,184.7 L1951.8,184.9 L1963.4,185.1 L1975.1,185.3 L1986.7,185.5 L1998.4,185.8 L2010.0,186.1 L2021.7,186.4 L2033.4,186.9 L2045.0,187.3 L2056.7,187.8 L2068.3,188.4 L2080.0,189.1 L2091.6,189.8 L2103.3,190.7 L2114.9,191.6 L2126.6,192.6 L2138.3,193.7 L2149.9,194.9 L2161.6,196.2 L2173.2,197.7 L2184.9,199.2 L2196.5,200.9 L2208.2,202.8 L2219.9,204.8 L2231.5,207.0 L2243.2,209.3 L2254.8,211.8 L2266.5,214.5 L2278.1,217.4 L2289.8,220.5 L2301.4,223.8 L2313.1,227.3 L2324.8,231.1 L2336.4,235.0 L2348.1,239.3 L2359.7,243.8 L2371.4,248.6 L2383.0,253.6 L2394.7,259.0 L2406.3,264.6 L2418.0,270.5 L2429.7,276.8 L2441.3,283.4 L2453.0,290.3 L2464.6,297.6 L2476.3,305.3 L2487.9,313.3 L2499.6,321.7 L2511.3,330.4 L2522.9,339.6 L2534.6,349.2 L2546.2,359.2 L2557.9,369.6 L2569.5,380.4 L2581.2,391.7 L2592.8,403.4 L2604.5,415.5 L2616.2,428.1 L2627.8,441.1 L2639.5,454.5 L2651.1,468.4 L2662.8,482.7 L2674.4,497.5 L2686.1,512.6 L2697.7,528.1 L2709.4,543.9 L2721.1,560.0 L2732.7,576.4 L2744.4,592.8 L2756.0,609.1 L2767.7,624.9 L2779.3,638.8 L2895.9,808.4" fill="none" stroke="#BEBEBE" stroke-opacity="0.3" stroke-width="6.7" stroke-linejoin="round"/>
<path d="M1730.3,184.2 L1742.0,184.2 L1753.6,184.2 L1765.3,184.2 L1776.9,184.3 L1788.6,184.3 L1800.2,184.4 L1811.9,184.5 L1823.5,184.6 L1835.2,184.8 L1846.9,185.0 L1858.5,185.2 L1870.2,185.5 L1881.8,185.9 L1893.5,186.3 L1905.1,186.8 L1916.8,187.3 L1928.5,187.9 L1940.1,188.6 L1951.8,189.4 L1963.4,190.2 L1975.1,191.2 L1986.7,192.2 L1998.4,193.3 L2010.0,194.5 L2021.7,195.9 L2033.4,197.3 L2045.0,198.8 L2056.7,200.5 L2068.3,202.2 L2080.0,204.1 L2091.6,206.2 L2103.3,208.3 L2114.9,210.6 L2126.6,213.0 L2138.3,215.6 L2149.9,218.3 L2161.6,221.1 L2173.2,224.1 L2184.9,227.3 L2196.5,230.6 L2208.2,234.1 L2219.9,237.7 L2231.5,241.5 L2243.2,245.5 L2254.8,249.7 L2266.5,254.0 L2278.1,258.5 L2289.8,263.2 L2301.4,268.1 L2313.1,273.2 L2324.8,278.4 L2336.4,283.9 L2348.1,289.6 L2359.7,295.4 L2371.4,301.5 L2383.0,307.8 L2394.7,314.3 L2406.3,321.0 L2418.0,327.9 L2429.7,335.0 L2441.3,342.4 L2453.0,350.0 L2464.6,357.7 L2476.3,365.8 L2487.9,374.0 L2499.6,382.5 L2511.3,391.2 L2522.9,400.1 L2534.6,409.2 L2546.2,418.6 L2557.9,428.2 L2569.5,438.0 L2581.2,448.1 L2592.8,458.4 L2604.5,468.9 L2616.2,479.6 L2627.8,490.6 L2639.5,501.8 L2651.1,513.1 L2662.8,524.7 L2674.4,536.5 L2686.1,548.4 L2697.7,560.5 L2709.4,572.8 L2721.1,585.2 L2732.7,597.7 L2744.4,610.2 L2756.0,622.6 L2767.7,634.8 L2779.3,646.0 L2895.9,808.4" fill="none" stroke="#BEBEBE" stroke-opacity="0.3" stroke-width="6.7" stroke-linejoin="round"/>
<path d="M1730.3,184.2 L1742.0,184.2 L1753.6,184.2 L1765.3,184.2 L1776.9,184.2 L1788.6,184.3 L1800.2,184.3 L1811.9,184.4 L1823.5,184.5 L1835.2,184.6 L1846.9,184.8 L1858.5,185.0 L1870.2,185.2 L1881.8,185.5 L1893.5,185.9 L1905.1,186.3 L1916.8,186.7 L1928.5,187.2 L1940.1,187.8 L1951.8,188.5 L1963.4,189.2 L1975.1,190.0 L1986.7,190.9 L1998.4,191.9 L2010.0,192.9 L2021.7,194.1 L2033.4,195.4 L2045.0,196.7 L2056.7,198.2 L2068.3,199.8 L2080.0,201.5 L2091.6,203.3 L2103.3,205.3 L2114.9,207.4 L2126.6,209.6 L2138.3,211.9 L2149.9,214.4 L2161.6,217.1 L2173.2,219.9 L2184.9,222.8 L2196.5,225.9 L2208.2,229.2 L2219.9,232.6 L2231.5,236.2 L2243.2,239.9 L2254.8,243.9 L2266.5,248.0 L2278.1,252.3 L2289.8,256.8 L2301.4,261.5 L2313.1,266.4 L2324.8,271.5 L2336.4,276.8 L2348.1,282.3 L2359.7,288.0 L2371.4,293.9 L2383.0,300.0 L2394.7,306.4 L2406.3,313.0 L2418.0,319.8 L2429.7,326.8 L2441.3,334.1 L2453.0,341.6 L2464.6,349.4 L2476.3,357.3 L2487.9,365.6 L2499.6,374.1 L2511.3,382.8 L2522.9,391.8 L2534.6,401.0 L2546.2,410.5 L2557.9,420.2 L2569.5,430.2 L2581.2,440.5 L2592.8,451.0 L2604.5,461.8 L2616.2,472.8 L2627.8,484.1 L2639.5,495.7 L2651.1,507.5 L2662.8,519.5 L2674.4,531.8 L2686.1,544.3 L2697.7,557.0 L2709.4,570.0 L2721.1,583.1 L2732.7,596.4 L2744.4,609.8 L2756.0,623.2 L2767.7,636.6 L2779.3,649.1 L2895.9,808.4" fill="none" stroke="#BEBEBE" stroke-opacity="0.3" stroke-width="6.7" stroke-linejoin="round"/>
<path d="M1730.3,184.2 L1742.0,184.2 L1753.6,184.2 L1765.3,184.3 L1776.9,184.3 L1788.6,184.4 L1800.2,184.6 L1811.9,184.8 L1823.5,185.0 L1835.2,185.3 L1846.9,185.7 L1858.5,186.1 L1870.2,186.6 L1881.8,187.1 L1893.5,187.8 L1905.1,188.5 L1916.8,189.2 L1928.5,190.1 L1940.1,191.0 L1951.8,192.1 L1963.4,193.2 L1975.1,194.4 L1986.7,195.7 L1998.4,197.1 L2010.0,198.6 L2021.7,200.2 L2033.4,201.9 L2045.0,203.8 L2056.7,205.7 L2068.3,207.8 L2080.0,209.9 L2091.6,212.2 L2103.3,214.6 L2114.9,217.2 L2126.6,219.8 L2138.3,222.6 L2149.9,225.5 L2161.6,228.5 L2173.2,231.7 L2184.9,235.0 L2196.5,238.5 L2208.2,242.1 L2219.9,245.8 L2231.5,249.7 L2243.2,253.7 L2254.8,257.9 L2266.5,262.2 L2278.1,266.7 L2289.8,271.3 L2301.4,276.1 L2313.1,281.0 L2324.8,286.1 L2336.4,291.4 L2348.1,296.8 L2359.7,302.4 L2371.4,308.1 L2383.0,314.0 L2394.7,320.1 L2406.3,326.4 L2418.0,332.8 L2429.7,339.4 L2441.3,346.2 L2453.0,353.2 L2464.6,360.3 L2476.3,367.6 L2487.9,375.1 L2499.6,382.8 L2511.3,390.7 L2522.9,398.7 L2534.6,407.0 L2546.2,415.4 L2557.9,424.0 L2569.5,432.8 L2581.2,441.9 L2592.8,451.0 L2604.5,460.4 L2616.2,470.0 L2627.8,479.8 L2639.5,489.8 L2651.1,500.0 L2662.8,510.3 L2674.4,520.9 L2686.1,531.7 L2697.7,542.6 L2709.4,553.8 L2721.1,565.1 L2732.7,576.6 L2744.4,588.4 L2756.0,600.2 L2767.7,612.3 L2779.3,624.3 L2895.9,808.4" fill="none" stroke="#BEBEBE" stroke-opacity="0.3" stroke-width="6.7" stroke-linejoin="round"/>
<path d="M1730.3,184.2 L1742.0,184.2 L1753.6,184.2 L1765.3,184.2 L1776.9,184.2 L1788.6,184.2 L1800.2,184.2 L1811.9,184.2 L1823.5,184.2 L1835.2,184.2 L1846.9,184.2 L1858.5,184.2 L1870.2,184.2 L1881.8,184.3 L1893.5,184.3 L1905.1,184.3 L1916.8,184.4 L1928.5,184.4 L1940.1,184.5 L1951.8,184.5 L1963.4,184.6 L1975.1,184.7 L1986.7,184.9 L1998.4,185.0 L2010.0,185.2 L2021.7,185.4 L2033.4,185.7 L2045.0,186.0 L2056.7,186.3 L2068.3,186.7 L2080.0,187.2 L2091.6,187.6 L2103.3,188.2 L2114.9,188.8 L2126.6,189.5 L2138.3,190.3 L2149.9,191.2 L2161.6,192.1 L2173.2,193.2 L2184.9,194.4 L2196.5,195.6 L2208.2,197.1 L2219.9,198.6 L2231.5,200.3 L2243.2,202.1 L2254.8,204.1 L2266.5,206.2 L2278.1,208.5 L2289.8,211.1 L2301.4,213.8 L2313.1,216.7 L2324.8,219.8 L2336.4,223.2 L2348.1,226.8 L2359.7,230.6 L2371.4,234.8 L2383.0,239.1 L2394.7,243.8 L2406.3,248.8 L2418.0,254.1 L2429.7,259.7 L2441.3,265.7 L2453.0,272.0 L2464.6,278.7 L2476.3,285.7 L2487.9,293.1 L2499.6,301.0 L2511.3,309.2 L2522.9,317.9 L2534.6,327.1 L2546.2,336.6 L2557.9,346.7 L2569.5,357.2 L2581.2,368.2 L2592.8,379.7 L2604.5,391.6 L2616.2,404.1 L2627.8,417.1 L2639.5,430.7 L2651.1,444.7 L2662.8,459.2 L2674.4,474.3 L2686.1,489.8 L2697.7,505.8 L2709.4,522.2 L2721.1,539.0 L2732.7,556.1 L2744.4,573.3 L2756.0,590.5 L2767.7,607.3 L2779.3,622.0 L2895.9,808.4" fill="none" stroke="#BEBEBE" stroke-opacity="0.3" stroke-width="6.7" stroke-linejoin="round"/>
<path d="M1730.3,184.2 L1742.0,184.2 L1753.6,184.2 L1765.3,184.2 L1776.9,184.2 L1788.6,184.2 L1800.2,184.2 L1811.9,184.2 L1823.5,184.2 L1835.2,184.3 L1846.9,184.3 L1858.5,184.3 L1870.2,184.4 L1881.8,184.5 L1893.5,184.5 L1905.1,184.7 L1916.8,184.8 L1928.5,185.0 L1940.1,185.1 L1951.8,185.4 L1963.4,185.6 L1975.1,185.9 L1986.7,186.3 L1998.4,186.7 L2010.0,187.2 L2021.7,187.7 L2033.4,188.3 L2045.0,188.9 L2056.7,189.7 L2068.3,190.5 L2080.0,191.4 L2091.6,192.4 L2103.3,193.4 L2114.9,194.6 L2126.6,195.9 L2138.3,197.4 L2149.9,198.9 L2161.6,200.6 L2173.2,202.4 L2184.9,204.4 L2196.5,206.5 L2208.2,208.8 L2219.9,211.2 L2231.5,213.8 L2243.2,216.6 L2254.8,219.6 L2266.5,222.8 L2278.1,226.1 L2289.8,229.7 L2301.4,233.6 L2313.1,237.6 L2324.8,241.9 L2336.4,246.4 L2348.1,251.2 L2359.7,256.3 L2371.4,261.6 L2383.0,267.2 L2394.7,273.1 L2406.3,279.3 L2418.0,285.8 L2429.7,292.6 L2441.3,299.7 L2453.0,307.2 L2464.6,315.0 L2476.3,323.1 L2487.9,331.6 L2499.6,340.5 L2511.3,349.7 L2522.9,359.3 L2534.6,369.3 L2546.2,379.7 L2557.9,390.4 L2569.5,401.6 L2581.2,413.2 L2592.8,425.2 L2604.5,437.6 L2616.2,450.4 L2627.8,463.6 L2639.5,477.2 L2651.1,491.2 L2662.8,505.6 L2674.4,520.4 L2686.1,535.6 L2697.7,551.1 L2709.4,566.9 L2721.1,583.0 L2732.7,599.4 L2744.4,615.8 L2756.0,632.2 L2767.7,648.2 L2779.3,662.5 L2895.9,808.4" fill="none" stroke="#BEBEBE" stroke-opacity="0.3" stroke-width="6.7" stroke-linejoin="round"/>
<path d="M1730.3,184.2 L1742.0,184.2 L1753.6,184.2 L1765.3,184.2 L1776.9,184.2 L1788.6,184.2 L1800.2,184.2 L1811.9,184.2 L1823.5,184.2 L1835.2,184.2 L1846.9,184.2 L1858.5,184.2 L1870.2,184.2 L1881.8,184.2 L1893.5,184.3 L1905.1,184.3 L1916.8,184.3 L1928.5,184.4 L1940.1,184.4 L1951.8,184.5 L1963.4,184.5 L1975.1,184.6 L1986.7,184.7 L1998.4,184.9 L2010.0,185.0 L2021.7,185.2 L2033.4,185.4 L2045.0,185.6 L2056.7,185.9 L2068.3,186.2 L2080.0,186.6 L2091.6,187.0 L2103.3,187.4 L2114.9,187.9 L2126.6,188.5 L2138.3,189.1 L2149.9,189.8 L2161.6,190.5 L2173.2,191.4 L2184.9,192.3 L2196.5,193.4 L2208.2,194.5 L2219.9,195.7 L2231.5,197.1 L2243.2,198.5 L2254.8,200.1 L2266.5,201.9 L2278.1,203.8 L2289.8,205.8 L2301.4,208.0 L2313.1,210.4 L2324.8,213.0 L2336.4,215.7 L2348.1,218.7 L2359.7,221.8 L2371.4,225.2 L2383.0,228.9 L2394.7,232.8 L2406.3,236.9 L2418.0,241.4 L2429.7,246.1 L2441.3,251.1 L2453.0,256.4 L2464.6,262.1 L2476.3,268.1 L2487.9,274.5 L2499.6,281.2 L2511.3,288.3 L2522.9,295.9 L2534.6,303.9 L2546.2,312.3 L2557.9,321.1 L2569.5,330.5 L2581.2,340.3 L2592.8,350.7 L2604.5,361.6 L2616.2,373.1 L2627.8,385.1 L2639.5,397.8 L2651.1,411.1 L2662.8,425.0 L2674.4,439.6 L2686.1,454.9 L2697.7,470.9 L2709.4,487.7 L2721.1,505.2 L2732.7,523.6 L2744.4,542.8 L2756.0,562.9 L2767.7,584.0 L2779.3,606.2 L2895.9,808.4" fill="none" stroke="#BEBEBE" stroke-opacity="0.3" stroke-width="6.7" stroke-linejoin="round"/>
<path d="M1730.3,184.2 L1742.0,184.2 L1753.6,184.2 L1765.3,184.2 L1776.9,184.2 L1788.6,184.2 L1800.2,184.2 L1811.9,184.2 L1823.5,184.2 L1835.2,184.2 L1846.9,184.3 L1858.5,184.3 L1870.2,184.3 L1881.8,184.4 L1893.5,184.4 L1905.1,184.5 L1916.8,184.6 L1928.5,184.7 L1940.1,184.8 L1951.8,185.0 L1963.4,185.2 L1975.1,185.4 L1986.7,185.6 L1998.4,185.9 L2010.0,186.2 L2021.7,186.6 L2033.4,187.0 L2045.0,187.5 L2056.7,188.1 L2068.3,188.7 L2080.0,189.3 L2091.6,190.0 L2103.3,190.9 L2114.9,191.8 L2126.6,192.7 L2138.3,193.8 L2149.9,195.0 L2161.6,196.2 L2173.2,197.6 L2184.9,199.1 L2196.5,200.7 L2208.2,202.5 L2219.9,204.4 L2231.5,206.4 L2243.2,208.5 L2254.8,210.9 L2266.5,213.3 L2278.1,216.0 L2289.8,218.8 L2301.4,221.8 L2313.1,225.0 L2324.8,228.4 L2336.4,232.0 L2348.1,235.8 L2359.7,239.8 L2371.4,244.1 L2383.0,248.5 L2394.7,253.3 L2406.3,258.2 L2418.0,263.4 L2429.7,268.9 L2441.3,274.7 L2453.0,280.7 L2464.6,287.0 L2476.3,293.6 L2487.9,300.5 L2499.6,307.7 L2511.3,315.3 L2522.9,323.1 L2534.6,331.3 L2546.2,339.7 L2557.9,348.6 L2569.5,357.7 L2581.2,367.2 L2592.8,377.1 L2604.5,387.2 L2616.2,397.8 L2627.8,408.6 L2639.5,419.9 L2651.1,431.4 L2662.8,443.3 L2674.4,455.5 L2686.1,468.0 L2697.7,480.8 L2709.4,493.8 L2721.1,507.0 L2732.7,520.4 L2744.4,533.9 L2756.0,547.2 L2767.7,560.1 L2779.3,571.4 L2895.9,808.4" fill="none" stroke="#BEBEBE" stroke-opacity="0.3" stroke-width="6.7" stroke-linejoin="round"/>
<path d="M1730.3,184.2 L1742.0,184.2 L1753.6,184.2 L1765.3,184.2 L1776.9,184.2 L1788.6,184.2 L1800.2,184.2 L1811.9,184.2 L1823.5,184.2 L1835.2,184.2 L1846.9,184.2 L1858.5,184.2 L1870.2,184.2 L1881.8,184.2 L1893.5,184.2 L1905.1,184.3 L1916.8,184.3 L1928.5,184.3 L1940.1,184.4 L1951.8,184.4 L1963.4,184.5 L1975.1,184.6 L1986.7,184.6 L1998.4,184.7 L2010.0,184.9 L2021.7,185.0 L2033.4,185.2 L2045.0,185.4 L2056.7,185.6 L2068.3,185.9 L2080.0,186.2 L2091.6,186.5 L2103.3,186.9 L2114.9,187.3 L2126.6,187.8 L2138.3,188.4 L2149.9,189.0 L2161.6,189.7 L2173.2,190.4 L2184.9,191.3 L2196.5,192.2 L2208.2,193.2 L2219.9,194.3 L2231.5,195.6 L2243.2,196.9 L2254.8,198.4 L2266.5,200.0 L2278.1,201.7 L2289.8,203.6 L2301.4,205.7 L2313.1,207.9 L2324.8,210.3 L2336.4,212.8 L2348.1,215.6 L2359.7,218.6 L2371.4,221.9 L2383.0,225.3 L2394.7,229.0 L2406.3,233.0 L2418.0,237.2 L2429.7,241.8 L2441.3,246.6 L2453.0,251.8 L2464.6,257.3 L2476.3,263.1 L2487.9,269.3 L2499.6,276.0 L2511.3,283.0 L2522.9,290.4 L2534.6,298.3 L2546.2,306.7 L2557.9,315.5 L2569.5,324.9 L2581.2,334.8 L2592.8,345.2 L2604.5,356.3 L2616.2,367.9 L2627.8,380.2 L2639.5,393.1 L2651.1,406.8 L2662.8,421.1 L2674.4,436.3 L2686.1,452.2 L2697.7,469.0 L2709.4,486.7 L2721.1,505.3 L2732.7,525.0 L2744.4,545.8 L2756.0,567.8 L2767.7,591.2 L2779.3,617.2 L2895.9,808.4" fill="none" stroke="#BEBEBE" stroke-opacity="0.3" stroke-width="6.7" stroke-linejoin="round"/>
<path d="M1730.3,184.2 L1742.0,184.2 L1753.6,184.2 L1765.3,184.2 L1776.9,184.2 L1788.6,184.2 L1800.2,184.2 L1811.9,184.2 L1823.5,184.2 L1835.2,184.2 L1846.9,184.2 L1858.5,184.2 L1870.2,184.2 L1881.8,184.3 L1893.5,184.3 L1905.1,184.3 L1916.8,184.4 L1928.5,184.4 L1940.1,184.5 L1951.8,184.6 L1963.4,184.7 L1975.1,184.8 L1986.7,184.9 L1998.4,185.1 L2010.0,185.3 L2021.7,185.5 L2033.4,185.8 L2045.0,186.1 L2056.7,186.4 L2068.3,186.8 L2080.0,187.2 L2091.6,187.7 L2103.3,188.2 L2114.9,188.8 L2126.6,189.4 L2138.3,190.2 L2149.9,191.0 L2161.6,191.9 L2173.2,192.8 L2184.9,193.9 L2196.5,195.1 L2208.2,196.3 L2219.9,197.7 L2231.5,199.2 L2243.2,200.9 L2254.8,202.7 L2266.5,204.6 L2278.1,206.6 L2289.8,208.9 L2301.4,211.3 L2313.1,213.8 L2324.8,216.6 L2336.4,219.6 L2348.1,222.7 L2359.7,226.1 L2371.4,229.7 L2383.0,233.5 L2394.7,237.6 L2406.3,242.0 L2418.0,246.6 L2429.7,251.5 L2441.3,256.6 L2453.0,262.1 L2464.6,267.9 L2476.3,274.1 L2487.9,280.6 L2499.6,287.4 L2511.3,294.6 L2522.9,302.2 L2534.6,310.2 L2546.2,318.6 L2557.9,327.5 L2569.5,336.8 L2581.2,346.5 L2592.8,356.7 L2604.5,367.4 L2616.2,378.6 L2627.8,390.4 L2639.5,402.7 L2651.1,415.5 L2662.8,428.9 L2674.4,443.0 L2686.1,457.6 L2697.7,472.8 L2709.4,488.7 L2721.1,505.3 L2732.7,522.5 L2744.4,540.4 L2756.0,559.1 L2767.7,578.4 L2779.3,598.4 L2895.9,808.4" fill="none" stroke="#BEBEBE" stroke-opacity="0.3" stroke-width="6.7" stroke-linejoin="round"/>
<path d="M1730.3,184.2 L1742.0,184.2 L1753.6,184.2 L1765.3,184.2 L1776.9,184.2 L1788.6,184.2 L1800.2,184.2 L1811.9,184.2 L1823.5,184.2 L1835.2,184.2 L1846.9,184.2 L1858.5,184.2 L1870.2,184.3 L1881.8,184.3 L1893.5,184.3 L1905.1,184.4 L1916.8,184.4 L1928.5,184.5 L1940.1,184.6 L1951.8,184.7 L1963.4,184.8 L1975.1,185.0 L1986.7,185.1 L1998.4,185.3 L2010.0,185.6 L2021.7,185.9 L2033.4,186.2 L2045.0,186.6 L2056.7,187.0 L2068.3,187.4 L2080.0,188.0 L2091.6,188.6 L2103.3,189.2 L2114.9,190.0 L2126.6,190.8 L2138.3,191.7 L2149.9,192.7 L2161.6,193.8 L2173.2,195.1 L2184.9,196.4 L2196.5,197.8 L2208.2,199.4 L2219.9,201.2 L2231.5,203.0 L2243.2,205.1 L2254.8,207.2 L2266.5,209.6 L2278.1,212.1 L2289.8,214.9 L2301.4,217.8 L2313.1,220.9 L2324.8,224.3 L2336.4,227.9 L2348.1,231.7 L2359.7,235.8 L2371.4,240.1 L2383.0,244.7 L2394.7,249.6 L2406.3,254.8 L2418.0,260.2 L2429.7,266.0 L2441.3,272.1 L2453.0,278.6 L2464.6,285.4 L2476.3,292.5 L2487.9,300.0 L2499.6,307.9 L2511.3,316.2 L2522.9,324.9 L2534.6,333.9 L2546.2,343.4 L2557.9,353.4 L2569.5,363.7 L2581.2,374.5 L2592.8,385.8 L2604.5,397.5 L2616.2,409.6 L2627.8,422.2 L2639.5,435.3 L2651.1,448.8 L2662.8,462.8 L2674.4,477.2 L2686.1,492.1 L2697.7,507.3 L2709.4,522.9 L2721.1,538.8 L2732.7,554.9 L2744.4,571.2 L2756.0,587.4 L2767.7,603.1 L2779.3,616.8 L2895.9,808.4" fill="none" stroke="#BEBEBE" stroke-opacity="0.3" stroke-width="6.7" stroke-linejoin="round"/>
<path d="M1730.3,184.2 L1742.0,184.2 L1753.6,184.2 L1765.3,184.2 L1776.9,184.2 L1788.6,184.2 L1800.2,184.2 L1811.9,184.2 L1823.5,184.2 L1835.2,184.2 L1846.9,184.2 L1858.5,184.2 L1870.2,184.2 L1881.8,184.2 L1893.5,184.2 L1905.1,184.3 L1916.8,184.3 L1928.5,184.3 L1940.1,184.3 L1951.8,184.4 L1963.4,184.4 L1975.1,184.5 L1986.7,184.6 L1998.4,184.7 L2010.0,184.8 L2021.7,184.9 L2033.4,185.0 L2045.0,185.2 L2056.7,185.4 L2068.3,185.7 L2080.0,185.9 L2091.6,186.2 L2103.3,186.6 L2114.9,187.0 L2126.6,187.4 L2138.3,187.9 L2149.9,188.5 L2161.6,189.2 L2173.2,189.9 L2184.9,190.7 L2196.5,191.5 L2208.2,192.5 L2219.9,193.6 L2231.5,194.8 L2243.2,196.1 L2254.8,197.5 L2266.5,199.0 L2278.1,200.7 L2289.8,202.6 L2301.4,204.6 L2313.1,206.8 L2324.8,209.1 L2336.4,211.7 L2348.1,214.5 L2359.7,217.4 L2371.4,220.6 L2383.0,224.1 L2394.7,227.8 L2406.3,231.8 L2418.0,236.0 L2429.7,240.6 L2441.3,245.5 L2453.0,250.7 L2464.6,256.2 L2476.3,262.1 L2487.9,268.4 L2499.6,275.1 L2511.3,282.1 L2522.9,289.7 L2534.6,297.6 L2546.2,306.1 L2557.9,315.0 L2569.5,324.4 L2581.2,334.4 L2592.8,344.9 L2604.5,356.0 L2616.2,367.7 L2627.8,379.9 L2639.5,392.8 L2651.1,406.4 L2662.8,420.6 L2674.4,435.5 L2686.1,451.2 L2697.7,467.5 L2709.4,484.6 L2721.1,502.4 L2732.7,520.9 L2744.4,540.2 L2756.0,560.2 L2767.7,580.7 L2779.3,601.2 L2895.9,808.4" fill="none" stroke="#BEBEBE" stroke-opacity="0.3" stroke-width="6.7" stroke-linejoin="round"/>
<path d="M1730.3,184.2 L1742.0,184.2 L1753.6,184.2 L1765.3,184.2 L1776.9,184.2 L1788.6,184.2 L1800.2,184.2 L1811.9,184.2 L1823.5,184.2 L1835.2,184.2 L1846.9,184.2 L1858.5,184.2 L1870.2,184.2 L1881.8,184.2 L1893.5,184.2 L1905.1,184.3 L1916.8,184.3 L1928.5,184.3 L1940.1,184.3 L1951.8,184.4 L1963.4,184.4 L1975.1,184.5 L1986.7,184.6 L1998.4,184.6 L2010.0,184.7 L2021.7,184.9 L2033.4,185.0 L2045.0,185.2 L2056.7,185.4 L2068.3,185.6 L2080.0,185.9 L2091.6,186.2 L2103.3,186.6 L2114.9,187.0 L2126.6,187.4 L2138.3,187.9 L2149.9,188.5 L2161.6,189.1 L2173.2,189.9 L2184.9,190.7 L2196.5,191.5 L2208.2,192.5 L2219.9,193.6 L2231.5,194.8 L2243.2,196.1 L2254.8,197.6 L2266.5,199.1 L2278.1,200.8 L2289.8,202.7 L2301.4,204.8 L2313.1,207.0 L2324.8,209.4 L2336.4,212.0 L2348.1,214.8 L2359.7,217.8 L2371.4,221.1 L2383.0,224.6 L2394.7,228.4 L2406.3,232.5 L2418.0,236.8 L2429.7,241.5 L2441.3,246.5 L2453.0,251.8 L2464.6,257.5 L2476.3,263.6 L2487.9,270.0 L2499.6,276.9 L2511.3,284.2 L2522.9,291.9 L2534.6,300.2 L2546.2,308.9 L2557.9,318.1 L2569.5,327.8 L2581.2,338.1 L2592.8,349.0 L2604.5,360.5 L2616.2,372.6 L2627.8,385.3 L2639.5,398.7 L2651.1,412.8 L2662.8,427.6 L2674.4,443.1 L2686.1,459.4 L2697.7,476.4 L2709.4,494.2 L2721.1,512.8 L2732.7,532.3 L2744.4,552.5 L2756.0,573.4 L2767.7,595.0 L2779.3,616.7 L2895.9,808.4" fill="none" stroke="#BEBEBE" stroke-opacity="0.3" stroke-width="6.7" stroke-linejoin="round"/>
<path d="M1730.3,184.2 L1742.0,184.2 L1753.6,184.2 L1765.3,184.2 L1776.9,184.2 L1788.6,184.2 L1800.2,184.2 L1811.9,184.2 L1823.5,184.2 L1835.2,184.3 L1846.9,184.3 L1858.5,184.3 L1870.2,184.4 L1881.8,184.4 L1893.5,184.5 L1905.1,184.6 L1916.8,184.7 L1928.5,184.9 L1940.1,185.1 L1951.8,185.3 L1963.4,185.5 L1975.1,185.8 L1986.7,186.1 L1998.4,186.4 L2010.0,186.8 L2021.7,187.2 L2033.4,187.7 L2045.0,188.3 L2056.7,188.9 L2068.3,189.6 L2080.0,190.4 L2091.6,191.2 L2103.3,192.1 L2114.9,193.1 L2126.6,194.2 L2138.3,195.4 L2149.9,196.7 L2161.6,198.1 L2173.2,199.6 L2184.9,201.2 L2196.5,203.0 L2208.2,204.9 L2219.9,206.9 L2231.5,209.0 L2243.2,211.4 L2254.8,213.8 L2266.5,216.4 L2278.1,219.2 L2289.8,222.2 L2301.4,225.3 L2313.1,228.7 L2324.8,232.2 L2336.4,235.9 L2348.1,239.9 L2359.7,244.0 L2371.4,248.4 L2383.0,253.0 L2394.7,257.9 L2406.3,263.0 L2418.0,268.4 L2429.7,274.0 L2441.3,279.9 L2453.0,286.1 L2464.6,292.5 L2476.3,299.3 L2487.9,306.3 L2499.6,313.7 L2511.3,321.4 L2522.9,329.4 L2534.6,337.8 L2546.2,346.5 L2557.9,355.5 L2569.5,365.0 L2581.2,374.8 L2592.8,384.9 L2604.5,395.5 L2616.2,406.4 L2627.8,417.8 L2639.5,429.5 L2651.1,441.7 L2662.8,454.3 L2674.4,467.3 L2686.1,480.8 L2697.7,494.7 L2709.4,509.0 L2721.1,523.7 L2732.7,538.9 L2744.4,554.5 L2756.0,570.5 L2767.7,586.8 L2779.3,603.0 L2895.9,808.4" fill="none" stroke="#BEBEBE" stroke-opacity="0.3" stroke-width="6.7" stroke-linejoin="round"/>
<path d="M1730.3,184.2 L1742.0,184.2 L1753.6,184.2 L1765.3,184.2 L1776.9,184.2 L1788.6,184.2 L1800.2,184.2 L1811.9,184.2 L1823.5,184.2 L1835.2,184.2 L1846.9,184.2 L1858.5,184.2 L1870.2,184.2 L1881.8,184.2 L1893.5,184.2 L1905.1,184.2 L1916.8,184.3 L1928.5,184.3 L1940.1,184.3 L1951.8,184.4 L1963.4,184.4 L1975.1,184.5 L1986.7,184.5 L1998.4,184.6 L2010.0,184.7 L2021.7,184.8 L2033.4,184.9 L2045.0,185.1 L2056.7,185.2 L2068.3,185.4 L2080.0,185.7 L2091.6,185.9 L2103.3,186.2 L2114.9,186.6 L2126.6,186.9 L2138.3,187.4 L2149.9,187.8 L2161.6,188.4 L2173.2,189.0 L2184.9,189.6 L2196.5,190.3 L2208.2,191.1 L2219.9,192.0 L2231.5,193.0 L2243.2,194.0 L2254.8,195.2 L2266.5,196.5 L2278.1,197.9 L2289.8,199.4 L2301.4,201.0 L2313.1,202.8 L2324.8,204.7 L2336.4,206.8 L2348.1,209.1 L2359.7,211.5 L2371.4,214.1 L2383.0,217.0 L2394.7,220.0 L2406.3,223.3 L2418.0,226.8 L2429.7,230.5 L2441.3,234.6 L2453.0,238.9 L2464.6,243.4 L2476.3,248.3 L2487.9,253.6 L2499.6,259.1 L2511.3,265.1 L2522.9,271.4 L2534.6,278.1 L2546.2,285.2 L2557.9,292.8 L2569.5,300.9 L2581.2,309.4 L2592.8,318.5 L2604.5,328.1 L2616.2,338.2 L2627.8,349.0 L2639.5,360.4 L2651.1,372.5 L2662.8,385.3 L2674.4,398.9 L2686.1,413.3 L2697.7,428.5 L2709.4,444.7 L2721.1,461.9 L2732.7,480.3 L2744.4,499.9 L2756.0,521.1 L2767.7,544.3 L2779.3,571.8 L2895.9,808.4" fill="none" stroke="#BEBEBE" stroke-opacity="0.3" stroke-width="6.7" stroke-linejoin="round"/>
<path d="M1730.3,184.2 L1742.0,184.2 L1753.6,184.2 L1765.3,184.2 L1776.9,184.2 L1788.6,184.2 L1800.2,184.2 L1811.9,184.2 L1823.5,184.2 L1835.2,184.2 L1846.9,184.2 L1858.5,184.2 L1870.2,184.2 L1881.8,184.2 L1893.5,184.2 L1905.1,184.2 L1916.8,184.2 L1928.5,184.3 L1940.1,184.3 L1951.8,184.3 L1963.4,184.3 L1975.1,184.4 L1986.7,184.4 L1998.4,184.5 L2010.0,184.5 L2021.7,184.6 L2033.4,184.7 L2045.0,184.8 L2056.7,185.0 L2068.3,185.1 L2080.0,185.3 L2091.6,185.5 L2103.3,185.8 L2114.9,186.1 L2126.6,186.4 L2138.3,186.8 L2149.9,187.2 L2161.6,187.6 L2173.2,188.2 L2184.9,188.8 L2196.5,189.4 L2208.2,190.2 L2219.9,191.0 L2231.5,191.9 L2243.2,192.9 L2254.8,194.0 L2266.5,195.2 L2278.1,196.6 L2289.8,198.0 L2301.4,199.6 L2313.1,201.4 L2324.8,203.3 L2336.4,205.4 L2348.1,207.7 L2359.7,210.2 L2371.4,212.8 L2383.0,215.7 L2394.7,218.8 L2406.3,222.2 L2418.0,225.8 L2429.7,229.7 L2441.3,233.9 L2453.0,238.4 L2464.6,243.2 L2476.3,248.4 L2487.9,253.9 L2499.6,259.7 L2511.3,266.0 L2522.9,272.7 L2534.6,279.8 L2546.2,287.4 L2557.9,295.5 L2569.5,304.0 L2581.2,313.1 L2592.8,322.6 L2604.5,332.8 L2616.2,343.5 L2627.8,354.9 L2639.5,366.9 L2651.1,379.5 L2662.8,392.8 L2674.4,406.8 L2686.1,421.5 L2697.7,436.9 L2709.4,453.1 L2721.1,470.0 L2732.7,487.7 L2744.4,506.1 L2756.0,525.3 L2767.7,545.0 L2779.3,564.6 L2895.9,808.4" fill="none" stroke="#BEBEBE" stroke-opacity="0.3" stroke-width="6.7" stroke-linejoin="round"/>
<path d="M1730.3,184.2 L1742.0,184.2 L1753.6,184.2 L1765.3,184.2 L1776.9,184.2 L1788.6,184.2 L1800.2,184.2 L1811.9,184.2 L1823.5,184.2 L1835.2,184.2 L1846.9,184.2 L1858.5,184.2 L1870.2,184.2 L1881.8,184.2 L1893.5,184.2 L1905.1,184.2 L1916.8,184.2 L1928.5,184.2 L1940.1,184.2 L1951.8,184.2 L1963.4,184.3 L1975.1,184.3 L1986.7,184.3 L1998.4,184.3 L2010.0,184.4 L2021.7,184.4 L2033.4,184.4 L2045.0,184.5 L2056.7,184.6 L2068.3,184.7 L2080.0,184.8 L2091.6,184.9 L2103.3,185.0 L2114.9,185.2 L2126.6,185.4 L2138.3,185.6 L2149.9,185.8 L2161.6,186.1 L2173.2,186.4 L2184.9,186.8 L2196.5,187.2 L2208.2,187.7 L2219.9,188.2 L2231.5,188.8 L2243.2,189.4 L2254.8,190.2 L2266.5,191.0 L2278.1,191.9 L2289.8,192.9 L2301.4,194.0 L2313.1,195.3 L2324.8,196.6 L2336.4,198.1 L2348.1,199.8 L2359.7,201.6 L2371.4,203.5 L2383.0,205.7 L2394.7,208.1 L2406.3,210.6 L2418.0,213.4 L2429.7,216.5 L2441.3,219.8 L2453.0,223.4 L2464.6,227.3 L2476.3,231.5 L2487.9,236.0 L2499.6,241.0 L2511.3,246.3 L2522.9,252.0 L2534.6,258.1 L2546.2,264.8 L2557.9,271.9 L2569.5,279.6 L2581.2,287.8 L2592.8,296.6 L2604.5,306.1 L2616.2,316.2 L2627.8,327.1 L2639.5,338.8 L2651.1,351.2 L2662.8,364.6 L2674.4,378.9 L2686.1,394.2 L2697.7,410.7 L2709.4,428.3 L2721.1,447.2 L2732.7,467.6 L2744.4,489.6 L2756.0,513.5 L2767.7,540.0 L2779.3,571.7 L2895.9,808.4" fill="none" stroke="#BEBEBE" stroke-opacity="0.3" stroke-width="6.7" stroke-linejoin="round"/>
<path d="M1730.3,184.2 L1742.0,184.2 L1753.6,184.2 L1765.3,184.2 L1776.9,184.2 L1788.6,184.2 L1800.2,184.2 L1811.9,184.2 L1823.5,184.2 L1835.2,184.2 L1846.9,184.2 L1858.5,184.2 L1870.2,184.2 L1881.8,184.2 L1893.5,184.2 L1905.1,184.2 L1916.8,184.2 L1928.5,184.2 L1940.1,184.2 L1951.8,184.2 L1963.4,184.2 L1975.1,184.3 L1986.7,184.3 L1998.4,184.3 L2010.0,184.3 L2021.7,184.4 L2033.4,184.4 L2045.0,184.4 L2056.7,184.5 L2068.3,184.6 L2080.0,184.7 L2091.6,184.8 L2103.3,184.9 L2114.9,185.0 L2126.6,185.2 L2138.3,185.4 L2149.9,185.6 L2161.6,185.9 L2173.2,186.2 L2184.9,186.5 L2196.5,186.9 L2208.2,187.3 L2219.9,187.8 L2231.5,188.4 L2243.2,189.0 L2254.8,189.7 L2266.5,190.5 L2278.1,191.4 L2289.8,192.3 L2301.4,193.4 L2313.1,194.6 L2324.8,196.0 L2336.4,197.5 L2348.1,199.1 L2359.7,200.9 L2371.4,202.9 L2383.0,205.1 L2394.7,207.5 L2406.3,210.1 L2418.0,213.0 L2429.7,216.1 L2441.3,219.5 L2453.0,223.3 L2464.6,227.3 L2476.3,231.7 L2487.9,236.4 L2499.6,241.6 L2511.3,247.1 L2522.9,253.1 L2534.6,259.6 L2546.2,266.6 L2557.9,274.2 L2569.5,282.3 L2581.2,291.0 L2592.8,300.4 L2604.5,310.5 L2616.2,321.3 L2627.8,332.9 L2639.5,345.3 L2651.1,358.7 L2662.8,372.9 L2674.4,388.2 L2686.1,404.5 L2697.7,421.9 L2709.4,440.6 L2721.1,460.5 L2732.7,481.9 L2744.4,504.8 L2756.0,529.4 L2767.7,556.1 L2779.3,586.1 L2895.9,808.4" fill="none" stroke="#BEBEBE" stroke-opacity="0.3" stroke-width="6.7" stroke-linejoin="round"/>
<path d="M1730.3,184.2 L1742.0,184.2 L1753.6,184.2 L1765.3,184.2 L1776.9,184.2 L1788.6,184.2 L1800.2,184.2 L1811.9,184.2 L1823.5,184.2 L1835.2,184.2 L1846.9,184.2 L1858.5,184.2 L1870.2,184.2 L1881.8,184.3 L1893.5,184.3 L1905.1,184.3 L1916.8,184.4 L1928.5,184.4 L1940.1,184.5 L1951.8,184.6 L1963.4,184.7 L1975.1,184.8 L1986.7,184.9 L1998.4,185.1 L2010.0,185.3 L2021.7,185.5 L2033.4,185.7 L2045.0,186.0 L2056.7,186.4 L2068.3,186.8 L2080.0,187.2 L2091.6,187.7 L2103.3,188.2 L2114.9,188.8 L2126.6,189.5 L2138.3,190.3 L2149.9,191.1 L2161.6,192.0 L2173.2,193.0 L2184.9,194.2 L2196.5,195.4 L2208.2,196.7 L2219.9,198.2 L2231.5,199.7 L2243.2,201.5 L2254.8,203.3 L2266.5,205.3 L2278.1,207.5 L2289.8,209.9 L2301.4,212.4 L2313.1,215.1 L2324.8,218.0 L2336.4,221.1 L2348.1,224.4 L2359.7,228.0 L2371.4,231.8 L2383.0,235.8 L2394.7,240.1 L2406.3,244.7 L2418.0,249.5 L2429.7,254.6 L2441.3,260.1 L2453.0,265.8 L2464.6,271.9 L2476.3,278.3 L2487.9,285.0 L2499.6,292.1 L2511.3,299.6 L2522.9,307.4 L2534.6,315.6 L2546.2,324.3 L2557.9,333.3 L2569.5,342.8 L2581.2,352.7 L2592.8,363.0 L2604.5,373.8 L2616.2,385.0 L2627.8,396.7 L2639.5,408.8 L2651.1,421.4 L2662.8,434.5 L2674.4,448.0 L2686.1,462.0 L2697.7,476.4 L2709.4,491.2 L2721.1,506.3 L2732.7,521.8 L2744.4,537.5 L2756.0,553.3 L2767.7,568.8 L2779.3,582.7 L2895.9,808.4" fill="none" stroke="#BEBEBE" stroke-opacity="0.3" stroke-width="6.7" stroke-linejoin="round"/>
<path d="M1730.3,184.2 L1742.0,184.2 L1753.6,184.2 L1765.3,184.2 L1776.9,184.2 L1788.6,184.2 L1800.2,184.2 L1811.9,184.2 L1823.5,184.2 L1835.2,184.2 L1846.9,184.2 L1858.5,184.2 L1870.2,184.2 L1881.8,184.2 L1893.5,184.2 L1905.1,184.2 L1916.8,184.2 L1928.5,184.2 L1940.1,184.3 L1951.8,184.3 L1963.4,184.3 L1975.1,184.4 L1986.7,184.4 L1998.4,184.5 L2010.0,184.5 L2021.7,184.6 L2033.4,184.7 L2045.0,184.8 L2056.7,185.0 L2068.3,185.1 L2080.0,185.3 L2091.6,185.5 L2103.3,185.8 L2114.9,186.0 L2126.6,186.4 L2138.3,186.7 L2149.9,187.2 L2161.6,187.6 L2173.2,188.2 L2184.9,188.8 L2196.5,189.5 L2208.2,190.2 L2219.9,191.1 L2231.5,192.0 L2243.2,193.0 L2254.8,194.2 L2266.5,195.4 L2278.1,196.8 L2289.8,198.3 L2301.4,200.0 L2313.1,201.8 L2324.8,203.8 L2336.4,206.0 L2348.1,208.3 L2359.7,210.9 L2371.4,213.6 L2383.0,216.6 L2394.7,219.8 L2406.3,223.3 L2418.0,227.0 L2429.7,231.0 L2441.3,235.3 L2453.0,239.9 L2464.6,244.9 L2476.3,250.1 L2487.9,255.8 L2499.6,261.8 L2511.3,268.1 L2522.9,274.9 L2534.6,282.1 L2546.2,289.8 L2557.9,297.9 L2569.5,306.4 L2581.2,315.4 L2592.8,325.0 L2604.5,335.0 L2616.2,345.6 L2627.8,356.6 L2639.5,368.3 L2651.1,380.4 L2662.8,393.2 L2674.4,406.4 L2686.1,420.2 L2697.7,434.5 L2709.4,449.3 L2721.1,464.5 L2732.7,480.1 L2744.4,496.0 L2756.0,511.8 L2767.7,527.3 L2779.3,540.7 L2895.9,808.4" fill="none" stroke="#BEBEBE" stroke-opacity="0.3" stroke-width="6.7" stroke-linejoin="round"/>
<path d="M1730.3,184.2 L1742.0,184.2 L1753.6,184.2 L1765.3,184.2 L1776.9,184.2 L1788.6,184.2 L1800.2,184.2 L1811.9,184.2 L1823.5,184.2 L1835.2,184.2 L1846.9,184.2 L1858.5,184.3 L1870.2,184.3 L1881.8,184.3 L1893.5,184.4 L1905.1,184.5 L1916.8,184.5 L1928.5,184.6 L1940.1,184.8 L1951.8,184.9 L1963.4,185.1 L1975.1,185.3 L1986.7,185.5 L1998.4,185.7 L2010.0,186.0 L2021.7,186.4 L2033.4,186.8 L2045.0,187.2 L2056.7,187.7 L2068.3,188.2 L2080.0,188.8 L2091.6,189.5 L2103.3,190.3 L2114.9,191.1 L2126.6,192.0 L2138.3,193.0 L2149.9,194.0 L2161.6,195.2 L2173.2,196.5 L2184.9,197.9 L2196.5,199.4 L2208.2,201.0 L2219.9,202.7 L2231.5,204.6 L2243.2,206.6 L2254.8,208.8 L2266.5,211.1 L2278.1,213.6 L2289.8,216.2 L2301.4,219.0 L2313.1,222.0 L2324.8,225.1 L2336.4,228.5 L2348.1,232.1 L2359.7,235.8 L2371.4,239.8 L2383.0,244.0 L2394.7,248.4 L2406.3,253.1 L2418.0,258.0 L2429.7,263.2 L2441.3,268.6 L2453.0,274.3 L2464.6,280.2 L2476.3,286.4 L2487.9,293.0 L2499.6,299.8 L2511.3,306.9 L2522.9,314.3 L2534.6,322.0 L2546.2,330.0 L2557.9,338.4 L2569.5,347.0 L2581.2,356.0 L2592.8,365.4 L2604.5,375.0 L2616.2,385.0 L2627.8,395.3 L2639.5,406.0 L2651.1,417.0 L2662.8,428.3 L2674.4,439.9 L2686.1,451.7 L2697.7,463.9 L2709.4,476.3 L2721.1,488.9 L2732.7,501.7 L2744.4,514.5 L2756.0,527.2 L2767.7,539.5 L2779.3,550.3 L2895.9,808.4" fill="none" stroke="#BEBEBE" stroke-opacity="0.3" stroke-width="6.7" stroke-linejoin="round"/>
<path d="M1730.3,184.2 L1742.0,184.2 L1753.6,184.2 L1765.3,184.2 L1776.9,184.2 L1788.6,184.3 L1800.2,184.3 L1811.9,184.4 L1823.5,184.4 L1835.2,184.5 L1846.9,184.5 L1858.5,184.6 L1870.2,184.7 L1881.8,184.7 L1893.5,184.8 L1905.1,184.9 L1916.8,185.0 L1928.5,185.1 L1940.1,185.3 L1951.8,185.4 L1963.4,185.5 L1975.1,185.7 L1986.7,185.8 L1998.4,186.0 L2010.0,186.1 L2021.7,186.3 L2033.4,186.5 L2045.0,186.7 L2056.7,186.9 L2068.3,187.1 L2080.0,187.3 L2091.6,187.8 L2103.3,188.7 L2114.9,190.0 L2126.6,191.6 L2138.3,193.6 L2149.9,195.9 L2161.6,198.4 L2173.2,201.0 L2184.9,203.9 L2196.5,206.8 L2208.2,209.8 L2219.9,212.8 L2231.5,215.9 L2243.2,218.8 L2254.8,221.7 L2266.5,224.6 L2278.1,227.9 L2289.8,231.4 L2301.4,235.1 L2313.1,238.9 L2324.8,242.6 L2336.4,246.3 L2348.1,249.8 L2359.7,253.0 L2371.4,256.0 L2383.0,258.8 L2394.7,261.6 L2406.3,264.4 L2418.0,267.1 L2429.7,269.4 L2441.3,271.4 L2453.0,272.9 L2464.6,273.9 L2476.3,274.7 L2487.9,275.3 L2499.6,275.8 L2511.3,276.2 L2522.9,276.6 L2534.6,277.0 L2546.2,277.3 L2557.9,277.7 L2569.5,278.2 L2581.2,278.7 L2592.8,279.4 L2604.5,280.2 L2616.2,281.3 L2627.8,282.8 L2639.5,284.6 L2651.1,286.8 L2662.8,289.4 L2674.4,292.4 L2686.1,295.7 L2697.7,299.9 L2709.4,306.1 L2721.1,314.4 L2732.7,325.0 L2744.4,340.3 L2756.0,360.6 L2767.7,389.2 L2779.3,424.5 L2895.9,808.4" fill="none" stroke="#BEBEBE" stroke-opacity="0.3" stroke-width="6.7" stroke-linejoin="round"/>
<path d="M1730.3,184.2 L1742.0,184.2 L1753.6,184.2 L1765.3,184.2 L1776.9,184.2 L1788.6,184.2 L1800.2,184.2 L1811.9,184.2 L1823.5,184.2 L1835.2,184.2 L1846.9,184.2 L1858.5,184.2 L1870.2,184.2 L1881.8,184.2 L1893.5,184.2 L1905.1,184.2 L1916.8,184.3 L1928.5,184.3 L1940.1,184.3 L1951.8,184.3 L1963.4,184.4 L1975.1,184.4 L1986.7,184.5 L1998.4,184.5 L2010.0,184.6 L2021.7,184.7 L2033.4,184.8 L2045.0,185.0 L2056.7,185.1 L2068.3,185.3 L2080.0,185.5 L2091.6,185.8 L2103.3,186.0 L2114.9,186.3 L2126.6,186.7 L2138.3,187.1 L2149.9,187.5 L2161.6,188.0 L2173.2,188.5 L2184.9,189.2 L2196.5,189.8 L2208.2,190.6 L2219.9,191.4 L2231.5,192.3 L2243.2,193.3 L2254.8,194.4 L2266.5,195.6 L2278.1,196.9 L2289.8,198.3 L2301.4,199.8 L2313.1,201.5 L2324.8,203.3 L2336.4,205.3 L2348.1,207.4 L2359.7,209.7 L2371.4,212.2 L2383.0,214.9 L2394.7,217.7 L2406.3,220.8 L2418.0,224.1 L2429.7,227.7 L2441.3,231.5 L2453.0,235.6 L2464.6,239.9 L2476.3,244.5 L2487.9,249.5 L2499.6,254.8 L2511.3,260.4 L2522.9,266.3 L2534.6,272.7 L2546.2,279.4 L2557.9,286.6 L2569.5,294.2 L2581.2,302.2 L2592.8,310.7 L2604.5,319.8 L2616.2,329.3 L2627.8,339.4 L2639.5,350.1 L2651.1,361.4 L2662.8,373.3 L2674.4,385.9 L2686.1,399.2 L2697.7,413.3 L2709.4,428.2 L2721.1,443.9 L2732.7,460.6 L2744.4,478.3 L2756.0,497.1 L2767.7,517.3 L2779.3,540.0 L2895.9,808.4" fill="none" stroke="#BEBEBE" stroke-opacity="0.3" stroke-width="6.7" stroke-linejoin="round"/>
<path d="M1730.3,184.2 L1742.0,184.2 L1753.6,184.2 L1765.3,184.2 L1776.9,184.2 L1788.6,184.2 L1800.2,184.2 L1811.9,184.2 L1823.5,184.2 L1835.2,184.2 L1846.9,184.2 L1858.5,184.2 L1870.2,184.2 L1881.8,184.2 L1893.5,184.2 L1905.1,184.2 L1916.8,184.2 L1928.5,184.2 L1940.1,184.2 L1951.8,184.2 L1963.4,184.2 L1975.1,184.2 L1986.7,184.2 L1998.4,184.2 L2010.0,184.2 L2021.7,184.2 L2033.4,184.2 L2045.0,184.2 L2056.7,184.2 L2068.3,184.2 L2080.0,184.2 L2091.6,184.2 L2103.3,184.2 L2114.9,184.2 L2126.6,184.2 L2138.3,184.2 L2149.9,184.2 L2161.6,184.2 L2173.2,184.2 L2184.9,184.2 L2196.5,184.2 L2208.2,184.2 L2219.9,184.2 L2231.5,184.2 L2243.2,184.2 L2254.8,184.2 L2266.5,184.2 L2278.1,184.2 L2289.8,184.2 L2301.4,184.2 L2313.1,184.2 L2324.8,184.3 L2336.4,184.7 L2348.1,185.3 L2359.7,186.1 L2371.4,187.1 L2383.0,188.2 L2394.7,189.5 L2406.3,190.8 L2418.0,192.2 L2429.7,193.6 L2441.3,195.1 L2453.0,197.0 L2464.6,199.2 L2476.3,201.7 L2487.9,204.5 L2499.6,207.5 L2511.3,210.8 L2522.9,214.2 L2534.6,217.8 L2546.2,221.7 L2557.9,226.1 L2569.5,231.4 L2581.2,237.3 L2592.8,243.5 L2604.5,249.7 L2616.2,256.2 L2627.8,263.1 L2639.5,270.2 L2651.1,277.3 L2662.8,284.1 L2674.4,290.2 L2686.1,296.0 L2697.7,301.8 L2709.4,308.0 L2721.1,315.3 L2732.7,323.7 L2744.4,334.0 L2756.0,347.8 L2767.7,367.4 L2779.3,391.4 L2895.9,808.4" fill="none" stroke="#BEBEBE" stroke-opacity="0.3" stroke-width="6.7" stroke-linejoin="round"/>
<line x1="2779.3" x2="2779.3" y1="839.6" y2="153.2" stroke="#FF0000" stroke-width="4.4" stroke-dasharray="17.8,17.8"/>
</g>
<text x="1730.3" y="886.1" font-size="36.5" text-anchor="middle" fill="#4D4D4D">0.00</text>
<text x="1651" y="821.9" font-size="36.5" text-anchor="end" fill="#4D4D4D">0.00</text>
<text x="2021.7" y="886.1" font-size="36.5" text-anchor="middle" fill="#4D4D4D">0.25</text>
<text x="1651" y="665.8" font-size="36.5" text-anchor="end" fill="#4D4D4D">0.25</text>
<text x="2313.1" y="886.1" font-size="36.5" text-anchor="middle" fill="#4D4D4D">0.50</text>
<text x="1651" y="509.8" font-size="36.5" text-anchor="end" fill="#4D4D4D">0.50</text>
<text x="2604.5" y="886.1" font-size="36.5" text-anchor="middle" fill="#4D4D4D">0.75</text>
<text x="1651" y="353.7" font-size="36.5" text-anchor="end" fill="#4D4D4D">0.75</text>
<text x="2895.9" y="886.1" font-size="36.5" text-anchor="middle" fill="#4D4D4D">1.00</text>
<text x="1651" y="197.7" font-size="36.5" text-anchor="end" fill="#4D4D4D">1.00</text>
<text x="2313" y="118.5" font-size="55" text-anchor="middle" fill="#000">Feature curves</text>
<text x="2313" y="937.1" font-size="45.83" text-anchor="middle" fill="#000">Priority rank</text>
<text transform="translate(1560,496) rotate(-90)" font-size="45.83" text-anchor="middle" fill="#000">Coverage</text>
<line x1="1730.3" x2="1730.3" y1="1064.6" y2="1751.8" stroke="#EBEBEB" stroke-width="4.4"/>
<line x1="1846.9" x2="1846.9" y1="1064.6" y2="1751.8" stroke="#EBEBEB" stroke-width="4.4"/>
<line x1="1963.4" x2="1963.4" y1="1064.6" y2="1751.8" stroke="#EBEBEB" stroke-width="4.4"/>
<line x1="2080.0" x2="2080.0" y1="1064.6" y2="1751.8" stroke="#EBEBEB" stroke-width="4.4"/>
<line x1="2196.5" x2="2196.5" y1="1064.6" y2="1751.8" stroke="#EBEBEB" stroke-width="4.4"/>
<line x1="2313.1" x2="2313.1" y1="1064.6" y2="1751.8" stroke="#EBEBEB" stroke-width="4.4"/>
<line x1="2429.7" x2="2429.7" y1="1064.6" y2="1751.8" stroke="#EBEBEB" stroke-width="4.4"/>
<line x1="2546.2" x2="2546.2" y1="1064.6" y2="1751.8" stroke="#EBEBEB" stroke-width="4.4"/>
<line x1="2662.8" x2="2662.8" y1="1064.6" y2="1751.8" stroke="#EBEBEB" stroke-width="4.4"/>
<line x1="2779.3" x2="2779.3" y1="1064.6" y2="1751.8" stroke="#EBEBEB" stroke-width="4.4"/>
<line x1="2895.9" x2="2895.9" y1="1064.6" y2="1751.8" stroke="#EBEBEB" stroke-width="4.4"/>
<line y1="1720.3" y2="1720.3" x1="1672.0" x2="2953.8" stroke="#EBEBEB" stroke-width="4.4"/>
<line y1="1512.1" y2="1512.1" x1="1672.0" x2="2953.8" stroke="#EBEBEB" stroke-width="4.4"/>
<line y1="1303.9" y2="1303.9" x1="1672.0" x2="2953.8" stroke="#EBEBEB" stroke-width="4.4"/>
<line y1="1095.7" y2="1095.7" x1="1672.0" x2="2953.8" stroke="#EBEBEB" stroke-width="4.4"/>
<rect x="1730.3" y="1678.7" width="116.6" height="41.6" fill="#A9A9A9" stroke="#000" stroke-width="4.4" stroke-linejoin="miter"/>
<rect x="1846.9" y="1095.7" width="116.6" height="624.6" fill="#A9A9A9" stroke="#000" stroke-width="4.4" stroke-linejoin="miter"/>
<rect x="1963.4" y="1408.0" width="116.6" height="312.3" fill="#A9A9A9" stroke="#000" stroke-width="4.4" stroke-linejoin="miter"/>
<rect x="2080.0" y="1408.0" width="116.6" height="312.3" fill="#A9A9A9" stroke="#000" stroke-width="4.4" stroke-linejoin="miter"/>
<rect x="2196.5" y="1637.0" width="116.6" height="83.3" fill="#A9A9A9" stroke="#000" stroke-width="4.4" stroke-linejoin="miter"/>
<rect x="2313.1" y="1720.3" width="116.6" height="0.0" fill="#A9A9A9" stroke="#000" stroke-width="4.4" stroke-linejoin="miter"/>
<rect x="2429.7" y="1699.5" width="116.6" height="20.8" fill="#A9A9A9" stroke="#000" stroke-width="4.4" stroke-linejoin="miter"/>
<rect x="2546.2" y="1720.3" width="116.6" height="0.0" fill="#A9A9A9" stroke="#000" stroke-width="4.4" stroke-linejoin="miter"/>
<rect x="2662.8" y="1720.3" width="116.6" height="0.0" fill="#A9A9A9" stroke="#000" stroke-width="4.4" stroke-linejoin="miter"/>
<rect x="2779.3" y="1720.3" width="116.6" height="0.0" fill="#A9A9A9" stroke="#000" stroke-width="4.4" stroke-linejoin="miter"/>
<line x1="2313.1" x2="2429.7" y1="1720.3" y2="1720.3" stroke="#000" stroke-width="4.4"/>
<line x1="2546.2" x2="2895.9" y1="1720.3" y2="1720.3" stroke="#000" stroke-width="4.4"/>
<text x="1730.3" y="1798.0" font-size="36.5" text-anchor="middle" fill="#4D4D4D">0.0</text>
<text x="1846.9" y="1798.0" font-size="36.5" text-anchor="middle" fill="#4D4D4D">0.1</text>
<text x="1963.4" y="1798.0" font-size="36.5" text-anchor="middle" fill="#4D4D4D">0.2</text>
<text x="2080.0" y="1798.0" font-size="36.5" text-anchor="middle" fill="#4D4D4D">0.3</text>
<text x="2196.5" y="1798.0" font-size="36.5" text-anchor="middle" fill="#4D4D4D">0.4</text>
<text x="2313.1" y="1798.0" font-size="36.5" text-anchor="middle" fill="#4D4D4D">0.5</text>
<text x="2429.7" y="1798.0" font-size="36.5" text-anchor="middle" fill="#4D4D4D">0.6</text>
<text x="2546.2" y="1798.0" font-size="36.5" text-anchor="middle" fill="#4D4D4D">0.7</text>
<text x="2662.8" y="1798.0" font-size="36.5" text-anchor="middle" fill="#4D4D4D">0.8</text>
<text x="2779.3" y="1798.0" font-size="36.5" text-anchor="middle" fill="#4D4D4D">0.9</text>
<text x="2895.9" y="1798.0" font-size="36.5" text-anchor="middle" fill="#4D4D4D">1.0</text>
<text x="1651" y="1733.2" font-size="36.5" text-anchor="end" fill="#4D4D4D">0</text>
<text x="1651" y="1525.0" font-size="36.5" text-anchor="end" fill="#4D4D4D">10</text>
<text x="1651" y="1316.8" font-size="36.5" text-anchor="end" fill="#4D4D4D">20</text>
<text x="1651" y="1108.6" font-size="36.5" text-anchor="end" fill="#4D4D4D">30</text>
<text x="2313" y="1031" font-size="55" text-anchor="middle" fill="#000">Coverage at the top 10%</text>
<text x="2313" y="1848.7" font-size="45.83" text-anchor="middle" fill="#000">Coverage Level</text>
<text transform="translate(1560,1408) rotate(-90)" font-size="45.83" text-anchor="middle" fill="#000">Feature Count</text>
</svg>
</body></html>
